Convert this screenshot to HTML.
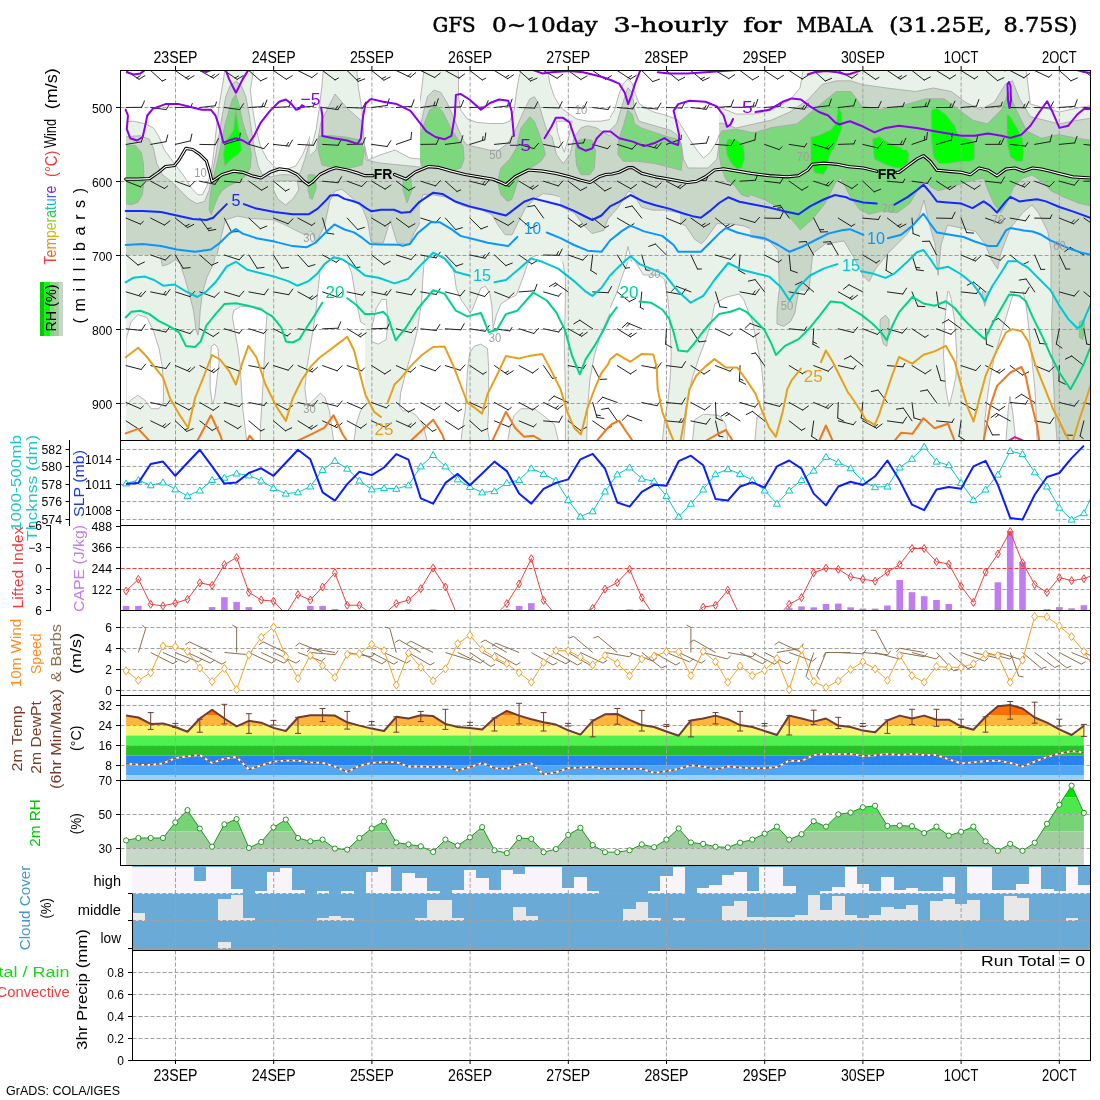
<!DOCTYPE html><html><head><meta charset="utf-8"><style>html,body{margin:0;padding:0;background:#fff;}svg{display:block;}</style></head><body><svg width="1100" height="1100" viewBox="0 0 1100 1100" font-family="'Liberation Sans', sans-serif">
<rect width="1100" height="1100" fill="#fff"/>
<defs>
<clipPath id="cTop"><rect x="120.5" y="70.5" width="970" height="370"/></clipPath>
<clipPath id="cSlp"><rect x="120.5" y="440.5" width="970" height="85"/></clipPath>
<clipPath id="cCape"><rect x="120.5" y="525.5" width="970" height="85"/></clipPath>
<clipPath id="cWind"><rect x="120.5" y="610.5" width="970" height="85"/></clipPath>
<clipPath id="cTemp"><rect x="120.5" y="695.5" width="970" height="85"/></clipPath>
<clipPath id="cRh"><rect x="120.5" y="780.5" width="970" height="85"/></clipPath>
</defs>
<text x="432.4" y="32.4" font-family="'DejaVu Serif', 'Liberation Serif', serif" font-size="20.5" stroke="#000" stroke-width="0.5" textLength="43.3" lengthAdjust="spacingAndGlyphs" fill="#000">GFS</text>
<text x="492" y="32.4" font-family="'DejaVu Serif', 'Liberation Serif', serif" font-size="20.5" stroke="#000" stroke-width="0.5" textLength="105.7" lengthAdjust="spacingAndGlyphs" fill="#000">0~10day</text>
<text x="613.6" y="32.4" font-family="'DejaVu Serif', 'Liberation Serif', serif" font-size="20.5" stroke="#000" stroke-width="0.5" textLength="114.6" lengthAdjust="spacingAndGlyphs" fill="#000">3-hourly</text>
<text x="743.2" y="32.4" font-family="'DejaVu Serif', 'Liberation Serif', serif" font-size="20.5" stroke="#000" stroke-width="0.5" textLength="38.2" lengthAdjust="spacingAndGlyphs" fill="#000">for</text>
<text x="796.4" y="32.4" font-family="'DejaVu Serif', 'Liberation Serif', serif" font-size="20.5" stroke="#000" stroke-width="0.5" textLength="76.3" lengthAdjust="spacingAndGlyphs" fill="#000">MBALA</text>
<text x="888.9" y="32.4" font-family="'DejaVu Serif', 'Liberation Serif', serif" font-size="20.5" stroke="#000" stroke-width="0.5" textLength="103.1" lengthAdjust="spacingAndGlyphs" fill="#000">(31.25E,</text>
<text x="1003.6" y="32.4" font-family="'DejaVu Serif', 'Liberation Serif', serif" font-size="20.5" stroke="#000" stroke-width="0.5" textLength="73.9" lengthAdjust="spacingAndGlyphs" fill="#000">8.75S)</text>
<g clip-path="url(#cTop)">
<rect x="126.1" y="70" width="964.4" height="371" fill="#e8f2e8"/>
<clipPath id="ch0"><rect x="126.1" y="70" width="238.9" height="185"/></clipPath>
<g clip-path="url(#ch0)">
<polygon points="125.6,70 224.7,70 223.6,78.9 221.3,92.3 219.1,105.6 216.9,123.5 214.7,143.5 212.4,163.5 210.2,174.7 206.9,185.8 202.4,194.7 198,194.7 191.3,188 184.6,176.9 177.9,168 171.2,159.1 164.5,150.2 159,136.8 153.4,127.9 144.5,123.5 133.4,121.2 125.6,121.7" fill="#ffffff" stroke="#aaa2aa" stroke-width="0.8"/>
<polygon points="253.6,70 329.4,70 326,78.9 321.6,94.5 318.2,110.1 313.8,125.7 308.2,141.3 302.6,154.6 295.9,165.8 287,169.1 275.9,168 267,159.1 260.3,145.7 255.9,127.9 252.5,107.9 250.3,90" fill="#ffffff" stroke="#aaa2aa" stroke-width="0.8"/>
<polygon points="338.3,78.9 353.9,74.5 367.2,76.7 367.2,92.3 351.6,94.5 340.5,90" fill="#ffffff" stroke="#aaa2aa" stroke-width="0.8"/>
<polygon points="125.6,136.8 140,135.7 149,139 153.4,148 156.7,163.5 162.3,174.7 171.2,181.4 180.1,190.3 189,199.2 196.8,203.6 204.6,201.4 209.1,190.3 212.4,172.4 215.8,154.6 219.1,134.6 222.4,114.5 225.8,96.7 230.2,85.6 235.8,81.1 241.4,85.6 245.8,96.7 249.2,114.5 251.8,132.4 254.7,150.2 258.1,165.8 262.5,174.7 271.4,176.9 280.4,174.7 289.3,174.7 295.9,176.9 300.4,172.4 304.9,159.1 309.3,143.5 313.8,132.4 319.3,121.2 327.1,114.5 338.3,111.2 351.6,110.1 367.2,111.2 367.2,190 349.8,182.5 342.3,182.5 331.8,190 327.3,197.4 319.8,219.9 313.8,234.8 304.9,234.8 295.9,230.4 283.9,224.3 273.5,219.9 263,219.2 249.4,218.3 237.4,216.1 225.3,219.9 216.4,257.1 209.1,257.1 125.6,257.1" fill="#c8d7c8" stroke="#aaa2aa" stroke-width="0.8"/>
<polygon points="273.5,180.9 297.3,180.9 298.8,190 292.8,199 285.5,205 277.9,199 273.5,190" fill="#e8f2e8" stroke="#aaa2aa" stroke-width="0.8"/>
<polygon points="333.8,257.1 337.1,243.7 342.7,239.3 349.4,243.7 351.6,257.1" fill="#ffffff" stroke="#aaa2aa" stroke-width="0.8"/>
<polygon points="125.6,144.6 135.6,145.7 141.2,152.4 143.4,163.5 144.1,181.4 142.3,194.7 137.8,202.5 131.1,204.7 125.6,203.6" fill="#7dd77d" stroke="#aaa2aa" stroke-width="0.8"/>
<polygon points="235.8,94.5 239.2,105.6 242.5,121.2 245.8,132.4 249.2,141.3 251.4,154.6 250.3,168 244.7,176.9 238,181.4 229.1,185.8 222.4,190.3 218,196.9 213.5,208.1 211.3,214.8 209.1,210.3 210.2,194.7 213.5,176.9 218,159.1 221.3,143.5 224.7,125.7 229.1,110.1 232.5,99" fill="#7dd77d" stroke="#aaa2aa" stroke-width="0.8"/>
<polygon points="320.4,136.8 329.4,134.6 340.5,133.5 351.6,136.8 362.8,141.3 367.2,142.4 367.2,168 356.1,168 342.7,163.5 331.6,163.5 322.7,161.3 319.3,150.2" fill="#7dd77d" stroke="#aaa2aa" stroke-width="0.8"/>
<polygon points="308,174.9 314,174.9 316.9,182.5 314,200.5 310.9,201.8 308,190" fill="#7dd77d" stroke="#aaa2aa" stroke-width="0.8"/>
<polygon points="235.8,110.1 238,125.7 240.3,136.8 241.4,150.2 238,154.6 231.4,159.1 224.7,165.8 223.6,154.6 224.7,143.5 229.1,136.8 233.6,130.1 234.7,119" fill="#00ff00" stroke="#aaa2aa" stroke-width="0.8"/>
</g>
<clipPath id="ch1"><rect x="365" y="70" width="245" height="185"/></clipPath>
<g clip-path="url(#ch1)">
<polygon points="362.8,70 424,70 422.9,78.9 420.7,96.7 417.3,114.5 415.1,127.9 411.8,141.3 407.3,152.4 400.6,159.1 391.7,159.1 382.8,154.6 373.9,145.7 362.8,136.8" fill="#ffffff" stroke="#aaa2aa" stroke-width="0.8"/>
<polygon points="458.5,70 520.9,70 518.7,78.9 516.4,92.3 514.2,110.1 509.8,121.2 503.1,123.5 489.7,123.5 476.4,122.3 467.4,119 460.8,110.1 458.5,96.7" fill="#ffffff" stroke="#aaa2aa" stroke-width="0.8"/>
<polygon points="547.6,70 612.2,70 612.2,119 601.1,121.2 587.7,121.2 576.6,119 569.9,114.5 561,107.9 554.3,96.7 549.9,83.4" fill="#ffffff" stroke="#aaa2aa" stroke-width="0.8"/>
<polygon points="362.8,134.6 371.7,143.5 378.4,150.2 391.7,163.5 405.1,168 416.2,165.8 418.5,136.8 422.9,114.5 427.4,96.7 434,90 440.7,92.3 447.4,103.4 454.1,119 460.8,134.6 465.2,143.5 469.7,145.7 480.8,148 489.7,150.2 498.6,150.2 507.5,143.5 516.4,127.9 523.1,112.3 529.8,99 534.3,96.7 538.7,103.4 543.2,119 547.6,132.4 552.1,136.8 556.5,154.6 563.2,163.5 569.9,154.6 574.4,136.8 581,127.9 587.7,125.7 596.6,127.9 603.3,132.4 612.2,136.8 612.2,221.4 601.1,225.9 596.6,219.2 587.7,212.5 578.8,203.6 569.9,199.2 561,196.9 552.1,194.7 543.2,193.6 534.3,199.2 525.4,208.1 518.7,221.4 512,234.8 505.3,234.8 498.6,225.9 491.9,214.8 483,210.3 471.9,208.1 463,205.9 454.1,201.4 445.2,196.9 431.8,194.7 422.9,194.7 418.5,208.1 414,225.9 409.5,245.9 405.1,248.2 400.6,234.8 394,223.7 387.3,217 378.4,217 371.7,225.9 367.2,234.8 362.8,239.3" fill="#c8d7c8" stroke="#aaa2aa" stroke-width="0.8"/>
<polygon points="556.5,121.2 572.1,121.2 568.8,136.8 564.3,152.4 561,143.5 557.7,132.4" fill="#ffffff" stroke="#aaa2aa" stroke-width="0.8"/>
<polygon points="420.7,132.4 429.6,110.1 436.3,105.6 443,112.3 449.6,125.7 456.3,136.8 463,145.7 464.1,159.1 460.8,168 454.1,170.2 440.7,168 429.6,165.8 422.9,168 419.6,159.1 418.5,143.5" fill="#7dd77d" stroke="#aaa2aa" stroke-width="0.8"/>
<polygon points="402.9,179.1 411.8,179.1 412.9,190.3 408.4,203.6 404,194.7" fill="#7dd77d" stroke="#aaa2aa" stroke-width="0.8"/>
<polygon points="520.9,127.9 529.8,116.8 534.3,121.2 538.7,132.4 543.2,145.7 545.4,154.6 540.9,161.3 534.3,165.8 525.4,170.2 518.7,176.9 516.4,185.8 512,199.2 507.5,201.4 500.9,194.7 497.5,181.4 500.9,168 509.8,159.1 516.4,148 518.7,136.8" fill="#7dd77d" stroke="#aaa2aa" stroke-width="0.8"/>
<polygon points="576.6,141.3 583.3,139 592.2,140.2 595.5,150.2 594.4,168 589.9,174.7 581,174.7 576.6,165.8 575.5,152.4" fill="#7dd77d" stroke="#aaa2aa" stroke-width="0.8"/>
</g>
<clipPath id="ch2"><rect x="610" y="70" width="240" height="185"/></clipPath>
<g clip-path="url(#ch2)">
<polygon points="607.8,70 806,70 804.9,87.8 801.5,99 792.6,105.6 779.3,107.9 765.9,112.3 752.5,119 734.7,122.3 725.8,121.2 721.4,127.9 716.9,141.3 710.2,152.4 703.5,158 696.9,150.2 688,136.8 681.3,125.7 676.8,119 670.1,116.8 663.5,114.5 654.5,112.3 645.6,107.9 639,103.4 635.6,94.5 632.3,83.4 627.8,78.9 623.4,83.4 618.9,94.5 614.5,110.1 607.8,121.2" fill="#ffffff" stroke="#aaa2aa" stroke-width="0.8"/>
<polygon points="607.8,132.4 616.7,123.5 623.4,101.2 627.8,87.8 632.3,92.3 634.5,110.1 639,121.2 654.5,125.7 670.1,130.1 676.8,134.6 681.3,143.5 683.5,159.1 688,168 699.1,168 708,168 716.9,159.1 719.1,143.5 721.4,132.4 725.8,125.7 743.6,123.5 765.9,119 783.7,114.5 801.5,110.1 819.4,96.7 830.5,83.4 839.4,76.7 857.2,74.5 857.2,230.4 843.9,239.3 832.7,245.9 823.8,248.2 810.4,245.9 799.3,239.3 788.2,234.8 779.3,234.8 765.9,234.8 754.8,230.4 743.6,225.9 730.3,223.7 716.9,223.7 705.8,239.3 701.3,243.7 694.6,239.3 685.7,225.9 676.8,221.4 665.7,217 654.5,210.3 643.4,205.9 632.3,201.4 623.4,196.9 614.5,194.7 607.8,194.7" fill="#c8d7c8" stroke="#aaa2aa" stroke-width="0.8"/>
<polygon points="618.9,139 623.4,125.7 627.8,110.1 632.3,114.5 634.5,123.5 641.2,127.9 654.5,132.4 667.9,136.8 676.8,139 681.3,143.5 682.4,159.1 681.3,170.2 672.4,168 654.5,163.5 636.7,161.3 623.4,161.3 617.8,154.6" fill="#7dd77d" stroke="#aaa2aa" stroke-width="0.8"/>
<polygon points="720.2,136.8 725.8,132.4 734.7,132.4 743.6,134.6 754.8,136.8 765.9,136.8 774.8,134.6 781.5,136.8 788.2,143.5 794.9,150.2 801.5,154.6 810.4,150.2 814.9,136.8 823.8,127.9 832.7,114.5 834.9,96.7 841.6,90 850.5,88.9 857.2,90 857.2,203.6 850.5,201.4 841.6,194.7 832.7,199.2 823.8,212.5 814.9,221.4 806,230.4 799.3,225.9 794.9,212.5 788.2,201.4 779.3,194.7 770.4,190.3 763.7,188 757,192.5 748.1,196.9 741.4,194.7 734.7,185.8 725.8,179.1 721.4,168 719.1,154.6" fill="#7dd77d" stroke="#aaa2aa" stroke-width="0.8"/>
<polygon points="728,139 736.9,140.2 743.6,145.7 744.7,159.1 741.4,168 736.9,169.1 731.4,163.5 726.9,154.6 725.8,145.7" fill="#00ff00" stroke="#aaa2aa" stroke-width="0.8"/>
<polygon points="812.7,136.8 821.6,141.3 830.5,136.8 834.9,127.9 837.2,114.5 839.4,105.6 842.7,114.5 841.6,127.9 837.2,141.3 832.7,152.4 829.4,159.1 826,168 823.8,174.7 817.1,174.7 812.7,168 810.4,159.1 811.6,145.7" fill="#00ff00" stroke="#aaa2aa" stroke-width="0.8"/>
</g>
<clipPath id="ch3"><rect x="850" y="70" width="240.5" height="185"/></clipPath>
<g clip-path="url(#ch3)">
<polygon points="905.7,70 1092.8,70 1092.8,96.7 1072.7,101.2 1063.8,94.5 1054.9,90 1041.5,92.3 1028.2,94.5 1019.3,87.8 1012.6,81.1 1005.9,78.9 999.2,83.4 992.5,92.3 983.6,96.7 974.7,94.5 965.8,90 954.7,87.8 943.5,85.6 930.2,83.4 916.8,78.9" fill="#ffffff" stroke="#aaa2aa" stroke-width="0.8"/>
<polygon points="847.8,87.8 863.4,83.4 876.7,87.8 894.5,90 912.4,92.3 928,94.5 943.5,96.7 956.9,101.2 970.3,110.1 983.6,114.5 994.8,105.6 1001.4,92.3 1005.9,83.4 1010.4,83.4 1017,96.7 1023.7,114.5 1032.6,125.7 1041.5,127.9 1050.4,132.4 1059.4,136.8 1068.3,136.8 1077.2,139 1092.8,141.3 1092.8,239.3 1081.6,243.7 1072.7,248.2 1063.8,257.1 1050.4,257.1 1046,239.3 1041.5,225.9 1037.1,212.5 1032.6,208.1 1025.9,212.5 1019.3,225.9 1010.4,234.8 1003.7,243.7 997,248.2 988.1,243.7 981.4,239.3 974.7,234.8 965.8,230.4 956.9,225.9 948,223.7 939.1,225.9 934.6,234.8 930.2,243.7 925.7,230.4 921.3,217 916.8,221.4 907.9,234.8 901.2,243.7 894.5,239.3 885.6,230.4 876.7,225.9 867.8,221.4 858.9,221.4 847.8,225.9" fill="#c8d7c8" stroke="#aaa2aa" stroke-width="0.8"/>
<polygon points="847.8,92.3 863.4,94.5 876.7,101.2 890.1,103.4 905.7,101.2 921.3,99 932.4,96.7 943.5,99 954.7,107.9 965.8,119 974.7,125.7 981.4,134.6 983.6,148 983.6,163.5 979.2,176.9 970.3,185.8 961.4,190.3 952.4,194.7 943.5,201.4 934.6,205.9 925.7,203.6 921.3,190.3 916.8,203.6 907.9,210.3 899,217 890.1,212.5 883.4,208.1 872.3,203.6 863.4,199.2 847.8,196.9" fill="#7dd77d" stroke="#aaa2aa" stroke-width="0.8"/>
<polygon points="994.8,143.5 1001.4,127.9 1005.9,110.1 1009.2,96.7 1012.6,103.4 1019.3,119 1025.9,127.9 1030.4,143.5 1030.4,163.5 1028.2,181.4 1023.7,190.3 1014.8,194.7 1005.9,203.6 999.2,212.5 994.8,203.6 992.5,185.8 992.5,168" fill="#7dd77d" stroke="#aaa2aa" stroke-width="0.8"/>
<polygon points="1041.5,154.6 1046,145.7 1054.9,141.3 1063.8,140.2 1072.7,143.5 1081.6,150.2 1092.8,154.6 1092.8,194.7 1081.6,194.7 1072.7,190.3 1063.8,181.4 1054.9,176.9 1046,174.7 1041.5,168" fill="#7dd77d" stroke="#aaa2aa" stroke-width="0.8"/>
<polygon points="872.3,139 879,136.8 890.1,143.5 901.2,148 909,154.6 907.9,163.5 901.2,168 894.5,168 883.4,163.5 874.5,159.1" fill="#00ff00" stroke="#aaa2aa" stroke-width="0.8"/>
<polygon points="931.3,110.1 936.9,107.9 945.8,114.5 954.7,125.7 959.1,136.8 970.3,139 974.7,143.5 974.7,159.1 970.3,161.3 961.4,161.3 948,163.5 939.1,163.5 933.5,156.9 931.3,136.8" fill="#00ff00" stroke="#aaa2aa" stroke-width="0.8"/>
<polygon points="1007,114.5 1010.4,116.8 1017,127.9 1022.6,139 1023.7,152.4 1022.6,161.3 1017,161.3 1010.4,156.9 1007,141.3" fill="#00ff00" stroke="#aaa2aa" stroke-width="0.8"/>
</g>
<clipPath id="ch4"><rect x="126.1" y="255" width="238.9" height="185.5"/></clipPath>
<g clip-path="url(#ch4)">
<polygon points="160.1,252.8 215.8,252.8 213.5,263.9 206.9,277.3 202.4,292.9 200.2,310.7 199.1,328.5 198,335.2 195.7,328.5 193.5,310.7 189,292.9 184.6,277.3 180.1,263.9 175.7,259.5 169,263.9 162.3,266.1" fill="#c8d7c8" stroke="#aaa2aa" stroke-width="0.8"/>
<polygon points="126,339.6 131.1,321.8 137.8,314.7 146.7,317.4 153.4,330.7 159,348.5 162.3,366.4 163.4,384.2 163.4,402 159,408.7 151.2,408.7 144.5,399.8 137.8,395.3 131.1,399.8 126,406.4" fill="#ffffff" stroke="#aaa2aa" stroke-width="0.8"/>
<polygon points="211.3,346.3 214.7,344.1 218,348.5 219.1,361.9 216.9,379.7 214.7,397.5 212.4,404.2 210.2,388.6 210.2,366.4" fill="#ffffff" stroke="#aaa2aa" stroke-width="0.8"/>
<polygon points="233.6,310.7 240.3,306.7 253.6,306.2 262.5,308.5 267,315.1 265.9,328.5 264.8,348.5 263.7,370.8 262.5,393.1 261.4,410.9 260.3,428.7 260.3,442.1 246.9,442.1 244.7,424.3 242.5,406.4 241.4,388.6 240.3,366.4 238,348.5 234.7,330.7 232.5,317.4" fill="#ffffff" stroke="#aaa2aa" stroke-width="0.8"/>
<polygon points="320.4,268.4 329.4,259.5 338.3,257.2 347.2,261.7 351.6,272.8 356.1,299.5 360.5,321.8 367.2,326.3 367.2,402 360.5,410.9 356.1,424.3 353.9,442.1 333.8,442.1 329.4,410.9 324.9,397.5 320.4,393.1 313.8,399.8 307.1,406.4 304.9,388.6 307.1,366.4 311.5,339.6 316,310.7 318.2,288.4" fill="#ffffff" stroke="#aaa2aa" stroke-width="0.8"/>
</g>
<clipPath id="ch5"><rect x="365" y="255" width="245" height="185.5"/></clipPath>
<g clip-path="url(#ch5)">
<polygon points="425.1,252.8 438.5,252.8 449.6,261.7 454.1,272.8 456.3,288.4 460.8,299.5 467.4,308.5 469.7,312.9 471.9,310.7 476.4,299.5 480.8,288.4 485.3,286.2 489.7,292.9 491.9,306.2 493.1,328.5 496.4,315.1 500.9,304 507.5,299.5 516.4,295.1 523.1,277.3 527.6,263.9 532,257.2 543.2,252.8 558.8,252.8 563.2,263.9 565.4,277.3 565.4,299.5 564.3,344.1 565.4,388.6 565.4,442.1 558.8,442.1 554.3,424.3 543.2,415.4 534.3,408.7 520.9,408.7 514.2,415.4 509.8,428.7 507.5,442.1 489.7,442.1 487.5,428.7 488.6,410.9 488.6,388.6 488.6,366.4 487.5,348.5 480.8,344.1 474.1,346.3 469.7,353 467.4,370.8 466.3,393.1 465.2,410.9 463,424.3 460.8,442.1 427.4,442.1 422.9,424.3 416.2,415.4 409.5,410.9 402.9,410.9 399.5,406.4 400.6,393.1 405.1,375.3 409.5,359.7 414,344.1 417.3,330.7 419.6,315.1 421.8,299.5 422.9,277.3 424,263.9" fill="#ffffff" stroke="#aaa2aa" stroke-width="0.8"/>
<polygon points="371.7,328.5 376.1,308.5 381.7,299.5 386.2,299.5 387.3,312.9 387.3,328.5 386.2,339.6 378.4,344.1 371.7,341.9" fill="#ffffff" stroke="#aaa2aa" stroke-width="0.8"/>
<polygon points="612.2,308.5 601.1,333 594.4,355.2 589.9,379.7 587.7,406.4 586.6,442.1 612.2,442.1" fill="#ffffff" stroke="#aaa2aa" stroke-width="0.8"/>
</g>
<clipPath id="ch6"><rect x="610" y="255" width="240" height="185.5"/></clipPath>
<g clip-path="url(#ch6)">
<polygon points="779.3,252.8 823.8,252.8 817.1,263.9 810.4,272.8 803.8,279.5 799.3,288.4 797.1,299.5 794.9,312.9 790.4,321.8 783.7,326.3 777,324 777,310.7 779.3,288.4 780.4,268.4" fill="#c8d7c8" stroke="#aaa2aa" stroke-width="0.8"/>
<polygon points="607.8,312.9 616.7,292.9 623.4,272.8 630,257.2 636.7,263.9 643.4,275 659,275 664.6,279.5 667.9,299.5 670.1,326.3 671.2,355.2 670.1,379.7 667.9,402 664.6,419.8 662.3,442.1 607.8,442.1" fill="#ffffff" stroke="#aaa2aa" stroke-width="0.8"/>
<polygon points="714.7,304 725.8,297.3 739.2,294 743.6,299.5 752.5,321.8 757,344.1 761.4,366.4 763.7,388.6 763.7,410.9 757,417.6 754.8,442.1 728,442.1 725.8,424.3 719.1,415.4 703.5,414.2 694.6,419.8 692.4,442.1 683.5,442.1 685.7,419.8 688,397.5 692.4,377.5 699.1,357.4 705.8,339.6 711.3,321.8" fill="#ffffff" stroke="#aaa2aa" stroke-width="0.8"/>
</g>
<clipPath id="ch7"><rect x="850" y="255" width="240.5" height="185.5"/></clipPath>
<g clip-path="url(#ch7)">
<polygon points="858.9,252.8 901.2,252.8 894.5,259.5 883.4,263.9 874.5,272.8 867.8,281.7 862.2,284 860,272.8" fill="#c8d7c8" stroke="#aaa2aa" stroke-width="0.8"/>
<polygon points="932.4,252.8 939.1,252.8 938,268.4 935.7,277.3 933.5,268.4" fill="#c8d7c8" stroke="#aaa2aa" stroke-width="0.8"/>
<polygon points="981.4,252.8 1001.4,252.8 997,266.1 992.5,277.3 988.1,295.1 984.7,306.2 982.5,295.1 981.4,277.3" fill="#c8d7c8" stroke="#aaa2aa" stroke-width="0.8"/>
<polygon points="880.1,319.6 885.6,315.1 889,319.6 889,333 886.7,346.3 883.4,344.1 880.1,330.7" fill="#c8d7c8" stroke="#aaa2aa" stroke-width="0.8"/>
<polygon points="1054.9,281.7 1059.4,277.3 1068.3,279.5 1077.2,270.6 1083.9,259.5 1092.8,252.8 1092.8,442.1 1057.1,442.1 1054.9,410.9 1052.7,366.4 1051.6,321.8 1052.7,295.1" fill="#c8d7c8" stroke="#aaa2aa" stroke-width="0.8"/>
<polygon points="948,288.4 951.3,299.5 954.7,321.8 956.9,355.2 955.8,377.5 952.4,393.1 949.1,406.4 945.8,388.6 943.5,355.2 944.7,321.8 946.9,299.5" fill="#ffffff" stroke="#aaa2aa" stroke-width="0.8"/>
<polygon points="1014.8,290.6 1022.6,290.6 1025.9,304 1028.2,321.8 1030.4,344.1 1032.6,366.4 1034.9,388.6 1036,410.9 1037.1,442.1 983.6,442.1 984.7,422 987,399.8 990.3,377.5 994.8,355.2 1001.4,333 1008.1,310.7 1011.5,299.5" fill="#ffffff" stroke="#aaa2aa" stroke-width="0.8"/>
<polygon points="1005.9,442.1 1008.1,410.9 1009.9,396.4 1012.6,410.9 1015.9,442.1" fill="#e8f2e8" stroke="#aaa2aa" stroke-width="0.8"/>
<polygon points="1079.4,321.8 1083.9,319.6 1085,330.7 1082.7,339.6 1079.4,337.4" fill="#7dd77d" stroke="#aaa2aa" stroke-width="0.8"/>
</g>
<clipPath id="pt0"><rect x="310" y="70" width="110" height="186"/></clipPath>
<g clip-path="url(#pt0)">
<polygon points="300.0,60.0 430.0,60.0 430.0,266.0 300.0,266.0" fill="#e8f2e8"/>
<polygon points="356.0,60.0 430.0,60.0 430.0,160.0 410.0,158.0 395.0,150.0 380.0,155.0 368.0,160.0 363.0,140.0 362.0,110.0 358.0,85.0" fill="#ffffff" stroke="#aaa2aa" stroke-width="0.8"/>
<polygon points="300.0,60.0 324.0,60.0 322.0,85.0 319.0,110.0 316.0,130.0 312.0,145.0 300.0,150.0" fill="#ffffff" stroke="#aaa2aa" stroke-width="0.8"/>
<polygon points="300.0,165.0 316.0,150.0 321.0,122.0 328.0,108.0 335.0,94.0 347.0,108.0 362.6,122.0 366.0,160.0 380.0,163.0 400.0,165.0 430.0,168.0 430.0,206.5 414.4,232.4 409.2,244.5 397.1,242.8 390.2,220.3 383.3,242.8 371.2,242.8 367.8,222.0 362.6,208.2 352.2,197.9 341.8,189.2 335.0,191.0 329.7,201.3 324.6,225.5 316.0,243.0 312.0,232.0 300.0,226.0" fill="#c8d7c8" stroke="#aaa2aa" stroke-width="0.8"/>
<polygon points="319.0,136.0 330.0,135.5 345.0,137.0 360.0,140.0 364.5,150.0 362.0,165.0 350.0,168.0 335.0,168.0 322.0,165.0 318.0,150.0" fill="#7dd77d" stroke="#aaa2aa" stroke-width="0.8"/>
<polygon points="403.0,179.0 411.0,179.0 412.0,190.0 407.0,203.0 403.0,190.0" fill="#7dd77d" stroke="#aaa2aa" stroke-width="0.8"/>
<polygon points="300.0,173.6 315.0,175.0 316.3,187.3 312.3,199.5 300.0,190.0" fill="#7dd77d" stroke="#aaa2aa" stroke-width="0.8"/>
</g>
<clipPath id="pt1"><rect x="560" y="185" width="120" height="77"/></clipPath>
<g clip-path="url(#pt1)">
<polygon points="550.0,175.0 690.0,175.0 690.0,272.0 550.0,272.0" fill="#e8f2e8"/>
<polygon points="550.0,175.0 690.0,175.0 690.0,214.5 664.7,210.2 653.0,210.2 641.5,207.3 632.7,192.7 628.4,191.3 618.2,207.3 608.0,219.0 603.6,230.5 592.0,233.5 583.3,224.7 574.5,213.0 550.0,201.5" fill="#c8d7c8" stroke="#aaa2aa" stroke-width="0.8"/>
<polygon points="622.0,272.0 628.0,246.5 634.0,272.0" fill="#ffffff" stroke="#aaa2aa" stroke-width="0.8"/>
</g>
<clipPath id="pt2"><rect x="800" y="70" width="120" height="192"/></clipPath>
<g clip-path="url(#pt2)">
<polygon points="790.0,60.0 930.0,60.0 930.0,272.0 790.0,272.0" fill="#e8f2e8"/>
<polygon points="790.0,150.0 806.0,135.0 815.0,115.0 825.0,98.0 832.0,85.0 845.0,80.0 860.0,84.0 880.0,88.0 900.0,92.0 930.0,95.0 930.0,272.0 905.0,272.0 895.0,258.0 880.0,252.0 865.0,255.0 860.0,251.8 850.9,242.7 836.4,237.3 818.2,239.0 790.0,246.4" fill="#c8d7c8" stroke="#aaa2aa" stroke-width="0.8"/>
<polygon points="834.5,90.0 847.3,88.2 860.0,99.0 869.0,104.5 881.8,102.7 901.8,117.3 912.7,111.8 930.0,108.0 930.0,197.3 918.2,200.9 909.1,208.2 900.0,215.5 890.9,213.6 881.8,211.8 872.7,215.5 863.6,215.5 861.8,210.0 854.5,197.3 843.6,182.7 838.2,174.5 834.5,186.4 827.3,208.2 818.2,219.0 807.3,228.2 790.0,230.0 790.0,148.0 803.6,142.7 811.0,130.0 818.2,121.0 827.3,106.4" fill="#7dd77d" stroke="#aaa2aa" stroke-width="0.8"/>
<polygon points="810.9,137.3 818.2,135.5 830.9,130.0 836.4,122.7 838.2,106.4 841.8,113.6 841.8,128.2 836.4,142.7 829.1,157.3 827.3,168.2 823.6,174.5 814.5,172.7 810.9,160.9" fill="#00ff00" stroke="#aaa2aa" stroke-width="0.8"/>
<polygon points="872.7,139.0 880.0,137.3 890.9,144.5 905.5,148.2 909.1,153.6 905.5,164.5 898.2,171.8 887.3,168.2 876.4,164.5 873.6,151.8" fill="#00ff00" stroke="#aaa2aa" stroke-width="0.8"/>
</g>
<clipPath id="pt3"><rect x="750" y="150" width="340.5" height="141"/></clipPath>
<g clip-path="url(#pt3)">
<polygon points="740.0,140.0 1100.5,140.0 1100.5,301.0 740.0,301.0" fill="#e8f2e8"/>
<polygon points="740.0,140.0 1100.5,140.0 1100.5,301.0 1051.0,301.0 1051.0,250.0 1047.8,231.5 1038.4,212.7 1032.1,204.9 1022.7,212.7 1010.2,228.4 1000.8,253.4 997.6,269.1 991.4,259.7 985.1,244.0 975.7,231.5 963.2,228.4 947.5,225.2 941.2,244.0 938.1,275.4 935.0,244.0 928.7,222.1 924.0,200.2 919.3,215.8 906.7,234.6 887.9,253.4 875.4,269.1 869.1,281.7 862.9,275.4 853.4,256.6 844.0,240.9 825.2,244.0 812.7,253.4 808.0,301.0 779.8,301.0 778.2,250.3 768.8,240.9 740.0,234.6" fill="#c8d7c8" stroke="#aaa2aa" stroke-width="0.8"/>
<polygon points="740.0,140.0 1100.5,140.0 1100.5,208.0 1079.1,203.3 1063.5,197.0 1050.9,190.8 1041.5,181.3 1032.1,175.1 1022.7,178.2 1013.3,187.6 1007.0,203.3 1000.8,212.7 994.5,204.9 988.2,190.8 983.5,178.2 975.7,179.8 963.2,182.9 950.6,187.6 938.1,190.8 931.8,187.6 924.0,179.8 919.3,187.6 909.9,203.3 897.3,212.7 881.7,211.1 869.1,214.3 859.7,209.6 850.3,197.0 840.9,178.2 836.2,181.3 825.2,203.3 812.7,219.0 800.2,230.0 793.9,222.1 781.3,209.6 765.7,200.2 740.0,190.8" fill="#7dd77d" stroke="#aaa2aa" stroke-width="0.8"/>
<polygon points="872.3,140.0 879.0,140.0 890.1,140.0 901.2,140.0 909.0,154.6 907.9,163.5 901.2,168.0 894.5,168.0 883.4,163.5 874.5,159.1" fill="#00ff00" stroke="#aaa2aa" stroke-width="0.8"/>
<polygon points="931.3,140.0 936.9,140.0 945.8,140.0 954.7,140.0 959.1,140.0 970.3,140.0 974.7,140.0 974.7,159.1 970.3,161.3 961.4,161.3 948.0,163.5 939.1,163.5 933.5,156.9 931.3,140.0" fill="#00ff00" stroke="#aaa2aa" stroke-width="0.8"/>
<polygon points="1007.0,140.0 1010.4,140.0 1017.0,140.0 1022.6,140.0 1023.7,152.4 1022.6,161.3 1017.0,161.3 1010.4,156.9 1007.0,140.0" fill="#00ff00" stroke="#aaa2aa" stroke-width="0.8"/>
<polygon points="810.9,140.0 818.2,140.0 830.9,140.0 836.4,140.0 838.2,140.0 841.8,140.0 841.8,140.0 836.4,140.0 829.1,157.3 827.3,168.2 823.6,174.5 814.5,172.7 810.9,160.9" fill="#00ff00" stroke="#aaa2aa" stroke-width="0.8"/>
</g>
<clipPath id="pt4"><rect x="719" y="70" width="371.5" height="80"/></clipPath>
<g clip-path="url(#pt4)">
<polygon points="709.0,60.0 1100.5,60.0 1100.5,160.0 709.0,160.0" fill="#ffffff"/>
<polygon points="709.0,112.0 721.5,108.0 735.9,114.0 753.9,114.0 771.8,110.0 789.8,100.0 800.0,88.0 805.0,60.0 1000.0,60.0 1005.0,72.0 1012.4,60.0 1025.0,60.0 1030.3,104.0 1044.7,108.0 1059.1,112.0 1077.0,108.0 1100.5,104.0 1100.5,160.0 709.0,160.0" fill="#e8f2e8" stroke="#aaa2aa" stroke-width="0.8"/>
<polygon points="709.0,126.0 721.5,123.0 735.9,128.0 753.9,124.0 771.8,120.0 789.8,112.0 807.7,100.0 822.1,84.4 836.4,80.8 850.8,80.8 861.6,84.4 886.7,88.0 915.4,91.5 933.4,88.0 951.3,91.5 965.7,102.3 980.1,109.5 994.4,102.3 1005.2,84.4 1012.4,80.8 1019.6,98.7 1030.3,116.7 1044.7,120.3 1059.1,123.9 1077.0,120.3 1100.5,116.7 1100.5,160.0 709.0,160.0" fill="#c8d7c8" stroke="#aaa2aa" stroke-width="0.8"/>
<polygon points="709.0,160.0 721.5,131.0 735.9,129.2 753.9,132.8 771.8,127.5 797.0,123.9 818.5,105.9 836.4,91.5 850.8,91.5 861.6,105.9 879.5,109.5 901.1,105.9 926.2,98.7 944.2,98.7 958.5,109.5 972.9,120.3 987.3,123.9 1001.6,109.5 1008.8,91.5 1016.0,109.5 1026.8,131.0 1041.1,138.2 1059.1,134.6 1077.0,138.2 1100.5,141.8 1100.5,160.0" fill="#7dd77d" stroke="#aaa2aa" stroke-width="0.8"/>
<polygon points="728.0,139.0 737.0,140.2 743.6,145.7 744.7,160.0 741.4,160.0 737.0,160.0 731.4,160.0 726.9,160.0 725.8,145.7" fill="#00ff00" stroke="#aaa2aa" stroke-width="0.8"/>
<polygon points="872.3,139.0 879.0,136.8 890.1,143.5 901.2,148.0 909.0,160.0 907.9,160.0 901.2,160.0 894.5,160.0 883.4,160.0 874.5,160.0" fill="#00ff00" stroke="#aaa2aa" stroke-width="0.8"/>
<polygon points="931.3,110.1 936.9,107.9 945.8,114.5 954.7,125.7 959.1,136.8 970.3,139.0 974.7,143.5 974.7,160.0 970.3,160.0 961.4,160.0 948.0,160.0 939.1,160.0 933.5,160.0 931.3,136.8" fill="#00ff00" stroke="#aaa2aa" stroke-width="0.8"/>
<polygon points="1007.0,114.5 1010.4,116.8 1017.0,127.9 1022.6,139.0 1023.7,160.0 1022.6,160.0 1017.0,160.0 1010.4,160.0 1007.0,141.3" fill="#00ff00" stroke="#aaa2aa" stroke-width="0.8"/>
<polygon points="810.9,137.3 818.2,135.5 830.9,130.0 836.4,122.7 838.2,106.4 841.8,113.6 841.8,128.2 836.4,142.7 829.1,160.0 827.3,160.0 823.6,160.0 814.5,160.0 810.9,160.0" fill="#00ff00" stroke="#aaa2aa" stroke-width="0.8"/>
</g>
</g>
<line x1="120.5" y1="107.5" x2="1090.5" y2="107.5" stroke="#a0a0a0" stroke-width="1" stroke-dasharray="4 2" />
<line x1="120.5" y1="181.5" x2="1090.5" y2="181.5" stroke="#a0a0a0" stroke-width="1" stroke-dasharray="4 2" />
<line x1="120.5" y1="255.5" x2="1090.5" y2="255.5" stroke="#a0a0a0" stroke-width="1" stroke-dasharray="4 2" />
<line x1="120.5" y1="329.5" x2="1090.5" y2="329.5" stroke="#a0a0a0" stroke-width="1" stroke-dasharray="4 2" />
<line x1="120.5" y1="403.5" x2="1090.5" y2="403.5" stroke="#a0a0a0" stroke-width="1" stroke-dasharray="4 2" />
<line x1="175.5" y1="70.5" x2="175.5" y2="440.5" stroke="#a0a0a0" stroke-width="1" stroke-dasharray="4 2"/>
<line x1="273.7" y1="70.5" x2="273.7" y2="440.5" stroke="#a0a0a0" stroke-width="1" stroke-dasharray="4 2"/>
<line x1="371.9" y1="70.5" x2="371.9" y2="440.5" stroke="#a0a0a0" stroke-width="1" stroke-dasharray="4 2"/>
<line x1="470.1" y1="70.5" x2="470.1" y2="440.5" stroke="#a0a0a0" stroke-width="1" stroke-dasharray="4 2"/>
<line x1="568.3" y1="70.5" x2="568.3" y2="440.5" stroke="#a0a0a0" stroke-width="1" stroke-dasharray="4 2"/>
<line x1="666.5" y1="70.5" x2="666.5" y2="440.5" stroke="#a0a0a0" stroke-width="1" stroke-dasharray="4 2"/>
<line x1="764.7" y1="70.5" x2="764.7" y2="440.5" stroke="#a0a0a0" stroke-width="1" stroke-dasharray="4 2"/>
<line x1="862.9" y1="70.5" x2="862.9" y2="440.5" stroke="#a0a0a0" stroke-width="1" stroke-dasharray="4 2"/>
<line x1="961.1" y1="70.5" x2="961.1" y2="440.5" stroke="#a0a0a0" stroke-width="1" stroke-dasharray="4 2"/>
<line x1="1059.3" y1="70.5" x2="1059.3" y2="440.5" stroke="#a0a0a0" stroke-width="1" stroke-dasharray="4 2"/>
<g clip-path="url(#cTop)" fill="none" stroke-linejoin="round" stroke-linecap="round">
<path d="M126.1,70.6L139.0,79.3M139.0,79.3l6.0,-3.6M136.9,77.9l3.4,-2.1M150.7,70.6L162.2,81.0M162.2,81.0l3.7,-1.6M175.3,70.6L188.1,79.3M188.1,79.3l6.0,-3.6M186.0,77.9l3.4,-2.1M199.8,70.6L213.4,78.1M213.4,78.1l5.6,-4.1M211.2,76.9l3.2,-2.4M224.4,70.6L237.1,79.4M237.1,79.4l6.0,-3.6M235.1,78.0l3.4,-2.0M248.9,70.6L260.6,80.8M260.6,80.8l6.4,-2.9M273.5,70.6L286.3,79.3M286.3,79.3l6.0,-3.6M298.0,70.6L311.9,77.6M311.9,77.6l5.5,-4.3M322.6,70.6L335.0,79.9M335.0,79.9l3.5,-1.9M347.2,70.6L358.2,81.4M358.2,81.4l6.5,-2.5M356.5,79.7l3.7,-1.4M371.7,70.6L383.9,80.2M383.9,80.2l6.2,-3.2M382.0,78.6l3.6,-1.8M396.3,70.6L410.3,77.2M410.3,77.2l5.4,-4.5M408.0,76.2l3.1,-2.6M420.8,70.6L434.7,77.5M434.7,77.5l5.5,-4.4M445.4,70.6L459.0,78.1M459.0,78.1l5.6,-4.1M469.9,70.6L482.3,80.0M482.3,80.0l3.5,-1.9M494.5,70.6L507.7,78.7M507.7,78.7l5.8,-3.9M505.6,77.4l3.3,-2.2M519.1,70.6L530.6,81.0M530.6,81.0l6.4,-2.8M528.7,79.3l3.7,-1.6M543.6,70.6L557.1,78.3M557.1,78.3l5.7,-4.0M568.2,70.6L580.9,79.5M580.9,79.5l6.1,-3.5M592.7,70.6L605.5,79.3M605.5,79.3l6.0,-3.6M617.3,70.6L630.3,79.1M630.3,79.1l5.9,-3.7M628.2,77.7l3.4,-2.1M641.8,70.6L652.8,81.6M652.8,81.6l6.6,-2.4M666.4,70.6L678.4,80.4M678.4,80.4l6.3,-3.1M690.9,70.6L702.8,80.6M702.8,80.6l6.4,-2.9M700.9,79.0l3.6,-1.7M715.5,70.6L728.8,78.6M728.8,78.6l5.8,-3.9M740.1,70.6L752.6,79.8M752.6,79.8l6.1,-3.4M764.6,70.6L777.6,79.1M777.6,79.1l5.9,-3.7M789.2,70.6L802.2,79.0M802.2,79.0l5.9,-3.7M813.7,70.6L825.3,81.0M825.3,81.0l6.4,-2.7M838.3,70.6L851.8,78.2M851.8,78.2l5.7,-4.1M862.8,70.6L875.6,79.4M875.6,79.4l3.4,-2.0M887.4,70.6L900.3,79.2M900.3,79.2l6.0,-3.7M898.3,77.8l3.4,-2.1M912.0,70.6L924.2,80.1M924.2,80.1l6.2,-3.2M936.5,70.6L949.7,78.8M949.7,78.8l5.9,-3.8M961.1,70.6L974.3,78.8M974.3,78.8l3.3,-2.2M985.6,70.6L997.5,80.6M997.5,80.6l6.4,-2.9M1010.2,70.6L1023.9,77.8M1023.9,77.8l5.6,-4.2M1034.7,70.6L1048.8,77.2M1048.8,77.2l3.1,-2.6M1059.3,70.6L1071.0,80.8M1071.0,80.8l6.4,-2.9M1083.9,70.6L1096.0,80.3M1096.0,80.3l6.3,-3.1M126.1,107.5L141.6,107.3M141.6,107.3l2.9,-6.4M150.7,107.5L166.1,109.6M166.1,109.6l3.8,-5.9M175.3,107.5L190.7,107.2M190.7,107.2l1.6,-3.7M199.8,107.5L215.2,105.8M215.2,105.8l1.3,-3.8M224.4,107.5L239.7,109.6M239.7,109.6l3.8,-5.9M248.9,107.5L264.4,106.5M264.4,106.5l2.5,-6.5M261.9,106.7l1.5,-3.7M273.5,107.5L289.0,106.7M289.0,106.7l2.6,-6.5M298.0,107.5L313.5,106.2M313.5,106.2l1.4,-3.7M322.6,107.5L337.9,109.6M337.9,109.6l3.8,-5.9M335.5,109.3l2.2,-3.4M347.2,107.5L362.6,108.1M362.6,108.1l3.2,-6.2M371.7,107.5L387.1,105.5M387.1,105.5l2.1,-6.7M396.3,107.5L411.7,106.3M411.7,106.3l2.4,-6.6M420.8,107.5L436.2,105.4M436.2,105.4l2.1,-6.7M433.7,105.7l1.2,-3.8M445.4,107.5L460.9,106.8M460.9,106.8l2.7,-6.5M469.9,107.5L485.4,107.0M485.4,107.0l2.8,-6.4M494.5,107.5L509.9,105.7M509.9,105.7l2.2,-6.6M507.4,106.0l1.3,-3.8M519.1,107.5L534.5,108.1M534.5,108.1l3.2,-6.2M543.6,107.5L559.1,107.9M559.1,107.9l3.1,-6.3M568.2,107.5L583.7,108.0M583.7,108.0l3.2,-6.2M592.7,107.5L608.1,109.5M608.1,109.5l2.1,-3.4M617.3,107.5L632.7,108.9M632.7,108.9l3.5,-6.0M641.8,107.5L657.3,109.1M657.3,109.1l3.6,-6.0M666.4,107.5L681.9,108.1M681.9,108.1l3.2,-6.2M690.9,107.5L706.3,109.3M706.3,109.3l3.7,-6.0M703.9,109.0l2.1,-3.4M715.5,107.5L731.0,106.4M731.0,106.4l2.5,-6.5M740.1,107.5L755.5,106.0M755.5,106.0l2.3,-6.6M753.0,106.3l1.3,-3.8M764.6,107.5L780.1,106.2M780.1,106.2l1.4,-3.8M789.2,107.5L804.6,109.2M804.6,109.2l3.6,-6.0M802.1,108.9l2.1,-3.4M813.7,107.5L829.1,105.7M829.1,105.7l2.2,-6.6M838.3,107.5L853.7,105.8M853.7,105.8l2.2,-6.6M862.8,107.5L878.3,107.6M878.3,107.6l3.0,-6.3M887.4,107.5L902.9,106.4M902.9,106.4l1.4,-3.7M912.0,107.5L927.4,106.4M927.4,106.4l2.5,-6.5M924.9,106.6l1.4,-3.7M936.5,107.5L952.0,107.5M952.0,107.5l2.9,-6.4M949.5,107.5l1.7,-3.6M961.1,107.5L976.5,106.1M976.5,106.1l2.4,-6.6M985.6,107.5L1001.0,105.9M1001.0,105.9l1.3,-3.8M1010.2,107.5L1025.7,107.8M1025.7,107.8l3.1,-6.3M1023.2,107.7l1.8,-3.6M1034.7,107.5L1050.2,108.0M1050.2,108.0l3.2,-6.2M1059.3,107.5L1074.8,106.3M1074.8,106.3l2.4,-6.6M1083.9,107.5L1099.3,108.6M1099.3,108.6l3.4,-6.1M126.1,144.4L141.4,141.9M141.4,141.9l1.1,-3.8M150.7,144.4L166.0,141.7M166.0,141.7l1.8,-6.8M175.3,144.4L190.4,140.9M190.4,140.9l1.5,-6.8M199.8,144.4L215.3,144.7M215.3,144.7l3.1,-6.3M224.4,144.4L239.2,140.0M239.2,140.0l1.1,-6.9M248.9,144.4L263.9,148.6M263.9,148.6l4.6,-5.3M273.5,144.4L288.9,146.1M288.9,146.1l3.6,-6.0M286.4,145.8l2.1,-3.4M298.0,144.4L313.5,145.3M313.5,145.3l3.3,-6.2M322.6,144.4L338.1,145.3M338.1,145.3l3.4,-6.1M347.2,144.4L362.6,144.1M362.6,144.1l2.8,-6.4M371.7,144.4L387.1,146.5M387.1,146.5l3.8,-5.9M396.3,144.4L410.9,139.3M410.9,139.3l0.7,-7.0M420.8,144.4L436.3,144.2M436.3,144.2l2.9,-6.4M445.4,144.4L460.8,142.4M460.8,142.4l2.1,-6.7M469.9,144.4L484.8,139.8M484.8,139.8l1.0,-6.9M482.4,140.6l0.6,-4.0M494.5,144.4L509.9,142.9M509.9,142.9l2.4,-6.6M519.1,144.4L533.9,148.6M533.9,148.6l4.6,-5.3M543.6,144.4L558.8,147.5M558.8,147.5l4.2,-5.6M568.2,144.4L583.6,142.8M583.6,142.8l1.3,-3.8M592.7,144.4L607.6,148.7M607.6,148.7l2.6,-3.0M617.3,144.4L632.0,149.1M632.0,149.1l4.8,-5.1M641.8,144.4L656.8,148.3M656.8,148.3l4.5,-5.4M654.4,147.6l2.5,-3.1M666.4,144.4L681.0,139.2M681.0,139.2l0.4,-4.0M690.9,144.4L706.4,143.1M706.4,143.1l2.4,-6.6M715.5,144.4L731.0,145.6M731.0,145.6l3.4,-6.1M740.1,144.4L754.9,140.0M754.9,140.0l1.0,-6.9M764.6,144.4L779.2,149.6M779.2,149.6l2.8,-2.8M789.2,144.4L804.5,146.8M804.5,146.8l2.2,-3.3M813.7,144.4L828.5,149.0M828.5,149.0l4.7,-5.2M826.1,148.3l2.7,-3.0M838.3,144.4L853.8,143.9M853.8,143.9l1.6,-3.7M862.8,144.4L877.9,148.0M877.9,148.0l4.4,-5.5M887.4,144.4L902.9,144.6M902.9,144.6l3.0,-6.3M900.4,144.5l1.7,-3.6M912.0,144.4L926.6,139.4M926.6,139.4l0.8,-7.0M924.3,140.2l0.4,-4.0M936.5,144.4L951.4,140.0M951.4,140.0l1.0,-6.9M961.1,144.4L976.3,141.5M976.3,141.5l1.7,-6.8M985.6,144.4L1001.1,144.3M1001.1,144.3l2.9,-6.3M998.6,144.4l1.7,-3.6M1010.2,144.4L1025.6,146.1M1025.6,146.1l2.1,-3.4M1034.7,144.4L1050.0,141.7M1050.0,141.7l1.8,-6.8M1059.3,144.4L1074.7,142.9M1074.7,142.9l2.4,-6.6M1083.9,144.4L1099.2,146.3M1099.2,146.3l3.7,-5.9M126.1,181.2L140.6,186.8M140.6,186.8l5.0,-4.9M150.7,181.2L164.4,188.5M164.4,188.5l3.2,-2.4M175.3,181.2L189.8,186.5M189.8,186.5l4.9,-5.0M199.8,181.2L215.0,184.3M215.0,184.3l4.1,-5.6M224.4,181.2L239.8,182.6M239.8,182.6l2.0,-3.5M248.9,181.2L261.6,190.2M261.6,190.2l6.1,-3.5M273.5,181.2L285.5,191.0M285.5,191.0l3.6,-1.8M298.0,181.2L313.5,182.9M313.5,182.9l3.6,-6.0M322.6,181.2L338.0,182.7M338.0,182.7l3.6,-6.0M347.2,181.2L361.7,186.5M361.7,186.5l4.9,-5.0M371.7,181.2L385.1,189.1M385.1,189.1l5.8,-4.0M396.3,181.2L408.8,190.4M408.8,190.4l6.1,-3.4M420.8,181.2L435.6,185.9M435.6,185.9l4.7,-5.2M445.4,181.2L457.0,191.5M457.0,191.5l3.7,-1.6M469.9,181.2L485.0,185.0M485.0,185.0l4.4,-5.4M482.5,184.4l2.5,-3.1M494.5,181.2L509.1,186.5M509.1,186.5l4.9,-5.0M519.1,181.2L532.4,189.2M532.4,189.2l5.8,-3.9M530.2,187.9l3.3,-2.2M543.6,181.2L558.4,185.9M558.4,185.9l4.7,-5.2M568.2,181.2L580.6,190.5M580.6,190.5l6.1,-3.3M592.7,181.2L604.8,190.9M604.8,190.9l6.3,-3.1M617.3,181.2L630.8,188.7M630.8,188.7l5.7,-4.1M641.8,181.2L656.0,187.4M656.0,187.4l5.2,-4.6M666.4,181.2L680.1,188.4M680.1,188.4l5.6,-4.3M677.9,187.2l3.2,-2.4M690.9,181.2L706.4,180.2M706.4,180.2l2.5,-6.5M715.5,181.2L730.5,185.3M730.5,185.3l4.5,-5.3M740.1,181.2L755.5,180.2M755.5,180.2l2.5,-6.5M764.6,181.2L780.0,183.1M780.0,183.1l3.7,-5.9M789.2,181.2L801.9,190.1M801.9,190.1l6.1,-3.5M813.7,181.2L828.5,185.9M828.5,185.9l4.7,-5.2M826.1,185.1l2.7,-3.0M838.3,181.2L852.0,188.5M852.0,188.5l5.6,-4.2M862.8,181.2L874.2,191.8M874.2,191.8l6.5,-2.6M887.4,181.2L902.8,182.6M902.8,182.6l2.0,-3.5M912.0,181.2L927.3,183.4M927.3,183.4l3.8,-5.9M936.5,181.2L949.6,189.6M949.6,189.6l5.9,-3.7M947.5,188.3l3.4,-2.1M961.1,181.2L974.4,189.2M974.4,189.2l5.8,-3.9M985.6,181.2L1001.0,183.0M1001.0,183.0l3.6,-6.0M1010.2,181.2L1024.6,187.1M1024.6,187.1l5.1,-4.8M1022.2,186.1l2.9,-2.7M1034.7,181.2L1049.3,186.6M1049.3,186.6l5.0,-4.9M1059.3,181.2L1074.3,185.2M1074.3,185.2l4.5,-5.4M1083.9,181.2L1099.4,181.1M1099.4,181.1l1.6,-3.6M126.1,218.1L140.4,224.1M140.4,224.1l3.0,-2.7M150.7,218.1L164.5,225.1M164.5,225.1l5.5,-4.3M175.3,218.1L187.5,227.6M187.5,227.6l6.2,-3.2M185.6,226.1l3.6,-1.8M199.8,218.1L208.9,230.7M208.9,230.7l6.9,-1.3M207.4,228.7l3.9,-0.8M224.4,218.1L231.5,231.9M231.5,231.9l7.0,-0.3M248.9,218.1L260.3,228.7M260.3,228.7l6.5,-2.6M273.5,218.1L288.0,223.7M288.0,223.7l5.0,-4.9M298.0,218.1L311.7,225.4M311.7,225.4l3.2,-2.4M322.6,218.1L326.9,233.0M326.9,233.0l6.9,1.1M347.2,218.1L357.7,229.5M357.7,229.5l6.7,-2.1M371.7,218.1L385.0,226.0M385.0,226.0l5.8,-3.9M396.3,218.1L408.8,227.2M408.8,227.2l6.1,-3.4M420.8,218.1L435.6,222.7M435.6,222.7l4.7,-5.2M445.4,218.1L455.7,229.6M455.7,229.6l6.7,-2.0M469.9,218.1L481.0,228.9M481.0,228.9l6.5,-2.5M494.5,218.1L508.2,225.4M508.2,225.4l5.6,-4.2M519.1,218.1L530.8,228.2M530.8,228.2l6.4,-2.9M543.6,218.1L534.6,205.5M534.6,205.5l-6.9,1.3M568.2,218.1L580.7,227.2M580.7,227.2l6.1,-3.4M578.7,225.8l3.5,-1.9M592.7,218.1L605.0,227.6M605.0,227.6l3.6,-1.8M617.3,218.1L630.7,225.9M630.7,225.9l3.3,-2.3M641.8,218.1L632.2,206.0M632.2,206.0l-6.8,1.6M666.4,218.1L680.7,224.0M680.7,224.0l5.2,-4.7M690.9,218.1L703.7,227.0M703.7,227.0l6.1,-3.5M701.6,225.5l3.5,-2.0M715.5,218.1L727.6,227.8M727.6,227.8l6.3,-3.1M725.6,226.3l3.6,-1.8M740.1,218.1L754.9,222.5M754.9,222.5l4.6,-5.2M764.6,218.1L780.1,218.4M780.1,218.4l3.1,-6.3M789.2,218.1L780.3,205.4M780.3,205.4l-6.9,1.2M781.7,207.5l-3.9,0.7M813.7,218.1L820.7,232.0M820.7,232.0l7.0,-0.2M819.6,229.7l4.0,-0.1M838.3,218.1L851.4,226.3M851.4,226.3l3.4,-2.2M862.8,218.1L878.3,219.5M878.3,219.5l2.0,-3.5M887.4,218.1L899.8,227.4M899.8,227.4l6.2,-3.3M897.8,225.9l3.5,-1.9M912.0,218.1L913.1,233.6M913.1,233.6l6.5,2.5M936.5,218.1L952.0,218.4M952.0,218.4l3.1,-6.3M961.1,218.1L966.6,232.6M966.6,232.6l7.0,0.5M985.6,218.1L1000.2,223.4M1000.2,223.4l4.9,-5.0M997.8,222.6l2.8,-2.8M1010.2,218.1L1025.5,220.8M1025.5,220.8l4.0,-5.7M1034.7,218.1L1050.2,218.4M1050.2,218.4l1.7,-3.6M1059.3,218.1L1073.7,223.8M1073.7,223.8l5.1,-4.8M1071.4,222.9l2.9,-2.8M1083.9,218.1L1096.7,226.8M1096.7,226.8l6.0,-3.6M1094.6,225.4l3.4,-2.1M126.1,255.0L138.0,265.0M138.0,265.0l6.4,-2.9M150.7,255.0L165.4,260.0M165.4,260.0l4.9,-5.0M175.3,255.0L183.2,268.3M183.2,268.3l7.0,-0.7M199.8,255.0L211.5,265.2M211.5,265.2l6.4,-2.8M224.4,255.0L239.1,259.8M239.1,259.8l4.8,-5.1M248.9,255.0L257.1,268.2M257.1,268.2l7.0,-0.8M273.5,255.0L281.6,268.2M281.6,268.2l7.0,-0.8M298.0,255.0L308.3,266.6M308.3,266.6l6.7,-2.0M322.6,255.0L336.2,262.3M336.2,262.3l3.2,-2.4M347.2,255.0L356.1,267.7M356.1,267.7l3.9,-0.7M371.7,255.0L384.0,264.5M384.0,264.5l6.2,-3.2M396.3,255.0L411.1,259.5M411.1,259.5l4.7,-5.2M420.8,255.0L436.1,257.9M436.1,257.9l4.1,-5.7M433.6,257.4l2.3,-3.2M445.4,255.0L456.2,266.1M456.2,266.1l6.6,-2.3M469.9,255.0L485.1,258.2M485.1,258.2l4.2,-5.6M482.7,257.7l2.4,-3.2M494.5,255.0L505.8,265.6M505.8,265.6l6.5,-2.6M519.1,255.0L531.7,263.9M531.7,263.9l6.1,-3.5M543.6,255.0L559.1,255.3M559.1,255.3l3.1,-6.3M556.6,255.2l1.8,-3.6M568.2,255.0L582.8,260.1M582.8,260.1l4.9,-5.0M592.7,255.0L590.8,270.4M590.8,270.4l5.9,3.7M617.3,255.0L625.5,268.2M625.5,268.2l4.0,-0.5M641.8,255.0L646.0,269.9M646.0,269.9l3.9,0.7M666.4,255.0L655.4,244.0M655.4,244.0l-6.6,2.4M690.9,255.0L697.5,269.0M697.5,269.0l4.0,0.0M715.5,255.0L730.4,259.3M730.4,259.3l4.6,-5.3M740.1,255.0L738.8,270.4M738.8,270.4l6.1,3.5M764.6,255.0L778.3,262.3M778.3,262.3l3.2,-2.4M789.2,255.0L790.7,270.4M790.7,270.4l6.6,2.3M813.7,255.0L806.1,241.5M806.1,241.5l-7.0,0.5M838.3,255.0L830.5,241.6M830.5,241.6l-7.0,0.6M831.8,243.8l-4.0,0.4M862.8,255.0L876.2,262.9M876.2,262.9l3.3,-2.3M887.4,255.0L886.1,270.4M886.1,270.4l6.1,3.5M912.0,255.0L916.6,269.8M916.6,269.8l6.9,0.9M915.8,267.4l4.0,0.5M936.5,255.0L929.5,241.2M929.5,241.2l-7.0,0.2M961.1,255.0L975.4,261.0M975.4,261.0l5.2,-4.7M973.1,260.0l3.0,-2.7M985.6,255.0L1000.2,260.3M1000.2,260.3l4.9,-5.0M1010.2,255.0L1022.2,264.8M1022.2,264.8l6.3,-3.0M1034.7,255.0L1040.8,269.3M1040.8,269.3l4.0,0.1M1059.3,255.0L1065.9,269.0M1065.9,269.0l4.0,-0.0M1083.9,255.0L1070.3,247.5M1070.3,247.5l-5.6,4.1M126.1,291.9L141.0,296.4M141.0,296.4l4.7,-5.2M138.6,295.7l2.7,-3.0M150.7,291.9L165.9,295.0M165.9,295.0l4.2,-5.6M163.4,294.5l2.4,-3.2M175.3,291.9L190.0,296.6M190.0,296.6l4.7,-5.1M199.8,291.9L214.3,297.3M214.3,297.3l5.0,-4.9M224.4,291.9L239.2,296.4M239.2,296.4l4.7,-5.2M248.9,291.9L264.2,294.7M264.2,294.7l4.1,-5.7M273.5,291.9L288.7,294.7M288.7,294.7l4.1,-5.7M298.0,291.9L311.6,299.4M311.6,299.4l5.7,-4.1M309.4,298.2l3.2,-2.3M322.6,291.9L337.2,297.0M337.2,297.0l4.9,-5.0M347.2,291.9L362.3,295.1M362.3,295.1l2.4,-3.2M371.7,291.9L386.9,295.1M386.9,295.1l4.2,-5.6M384.4,294.5l2.4,-3.2M396.3,291.9L411.5,294.8M411.5,294.8l4.1,-5.7M420.8,291.9L436.1,294.5M436.1,294.5l4.0,-5.8M445.4,291.9L460.4,295.7M460.4,295.7l4.4,-5.4M469.9,291.9L484.7,296.5M484.7,296.5l4.7,-5.2M494.5,291.9L508.9,297.6M508.9,297.6l5.1,-4.8M519.1,291.9L534.5,290.8M534.5,290.8l2.5,-6.5M543.6,291.9L558.5,296.2M558.5,296.2l2.6,-3.0M568.2,291.9L555.5,283.0M555.5,283.0l-6.1,3.5M557.5,284.4l-3.5,2.0M592.7,291.9L608.2,292.7M608.2,292.7l3.3,-6.2M617.3,291.9L629.3,301.6M629.3,301.6l6.3,-3.1M641.8,291.9L640.3,307.3M640.3,307.3l3.4,2.0M666.4,291.9L681.7,294.5M681.7,294.5l4.0,-5.7M690.9,291.9L676.5,286.3M676.5,286.3l-5.0,4.9M715.5,291.9L720.0,306.7M720.0,306.7l6.9,1.0M740.1,291.9L755.3,294.7M755.3,294.7l4.1,-5.7M752.8,294.2l2.3,-3.3M764.6,291.9L755.1,279.6M755.1,279.6l-6.8,1.6M789.2,291.9L804.5,294.4M804.5,294.4l4.0,-5.8M813.7,291.9L801.9,281.8M801.9,281.8l-6.4,2.9M838.3,291.9L851.8,299.4M851.8,299.4l5.7,-4.1M849.7,298.2l3.2,-2.4M862.8,291.9L849.0,284.8M849.0,284.8l-5.5,4.3M887.4,291.9L902.8,294.0M902.8,294.0l3.8,-5.9M912.0,291.9L917.8,306.2M917.8,306.2l7.0,0.4M936.5,291.9L938.7,307.2M938.7,307.2l6.7,2.1M961.1,291.9L976.5,293.6M976.5,293.6l3.7,-6.0M985.6,291.9L973.6,282.1M973.6,282.1l-6.3,3.1M1010.2,291.9L1025.6,293.3M1025.6,293.3l3.5,-6.0M1034.7,291.9L1026.1,279.0M1026.1,279.0l-6.9,1.1M1059.3,291.9L1074.2,296.0M1074.2,296.0l4.6,-5.3M1083.9,291.9L1095.8,301.7M1095.8,301.7l6.3,-3.0M126.1,328.8L141.5,330.5M141.5,330.5l3.7,-6.0M150.7,328.8L165.9,332.0M165.9,332.0l4.2,-5.6M175.3,328.8L190.0,333.6M190.0,333.6l2.7,-2.9M199.8,328.8L213.2,336.5M213.2,336.5l5.7,-4.0M224.4,328.8L239.2,333.2M239.2,333.2l2.7,-3.0M248.9,328.8L263.7,333.4M263.7,333.4l2.7,-2.9M273.5,328.8L287.2,335.9M287.2,335.9l3.2,-2.4M298.0,328.8L313.4,330.6M313.4,330.6l3.7,-5.9M322.6,328.8L338.1,328.2M338.1,328.2l2.7,-6.4M347.2,328.8L360.4,336.8M360.4,336.8l5.8,-3.9M358.2,335.5l3.3,-2.2M371.7,328.8L387.2,328.3M387.2,328.3l2.8,-6.4M396.3,328.8L411.3,332.7M411.3,332.7l4.5,-5.4M420.8,328.8L436.2,330.5M436.2,330.5l3.6,-6.0M445.4,328.8L460.8,329.8M460.8,329.8l3.4,-6.1M469.9,328.8L485.2,331.3M485.2,331.3l4.0,-5.8M494.5,328.8L509.8,330.9M509.8,330.9l2.2,-3.4M519.1,328.8L533.8,333.5M533.8,333.5l4.8,-5.1M543.6,328.8L558.8,332.0M558.8,332.0l4.2,-5.6M568.2,328.8L581.7,336.3M581.7,336.3l5.7,-4.1M579.5,335.1l3.2,-2.3M592.7,328.8L579.8,320.2M579.8,320.2l-6.0,3.7M617.3,328.8L630.4,336.9M630.4,336.9l5.9,-3.8M628.3,335.6l3.3,-2.2M641.8,328.8L627.5,322.8M627.5,322.8l-5.2,4.7M629.8,323.7l-3.0,2.7M666.4,328.8L665.6,344.2M665.6,344.2l6.2,3.3M690.9,328.8L699.2,341.9M699.2,341.9l6.9,-0.9M715.5,328.8L729.4,335.6M729.4,335.6l3.1,-2.5M740.1,328.8L753.3,336.9M753.3,336.9l5.8,-3.9M764.6,328.8L750.1,323.4M750.1,323.4l-5.0,4.9M789.2,328.8L804.6,330.3M804.6,330.3l2.0,-3.4M813.7,328.8L812.9,344.2M812.9,344.2l6.2,3.3M813.0,341.7l3.5,1.9M838.3,328.8L853.3,332.5M853.3,332.5l4.4,-5.4M862.8,328.8L877.3,334.4M877.3,334.4l5.1,-4.8M887.4,328.8L902.3,333.1M902.3,333.1l4.6,-5.2M912.0,328.8L924.9,337.3M924.9,337.3l3.4,-2.1M936.5,328.8L951.0,334.3M951.0,334.3l5.0,-4.9M961.1,328.8L948.5,319.6M948.5,319.6l-6.1,3.4M985.6,328.8L986.5,344.2M986.5,344.2l6.5,2.6M1010.2,328.8L998.6,318.5M998.6,318.5l-6.4,2.8M1034.7,328.8L1039.9,343.4M1039.9,343.4l7.0,0.7M1059.3,328.8L1056.3,344.0M1056.3,344.0l5.7,4.1M1083.9,328.8L1086.8,344.0M1086.8,344.0l6.8,1.7M126.1,365.6L141.2,369.5M141.2,369.5l4.4,-5.4M150.7,365.6L165.9,368.5M165.9,368.5l4.1,-5.7M175.3,365.6L189.6,371.6M189.6,371.6l5.2,-4.7M187.3,370.6l3.0,-2.7M199.8,365.6L213.7,372.5M213.7,372.5l5.5,-4.4M211.4,371.4l3.1,-2.5M224.4,365.6L238.9,371.0M238.9,371.0l2.8,-2.8M248.9,365.6L264.2,368.5M264.2,368.5l4.1,-5.7M273.5,365.6L288.3,370.2M288.3,370.2l4.7,-5.2M298.0,365.6L312.2,371.9M312.2,371.9l5.3,-4.6M309.9,370.9l3.0,-2.6M322.6,365.6L337.2,370.8M337.2,370.8l4.9,-5.0M347.2,365.6L361.8,370.8M361.8,370.8l2.8,-2.9M371.7,365.6L384.8,373.9M384.8,373.9l5.9,-3.8M396.3,365.6L410.3,372.1M410.3,372.1l5.3,-4.5M420.8,365.6L435.4,370.8M435.4,370.8l4.9,-5.0M445.4,365.6L460.2,370.2M460.2,370.2l4.7,-5.2M469.9,365.6L482.9,374.2M482.9,374.2l3.4,-2.1M494.5,365.6L507.3,374.4M507.3,374.4l6.0,-3.6M505.2,372.9l3.4,-2.0M519.1,365.6L532.7,373.0M532.7,373.0l5.6,-4.2M543.6,365.6L552.4,378.4M552.4,378.4l3.9,-0.7M568.2,365.6L583.4,368.3M583.4,368.3l2.3,-3.3M592.7,365.6L599.8,379.4M599.8,379.4l7.0,-0.3M617.3,365.6L630.4,373.9M630.4,373.9l5.9,-3.8M641.8,365.6L657.1,368.5M657.1,368.5l4.1,-5.7M654.6,368.0l2.3,-3.2M666.4,365.6L681.8,367.5M681.8,367.5l3.7,-5.9M690.9,365.6L704.0,374.0M704.0,374.0l5.9,-3.7M715.5,365.6L730.0,371.2M730.0,371.2l2.9,-2.8M740.1,365.6L739.4,381.1M739.4,381.1l6.2,3.2M739.5,378.6l3.6,1.8M764.6,365.6L755.6,353.0M755.6,353.0l-3.9,0.7M789.2,365.6L802.4,373.7M802.4,373.7l3.3,-2.2M813.7,365.6L828.2,371.2M828.2,371.2l5.0,-4.9M838.3,365.6L853.4,369.0M853.4,369.0l2.4,-3.2M862.8,365.6L850.7,356.0M850.7,356.0l-6.3,3.1M887.4,365.6L902.9,366.8M902.9,366.8l2.0,-3.5M912.0,365.6L925.2,373.7M925.2,373.7l5.8,-3.9M936.5,365.6L940.8,380.5M940.8,380.5l4.0,0.6M961.1,365.6L975.8,370.5M975.8,370.5l4.8,-5.1M985.6,365.6L999.2,373.1M999.2,373.1l5.6,-4.1M997.0,371.9l3.2,-2.4M1010.2,365.6L1022.5,375.1M1022.5,375.1l6.2,-3.2M1034.7,365.6L1049.1,371.5M1049.1,371.5l5.1,-4.8M1059.3,365.6L1058.9,381.1M1058.9,381.1l6.3,3.1M1083.9,365.6L1071.7,356.0M1071.7,356.0l-6.3,3.1M126.1,402.5L140.4,408.7M140.4,408.7l3.0,-2.7M150.7,402.5L165.8,405.9M165.8,405.9l4.3,-5.5M175.3,402.5L188.9,409.9M188.9,409.9l5.6,-4.1M199.8,402.5L213.2,410.3M213.2,410.3l5.8,-4.0M224.4,402.5L239.3,406.6M239.3,406.6l2.6,-3.0M248.9,402.5L264.1,405.5M264.1,405.5l2.4,-3.2M273.5,402.5L287.2,409.7M287.2,409.7l5.6,-4.2M298.0,402.5L313.1,406.0M313.1,406.0l4.3,-5.5M322.6,402.5L337.6,406.4M337.6,406.4l4.5,-5.4M347.2,402.5L361.4,408.6M361.4,408.6l5.2,-4.7M371.7,402.5L386.3,407.9M386.3,407.9l2.8,-2.8M396.3,402.5L408.5,412.0M408.5,412.0l6.2,-3.2M420.8,402.5L434.3,410.1M434.3,410.1l5.7,-4.1M445.4,402.5L458.1,411.3M458.1,411.3l3.5,-2.0M469.9,402.5L484.0,408.9M484.0,408.9l3.0,-2.6M494.5,402.5L508.1,409.9M508.1,409.9l3.2,-2.4M519.1,402.5L532.7,409.9M532.7,409.9l5.6,-4.2M543.6,402.5L557.5,409.4M557.5,409.4l5.5,-4.4M555.3,408.3l3.1,-2.5M568.2,402.5L554.1,396.1M554.1,396.1l-5.3,4.6M592.7,402.5L597.0,417.4M597.0,417.4l6.9,1.1M596.3,415.0l4.0,0.6M617.3,402.5L602.7,397.2M602.7,397.2l-5.0,4.9M641.8,402.5L657.0,405.7M657.0,405.7l4.2,-5.6M666.4,402.5L681.8,404.0M681.8,404.0l3.6,-6.0M690.9,402.5L704.6,409.9M704.6,409.9l5.6,-4.2M715.5,402.5L716.1,418.0M716.1,418.0l6.4,2.7M740.1,402.5L754.9,407.0M754.9,407.0l4.7,-5.2M764.6,402.5L779.6,406.4M779.6,406.4l2.5,-3.1M789.2,402.5L802.7,410.1M802.7,410.1l5.7,-4.1M813.7,402.5L828.1,408.4M828.1,408.4l5.2,-4.7M825.8,407.5l2.9,-2.7M838.3,402.5L837.7,418.0M837.7,418.0l6.2,3.2M862.8,402.5L861.2,417.9M861.2,417.9l6.0,3.6M887.4,402.5L878.1,390.1M878.1,390.1l-6.8,1.5M912.0,402.5L914.0,417.9M914.0,417.9l6.7,2.1M936.5,402.5L927.4,389.9M927.4,389.9l-6.9,1.3M961.1,402.5L974.6,410.1M974.6,410.1l3.3,-2.3M985.6,402.5L999.0,410.4M999.0,410.4l5.8,-4.0M1010.2,402.5L1025.6,404.0M1025.6,404.0l2.0,-3.4M1034.7,402.5L1021.6,394.3M1021.6,394.3l-5.9,3.8M1059.3,402.5L1074.4,406.1M1074.4,406.1l4.3,-5.5M1083.9,402.5L1098.8,406.8M1098.8,406.8l2.6,-3.0M126.1,420.9L139.1,429.4M139.1,429.4l3.4,-2.1M150.7,420.9L164.7,427.6M164.7,427.6l5.4,-4.5M162.4,426.5l3.1,-2.6M175.3,420.9L186.7,431.4M186.7,431.4l6.5,-2.7M184.9,429.7l3.7,-1.5M199.8,420.9L212.1,430.4M212.1,430.4l6.2,-3.2M224.4,420.9L237.8,428.6M237.8,428.6l3.3,-2.3M248.9,420.9L260.8,430.9M260.8,430.9l3.6,-1.7M273.5,420.9L285.4,430.8M285.4,430.8l6.3,-3.0M298.0,420.9L311.2,429.1M311.2,429.1l5.9,-3.8M309.1,427.8l3.4,-2.2M322.6,420.9L336.7,427.5M336.7,427.5l5.4,-4.5M334.4,426.4l3.1,-2.6M347.2,420.9L360.8,428.2M360.8,428.2l5.6,-4.2M371.7,420.9L385.8,427.4M385.8,427.4l5.3,-4.5M396.3,420.9L410.4,427.2M410.4,427.2l5.3,-4.6M408.2,426.2l3.0,-2.6M420.8,420.9L432.3,431.3M432.3,431.3l3.7,-1.6M445.4,420.9L458.4,429.4M458.4,429.4l5.9,-3.7M469.9,420.9L481.5,431.2M481.5,431.2l6.4,-2.8M494.5,420.9L508.8,426.8M508.8,426.8l2.9,-2.7M519.1,420.9L533.4,426.8M533.4,426.8l2.9,-2.7M543.6,420.9L559.1,422.1M559.1,422.1l3.4,-6.1M568.2,420.9L580.4,430.4M580.4,430.4l6.2,-3.2M592.7,420.9L605.4,429.8M605.4,429.8l6.1,-3.5M617.3,420.9L608.4,408.2M608.4,408.2l-6.9,1.2M641.8,420.9L627.4,415.3M627.4,415.3l-5.0,4.9M666.4,420.9L681.8,422.3M681.8,422.3l3.5,-6.1M679.3,422.1l2.0,-3.5M690.9,420.9L706.1,424.1M706.1,424.1l4.2,-5.6M715.5,420.9L719.0,436.0M719.0,436.0l3.9,0.8M740.1,420.9L727.0,412.5M727.0,412.5l-5.9,3.7M729.1,413.9l-3.4,2.1M764.6,420.9L752.4,411.4M752.4,411.4l-6.2,3.2M789.2,420.9L801.5,430.3M801.5,430.3l3.5,-1.9M813.7,420.9L811.6,436.3M811.6,436.3l5.9,3.8M838.3,420.9L853.3,424.7M853.3,424.7l2.5,-3.1M862.8,420.9L876.5,428.2M876.5,428.2l5.6,-4.2M874.3,427.0l3.2,-2.4M887.4,420.9L902.8,423.0M902.8,423.0l3.8,-5.9M912.0,420.9L903.3,408.1M903.3,408.1l-6.9,1.1M936.5,420.9L952.0,422.4M952.0,422.4l2.0,-3.5M961.1,420.9L958.9,436.3M958.9,436.3l5.9,3.8M985.6,420.9L992.4,434.9M992.4,434.9l7.0,-0.1M1010.2,420.9L996.6,413.5M996.6,413.5l-5.6,4.1M998.8,414.7l-3.2,2.4M1034.7,420.9L1050.0,423.4M1050.0,423.4l3.9,-5.8M1059.3,420.9L1065.5,435.1M1065.5,435.1l7.0,0.2M1083.9,420.9L1080.1,436.0M1080.1,436.0l3.1,2.5" stroke="#202020" stroke-width="1" fill="none"/>
<polyline points="125.7,179.1 138.2,179.1 149.5,178.6 158.6,172.3 165.5,166.6 174.5,165.5 179.1,159.8 185.9,148.4 192.7,149.5 199.5,154.1 206.4,160.9 209.8,172.3 212.0,181.4 215.5,179.1 222.3,174.5 233.6,171.1 242.7,172.3 251.8,175.7 260.9,178.0 270.0,172.3 279.1,168.9 288.2,170.0 297.3,174.5 304.1,181.4 308.6,184.8 313.2,181.4 320.0,174.5 329.1,170.0 335.9,167.7 347.3,170.0 358.6,173.4 365.0,175.7 373.0,175.7" stroke="#000" stroke-width="3.2"/>
<polyline points="125.7,179.1 138.2,179.1 149.5,178.6 158.6,172.3 165.5,166.6 174.5,165.5 179.1,159.8 185.9,148.4 192.7,149.5 199.5,154.1 206.4,160.9 209.8,172.3 212.0,181.4 215.5,179.1 222.3,174.5 233.6,171.1 242.7,172.3 251.8,175.7 260.9,178.0 270.0,172.3 279.1,168.9 288.2,170.0 297.3,174.5 304.1,181.4 308.6,184.8 313.2,181.4 320.0,174.5 329.1,170.0 335.9,167.7 347.3,170.0 358.6,173.4 365.0,175.7 373.0,175.7" stroke="#fff" stroke-width="1.1"/>
<polyline points="394.5,174.5 405.9,179.1 415.0,172.3 428.6,166.6 437.7,167.3 451.4,171.1 465.0,174.5 478.6,176.8 492.3,179.1 501.4,182.5 505.9,184.8 515.0,176.8 528.6,170.0 542.3,171.1 555.9,173.4 569.5,176.8 580.9,180.2 590.0,182.5 599.1,176.8 605.9,174.5 612.0,174.0 619.1,172.3 628.2,167.7 632.7,167.7 641.8,173.4 655.5,176.8 669.1,179.1 687.3,182.5 696.4,181.4 705.5,176.8 714.5,170.0 723.6,168.9 737.3,171.1 750.9,173.4 769.1,175.7 787.3,176.8 798.6,175.7 807.7,170.0 812.3,164.3 823.6,163.2 837.3,164.3 848.6,166.6 863.4,168.0 876.7,171.3" stroke="#000" stroke-width="3.2"/>
<polyline points="394.5,174.5 405.9,179.1 415.0,172.3 428.6,166.6 437.7,167.3 451.4,171.1 465.0,174.5 478.6,176.8 492.3,179.1 501.4,182.5 505.9,184.8 515.0,176.8 528.6,170.0 542.3,171.1 555.9,173.4 569.5,176.8 580.9,180.2 590.0,182.5 599.1,176.8 605.9,174.5 612.0,174.0 619.1,172.3 628.2,167.7 632.7,167.7 641.8,173.4 655.5,176.8 669.1,179.1 687.3,182.5 696.4,181.4 705.5,176.8 714.5,170.0 723.6,168.9 737.3,171.1 750.9,173.4 769.1,175.7 787.3,176.8 798.6,175.7 807.7,170.0 812.3,164.3 823.6,163.2 837.3,164.3 848.6,166.6 863.4,168.0 876.7,171.3" stroke="#fff" stroke-width="1.1"/>
<polyline points="897.0,172.4 899.0,172.4 907.9,165.8 916.8,159.1 923.5,155.7 930.2,161.3 936.9,170.2 948.0,171.3 961.4,172.4 970.3,174.7 979.2,168.0 988.1,170.2 997.0,175.8 1005.9,169.1 1014.8,168.0 1023.7,171.3 1032.6,168.0 1041.5,169.1 1050.4,171.3 1059.4,173.6 1072.7,176.9 1091.0,178.0" stroke="#000" stroke-width="3.2"/>
<polyline points="897.0,172.4 899.0,172.4 907.9,165.8 916.8,159.1 923.5,155.7 930.2,161.3 936.9,170.2 948.0,171.3 961.4,172.4 970.3,174.7 979.2,168.0 988.1,170.2 997.0,175.8 1005.9,169.1 1014.8,168.0 1023.7,171.3 1032.6,168.0 1041.5,169.1 1050.4,171.3 1059.4,173.6 1072.7,176.9 1091.0,178.0" stroke="#fff" stroke-width="1.1"/>
<polyline points="126.8,72.3 133.6,74.5 140.5,73.4 145.0,70.0" stroke="#8c00f0" stroke-width="2"/>
<polyline points="199.5,70.0 206.0,72.0 211.0,70.0" stroke="#8c00f0" stroke-width="2"/>
<polyline points="125.7,109.8 128.0,115.5 126.8,129.1 130.2,138.2 137.0,140.5 142.7,137.0 145.0,126.8 147.3,115.5 153.0,108.6 165.5,104.1 179.1,104.1 192.7,107.5 201.8,109.8 210.9,109.8 215.5,115.5 220.0,129.1 223.4,142.7 229.1,140.5 235.9,138.2 242.7,140.5 248.4,143.9 254.1,135.9 260.9,122.3 270.0,110.9 279.1,101.8 285.9,99.5 291.6,104.1 296.1,109.8 299.5,108.6 301.8,105.2 304.1,106.4" stroke="#8c00f0" stroke-width="2"/>
<polyline points="321.1,107.5 322.3,115.5 322.3,135.9 333.6,138.2 347.3,140.5 357.5,143.9 360.9,138.2 363.2,115.5 365.5,104.1 370.0,99.5 371.8,99.1 383.2,101.8 396.8,104.1 410.5,110.9 419.5,122.3 426.4,131.4 435.5,137.0 444.5,139.3 451.4,135.9 454.8,115.5 455.9,95.0 460.5,93.9 469.5,99.5 480.9,109.8 490.0,103.0 499.1,99.5 508.2,100.7 511.6,110.9 513.9,135.9" stroke="#8c00f0" stroke-width="2"/>
<polyline points="225.7,70.0 229.1,79.1 233.6,88.2 235.9,92.7 238.2,88.2 242.7,79.1 248.4,70.0" stroke="#8c00f0" stroke-width="2"/>
<polyline points="544.5,138.2 551.4,126.8 555.9,117.7 562.7,117.7 569.5,122.3 574.1,135.9 578.6,147.3 585.5,150.7 592.3,148.4 596.8,138.2 603.6,131.4 610.5,131.5 619.1,138.2 632.7,141.6 644.1,146.1 655.5,142.7 664.5,138.2 671.4,142.7 678.2,145.0 679.3,135.9 675.9,120.0 673.6,110.9 678.2,104.1 689.5,100.7 705.5,101.8 716.8,106.4 723.6,115.5 727.0,126.8 730.5,124.5 733.0,119.0" stroke="#8c00f0" stroke-width="2"/>
<polyline points="533.2,70.0 542.3,73.4 551.4,72.3 569.5,71.1 583.2,72.3 601.4,76.8 612.0,80.5 619.1,83.6 624.8,92.7 628.2,104.1 631.6,95.0 635.0,83.6 639.5,72.3 640.7,70.0" stroke="#8c00f0" stroke-width="2"/>
<polyline points="657.7,72.3 669.1,73.4 687.3,73.4 705.5,72.3 723.6,71.1 737.3,70.0" stroke="#8c00f0" stroke-width="2"/>
<polyline points="755.5,112.0 769.1,109.8 782.7,101.8 791.8,98.4 800.9,99.5 810.0,106.4 819.1,112.0 828.2,115.5 835.0,122.3 839.5,124.5 846.4,122.3 850.0,121.2 861.1,125.7 874.5,132.4 885.6,127.9 899.0,125.7 916.8,127.9 934.6,131.2 948.0,133.5 961.4,135.7 974.7,135.7 988.1,133.5 1001.4,135.7 1010.4,137.9 1021.5,134.6 1030.4,125.7 1039.3,112.3 1047.1,101.2 1052.7,112.3 1059.4,127.9 1068.3,125.7 1077.2,114.5 1083.9,109.0 1091.0,109.0" stroke="#8c00f0" stroke-width="2"/>
<polyline points="807.7,74.5 814.5,72.3 825.9,71.1 837.3,72.3 846.4,74.5 850.0,74.0 858.9,71.1 861.0,70.0" stroke="#8c00f0" stroke-width="2"/>
<polyline points="1077.0,70.0 1084.0,72.0 1091.0,73.0" stroke="#8c00f0" stroke-width="2"/>
<polyline points="1007.5,84.0 1008.0,100.0 1009.5,108.0 1011.0,100.0 1010.5,86.0 1009.0,82.0 1007.5,84.0" stroke="#8c00f0" stroke-width="2"/>
<polyline points="125.7,210.9 142.7,210.9 160.9,212.0 176.8,215.5 192.7,218.9 206.4,220.0 213.2,217.7 220.0,210.9 226.8,204.1" stroke="#1428ff" stroke-width="2"/>
<polyline points="243.9,204.1 256.4,208.6 274.5,212.0 292.7,214.3 308.6,214.3 317.7,208.6 326.8,199.5 330.0,195.6 337.3,194.9 344.5,198.9 351.8,200.7 359.1,203.3 366.4,208.4 371.5,211.3 380.9,209.8 394.0,209.8 401.3,212.7 410.0,212.0 419.5,201.8 433.2,192.7 442.3,193.9 455.9,201.8 469.5,206.4 483.2,209.8 496.8,213.2 505.9,215.5 515.0,208.6 524.1,201.8 533.2,198.4 546.8,201.8 560.5,205.2 574.1,210.9 583.2,215.5 592.3,220.0 601.4,215.5 610.0,206.4 619.1,201.8 630.5,195.0 644.1,201.8 655.5,205.2 669.1,208.6 682.7,213.2 694.1,216.6 700.9,217.7 710.0,210.9 719.1,203.0 728.2,197.3 739.5,201.8 750.9,204.1 769.1,207.5 782.7,210.9 798.6,214.3 810.0,206.4 823.6,199.5 835.0,195.0 846.4,197.3 850.0,199.2 863.4,202.5 876.7,203.6" stroke="#1428ff" stroke-width="2"/>
<polyline points="894.5,204.7 907.9,196.9 916.8,190.3 923.5,184.7 930.2,192.5 936.9,201.4 948.0,202.5 961.4,203.6 972.5,208.1 983.6,201.4 990.3,205.9 997.0,212.5 1005.9,201.4 1010.4,196.9 1019.3,201.4 1028.2,200.3 1037.1,199.2 1046.0,201.4 1059.4,207.0 1072.7,211.4 1091.0,218.1" stroke="#1428ff" stroke-width="2"/>
<polyline points="125.7,245.0 142.7,243.9 160.9,246.1 176.8,249.5 195.0,251.8 210.9,249.5 220.0,242.7 229.1,233.6 235.9,229.1 242.7,233.6 256.4,238.2 274.5,241.6 292.7,246.1 306.4,247.3 315.5,242.7 324.5,233.6 334.4,224.4 344.5,229.5 354.0,232.4 362.7,238.2 370.0,244.0 380.9,244.4 399.1,244.7 402.7,245.8 410.0,244.0 417.3,233.6 430.9,222.3 440.0,222.3 451.4,229.1 460.5,235.9 474.1,239.3 487.7,242.7 501.4,245.0 508.2,246.1 517.3,237.0" stroke="#0a96ff" stroke-width="2"/>
<polyline points="546.8,232.5 560.5,238.2 574.1,245.0 587.7,250.7 601.4,251.8 610.0,240.5 621.4,231.4 630.5,225.7 644.1,231.4 662.3,235.9 673.6,245.0 678.2,251.8 700.9,251.8 710.0,242.7 719.1,233.6 725.9,228.0 737.3,232.5 750.9,235.9 764.5,238.2 778.2,245.0 789.5,251.8 800.9,247.3 814.5,240.5 828.2,233.6 841.8,230.2 850.0,229.2 863.4,234.8" stroke="#0a96ff" stroke-width="2"/>
<polyline points="887.9,238.2 901.2,234.8 912.4,225.9 923.5,213.7 930.2,223.7 936.9,232.6 950.2,234.8 963.6,237.0 974.7,241.5 988.1,245.9 997.0,245.9 1005.9,230.4 1010.4,228.1 1023.7,230.4 1032.6,231.5 1041.5,234.8 1050.4,240.4 1068.3,248.2 1081.6,252.6 1091.0,254.9" stroke="#0a96ff" stroke-width="2"/>
<polyline points="125.7,282.3 133.6,277.7 145.0,276.6 154.1,280.0 163.2,285.7 174.5,284.5 185.9,291.4 197.3,297.0 206.4,291.4 215.5,282.3 226.8,266.4 235.9,261.8 247.3,269.8 260.9,273.2 274.5,276.6 288.2,281.1 297.3,285.7 308.6,281.1 317.7,273.2 324.5,264.1 333.6,257.3 342.7,259.5 356.4,268.6 365.0,275.5 378.6,277.7 394.5,283.4 408.2,278.9 419.5,266.4 433.2,252.7 444.5,258.4 455.9,272.0 469.5,275.5" stroke="#00c8d2" stroke-width="2"/>
<polyline points="494.5,282.3 505.9,280.0 519.5,268.6 530.9,258.4 542.3,261.8 558.2,268.6 574.1,281.1 585.5,291.4 592.3,295.9 601.4,288.0 610.0,275.5 619.1,266.4 630.5,256.1 639.5,264.1 650.9,268.6 664.5,274.3 678.2,291.4 690.7,302.7 703.2,295.9 714.5,280.0 728.2,263.0 741.8,269.8 755.5,273.2 769.1,276.6 780.5,286.8 789.5,300.5 798.6,286.8 810.0,275.5 823.6,268.6 837.3,264.1" stroke="#00c8d2" stroke-width="2"/>
<polyline points="861.1,271.2 872.3,273.4 885.6,277.9 894.5,273.4 907.9,261.2 916.8,252.3 923.5,250.0 930.2,259.0 936.9,269.0 948.0,266.7 961.4,274.5 972.5,283.5 979.2,292.4 984.7,301.3 992.5,285.7 1001.4,272.3 1008.1,261.2 1017.0,261.2 1028.2,267.9 1039.3,279.0 1050.4,290.1 1059.4,305.7 1068.3,319.1 1077.2,328.0 1081.6,325.8 1086.1,314.6 1091.0,303.5" stroke="#00c8d2" stroke-width="2"/>
<polyline points="125.7,317.5 131.4,311.8 140.5,310.7 149.5,314.1 158.6,320.9 170.0,326.6 179.1,332.3 185.9,345.9 195.0,347.0 200.7,341.4 206.4,325.5 215.5,314.1 224.5,303.9 235.9,303.2 249.5,306.1 260.9,309.5 272.3,316.4 281.4,327.7 285.9,341.4 292.7,342.5 299.5,339.1 306.4,327.7 315.5,314.1 322.3,302.7" stroke="#00d28c" stroke-width="2"/>
<polyline points="347.3,298.2 356.4,305.0 365.0,314.1 374.1,314.1 383.2,311.8 387.7,316.4 395.7,340.2 405.9,327.7 417.3,309.5 433.2,290.2 444.5,293.6 455.9,310.7 467.3,316.4 480.9,313.0 488.9,332.3 492.3,331.1 496.8,330.0 505.9,314.1 517.3,310.7 533.2,292.5 546.8,300.5 555.9,311.8 565.0,330.0 571.8,355.0 579.8,374.3 585.5,359.5 594.5,345.9 603.6,330.0 610.0,316.4 616.8,307.3" stroke="#00d28c" stroke-width="2"/>
<polyline points="639.5,301.6 650.9,302.7 662.3,309.5 669.1,318.6 673.6,332.3 678.2,350.5 687.3,351.6 694.1,343.6 700.9,334.5 710.0,323.2 719.1,314.1 730.5,311.8 739.5,308.4 746.4,311.8 755.5,320.9 764.5,330.0 771.4,343.6 775.9,355.0 785.0,345.9 798.6,339.1 810.0,327.7 819.1,316.4 830.5,301.6 841.8,302.7 850.0,308.0 861.1,314.6 872.3,323.5 881.2,332.4 886.7,340.2 892.3,325.8 899.0,312.4 912.4,296.8 923.5,303.5 934.6,305.7 945.8,301.3 954.7,308.0 963.6,319.1 974.7,330.2 984.7,339.1 992.5,323.5 1001.4,308.0 1009.2,294.6 1019.3,295.7 1025.9,301.3 1032.6,316.9 1041.5,334.7 1050.4,354.7 1059.4,372.5 1070.5,389.2 1077.2,377.0 1083.9,363.6 1091.0,345.8" stroke="#00d28c" stroke-width="2"/>
<polyline points="125.7,357.3 138.2,347.7 147.3,357.3 154.1,366.4 163.2,377.7 170.0,398.2 179.1,414.1 188.2,427.7 195.0,398.2 204.1,375.5 212.0,355.0 220.0,359.5 229.1,370.9 235.9,384.5 242.7,361.8 248.4,345.9 256.4,357.3 265.5,384.5 276.8,407.3 285.9,420.9 292.7,398.2 301.8,380.0 310.9,366.4 320.0,357.3 329.1,350.5 338.2,343.6 347.3,336.8 354.1,350.5 360.9,377.7 365.5,395.0 374.1,411.8 381.0,417.0" stroke="#e6a01e" stroke-width="2"/>
<polyline points="387.7,402.7 394.5,384.5 401.4,377.7 410.5,366.4 421.8,355.0 433.2,347.0 444.5,346.4 453.6,366.4 460.5,384.5 467.3,402.7 474.1,407.3 482.0,413.6 487.7,393.6 496.8,375.5 505.9,356.1 519.5,358.4 528.6,356.1 542.3,353.9 551.4,370.9 560.5,389.1 567.3,411.8 574.1,427.7 580.9,434.5 587.7,407.3 594.5,389.1 601.4,373.2 608.2,364.1 610.0,359.5 616.8,353.9 630.5,361.8 641.8,353.9 653.2,354.5 656.6,366.4 657.7,389.1 662.3,411.8 669.1,430.0 673.6,441.0" stroke="#e6a01e" stroke-width="2"/>
<polyline points="680.5,441.0 685.0,416.4 689.5,389.1 696.4,375.5 705.5,366.4 714.5,359.1 725.9,367.5 737.3,367.5 746.4,380.0 755.5,393.6 762.3,411.8 769.1,427.7 775.9,436.8 782.7,411.8 787.3,389.1 791.8,380.0 800.9,368.6" stroke="#e6a01e" stroke-width="2"/>
<polyline points="821.0,362.0 825.9,350.5 832.7,361.8 839.5,375.5 848.6,393.6 850.0,394.8 858.9,408.2 865.6,419.3 874.5,424.9 879.0,414.9 885.6,394.8 892.3,374.8 899.0,357.0 912.4,363.6 923.5,354.7 934.6,351.4 945.8,345.8 954.7,361.4 961.4,385.9 968.0,408.2 973.6,421.5 979.2,399.3 985.9,374.8 994.8,354.7 1005.9,332.4 1012.6,329.1 1021.5,331.3 1028.2,341.4 1034.9,363.6 1043.8,385.9 1052.7,408.2 1061.6,426.0 1068.3,439.4 1070.0,441.0" stroke="#e6a01e" stroke-width="2"/>
<polyline points="1072.7,441.0 1079.4,419.3 1086.1,399.3 1091.0,383.7" stroke="#e6a01e" stroke-width="2"/>
<polyline points="125.7,433.4 138.2,428.9 149.5,441.0" stroke="#f0781e" stroke-width="2"/>
<polyline points="197.3,441.0 210.9,415.2 220.0,434.5 222.3,441.0" stroke="#f0781e" stroke-width="2"/>
<polyline points="247.3,441.0 249.5,435.7 254.1,441.0" stroke="#f0781e" stroke-width="2"/>
<polyline points="297.3,441.0 313.2,433.4 324.5,427.7 333.6,415.2 342.7,434.5 347.3,441.0" stroke="#f0781e" stroke-width="2"/>
<polyline points="410.5,441.0 433.2,419.8 442.3,434.5 444.5,441.0" stroke="#f0781e" stroke-width="2"/>
<polyline points="492.3,441.0 505.9,411.8 515.0,427.7 524.1,436.8 533.2,435.7 542.3,441.0" stroke="#f0781e" stroke-width="2"/>
<polyline points="596.8,441.0 605.9,430.0 612.0,424.0 619.1,420.9 628.2,434.5 632.7,441.0" stroke="#f0781e" stroke-width="2"/>
<polyline points="705.5,441.0 716.8,434.5 725.9,430.0 732.7,441.0" stroke="#f0781e" stroke-width="2"/>
<polyline points="819.1,441.0 825.9,425.5 832.7,441.0" stroke="#f0781e" stroke-width="2"/>
<polyline points="894.5,441.0 901.2,432.7 912.4,433.8 923.5,418.2 934.6,428.2 948.0,423.7 954.7,441.0" stroke="#f0781e" stroke-width="2"/>
<polyline points="983.6,441.0 990.3,405.9 997.0,385.9 1010.4,372.5 1021.5,367.0 1025.9,377.0 1030.4,399.3 1037.1,426.0 1039.3,441.0" stroke="#f0781e" stroke-width="2"/>
<polyline points="1008.1,441.0 1014.8,437.1 1023.7,441.0" stroke="#e6148c" stroke-width="2"/>
<text x="200.5" y="177" font-size="12.5" text-anchor="middle" fill="#a0a0a0" textLength="12.5" lengthAdjust="spacingAndGlyphs">10</text>
<text x="495.5" y="158.5" font-size="12.5" text-anchor="middle" fill="#a0a0a0" textLength="12.5" lengthAdjust="spacingAndGlyphs">50</text>
<text x="309.5" y="241.5" font-size="12.5" text-anchor="middle" fill="#a0a0a0" textLength="12.5" lengthAdjust="spacingAndGlyphs">30</text>
<text x="495" y="342" font-size="12.5" text-anchor="middle" fill="#a0a0a0" textLength="12.5" lengthAdjust="spacingAndGlyphs">30</text>
<text x="309.5" y="413" font-size="12.5" text-anchor="middle" fill="#a0a0a0" textLength="12.5" lengthAdjust="spacingAndGlyphs">30</text>
<text x="581" y="113.5" font-size="12.5" text-anchor="middle" fill="#a0a0a0" textLength="12.5" lengthAdjust="spacingAndGlyphs">10</text>
<text x="654.3" y="277.5" font-size="12.5" text-anchor="middle" fill="#a0a0a0" textLength="12.5" lengthAdjust="spacingAndGlyphs">30</text>
<text x="787" y="309.5" font-size="12.5" text-anchor="middle" fill="#a0a0a0" textLength="12.5" lengthAdjust="spacingAndGlyphs">50</text>
<text x="803" y="161" font-size="12.5" text-anchor="middle" fill="#a0a0a0" textLength="12.5" lengthAdjust="spacingAndGlyphs">70</text>
<text x="888" y="212.5" font-size="12.5" text-anchor="middle" fill="#a0a0a0" textLength="12.5" lengthAdjust="spacingAndGlyphs">70</text>
<text x="998" y="223.5" font-size="12.5" text-anchor="middle" fill="#a0a0a0" textLength="12.5" lengthAdjust="spacingAndGlyphs">70</text>
<text x="1059.4" y="250.4" font-size="12.5" text-anchor="middle" fill="#a0a0a0" textLength="12.5" lengthAdjust="spacingAndGlyphs">60</text>
</g>
<text x="310.4" y="104.5" font-size="17" text-anchor="middle" fill="#8c00f0" textLength="20" lengthAdjust="spacingAndGlyphs">−5</text>
<text x="520" y="151" font-size="17" text-anchor="middle" fill="#8c00f0" textLength="22" lengthAdjust="spacingAndGlyphs">−5</text>
<text x="741.8" y="113" font-size="17" text-anchor="middle" fill="#8c00f0" textLength="22" lengthAdjust="spacingAndGlyphs">−5</text>
<text x="236" y="206.4" font-size="17" text-anchor="middle" fill="#1428ff" textLength="9" lengthAdjust="spacingAndGlyphs">5</text>
<text x="532.6" y="233.7" font-size="17" text-anchor="middle" fill="#0a96ff" textLength="17" lengthAdjust="spacingAndGlyphs">10</text>
<text x="876" y="243.5" font-size="17" text-anchor="middle" fill="#0a96ff" textLength="18" lengthAdjust="spacingAndGlyphs">10</text>
<text x="482" y="281" font-size="17" text-anchor="middle" fill="#00c8d2" textLength="18" lengthAdjust="spacingAndGlyphs">15</text>
<text x="851" y="271" font-size="17" text-anchor="middle" fill="#00c8d2" textLength="18" lengthAdjust="spacingAndGlyphs">15</text>
<text x="335" y="298.2" font-size="17" text-anchor="middle" fill="#00d28c" textLength="19" lengthAdjust="spacingAndGlyphs">20</text>
<text x="629" y="298.2" font-size="17" text-anchor="middle" fill="#00d28c" textLength="19" lengthAdjust="spacingAndGlyphs">20</text>
<text x="384" y="434.5" font-size="17" text-anchor="middle" fill="#e6a01e" textLength="19" lengthAdjust="spacingAndGlyphs">25</text>
<text x="813.3" y="382.3" font-size="17" text-anchor="middle" fill="#e6a01e" textLength="19" lengthAdjust="spacingAndGlyphs">25</text>
<text x="383" y="179" font-size="14" font-weight="bold" text-anchor="middle" fill="#000">FR</text>
<text x="887" y="179" font-size="14" font-weight="bold" text-anchor="middle" fill="#000">FR</text>
<text x="175.5" y="62.7" font-size="16" text-anchor="middle" fill="#000" textLength="44" lengthAdjust="spacingAndGlyphs" >23SEP</text>
<line x1="175.5" y1="66" x2="175.5" y2="70" stroke="#000"/>
<text x="273.7" y="62.7" font-size="16" text-anchor="middle" fill="#000" textLength="44" lengthAdjust="spacingAndGlyphs" >24SEP</text>
<line x1="273.7" y1="66" x2="273.7" y2="70" stroke="#000"/>
<text x="371.9" y="62.7" font-size="16" text-anchor="middle" fill="#000" textLength="44" lengthAdjust="spacingAndGlyphs" >25SEP</text>
<line x1="371.9" y1="66" x2="371.9" y2="70" stroke="#000"/>
<text x="470.1" y="62.7" font-size="16" text-anchor="middle" fill="#000" textLength="44" lengthAdjust="spacingAndGlyphs" >26SEP</text>
<line x1="470.1" y1="66" x2="470.1" y2="70" stroke="#000"/>
<text x="568.3" y="62.7" font-size="16" text-anchor="middle" fill="#000" textLength="44" lengthAdjust="spacingAndGlyphs" >27SEP</text>
<line x1="568.3" y1="66" x2="568.3" y2="70" stroke="#000"/>
<text x="666.5" y="62.7" font-size="16" text-anchor="middle" fill="#000" textLength="44" lengthAdjust="spacingAndGlyphs" >28SEP</text>
<line x1="666.5" y1="66" x2="666.5" y2="70" stroke="#000"/>
<text x="764.7" y="62.7" font-size="16" text-anchor="middle" fill="#000" textLength="44" lengthAdjust="spacingAndGlyphs" >29SEP</text>
<line x1="764.7" y1="66" x2="764.7" y2="70" stroke="#000"/>
<text x="862.9" y="62.7" font-size="16" text-anchor="middle" fill="#000" textLength="44" lengthAdjust="spacingAndGlyphs" >30SEP</text>
<line x1="862.9" y1="66" x2="862.9" y2="70" stroke="#000"/>
<text x="961.1" y="62.7" font-size="16" text-anchor="middle" fill="#000" textLength="34.5" lengthAdjust="spacingAndGlyphs" >1OCT</text>
<line x1="961.1" y1="66" x2="961.1" y2="70" stroke="#000"/>
<text x="1059.3" y="62.7" font-size="16" text-anchor="middle" fill="#000" textLength="34.5" lengthAdjust="spacingAndGlyphs" >2OCT</text>
<line x1="1059.3" y1="66" x2="1059.3" y2="70" stroke="#000"/>
<text x="112.2" y="112.8" font-size="13.5" text-anchor="end" fill="#000" textLength="20.3" lengthAdjust="spacingAndGlyphs" >500</text>
<line x1="116" y1="107.5" x2="120" y2="107.5" stroke="#000"/>
<text x="112.2" y="186.8" font-size="13.5" text-anchor="end" fill="#000" textLength="20.3" lengthAdjust="spacingAndGlyphs" >600</text>
<line x1="116" y1="181.5" x2="120" y2="181.5" stroke="#000"/>
<text x="112.2" y="260.8" font-size="13.5" text-anchor="end" fill="#000" textLength="20.3" lengthAdjust="spacingAndGlyphs" >700</text>
<line x1="116" y1="255.5" x2="120" y2="255.5" stroke="#000"/>
<text x="112.2" y="334.8" font-size="13.5" text-anchor="end" fill="#000" textLength="20.3" lengthAdjust="spacingAndGlyphs" >800</text>
<line x1="116" y1="329.5" x2="120" y2="329.5" stroke="#000"/>
<text x="112.2" y="408.8" font-size="13.5" text-anchor="end" fill="#000" textLength="20.3" lengthAdjust="spacingAndGlyphs" >900</text>
<line x1="116" y1="403.5" x2="120" y2="403.5" stroke="#000"/>
<line x1="120.5" y1="449.5" x2="1090.5" y2="449.5" stroke="#a0a0a0" stroke-width="1" stroke-dasharray="4 2" />
<line x1="120.5" y1="466.5" x2="1090.5" y2="466.5" stroke="#a0a0a0" stroke-width="1" stroke-dasharray="4 2" />
<line x1="120.5" y1="484.5" x2="1090.5" y2="484.5" stroke="#a0a0a0" stroke-width="1" stroke-dasharray="4 2" />
<line x1="120.5" y1="501.5" x2="1090.5" y2="501.5" stroke="#a0a0a0" stroke-width="1" stroke-dasharray="4 2" />
<line x1="120.5" y1="519.5" x2="1090.5" y2="519.5" stroke="#a0a0a0" stroke-width="1" stroke-dasharray="4 2" />
<line x1="175.5" y1="440.5" x2="175.5" y2="525.5" stroke="#a0a0a0" stroke-width="1" stroke-dasharray="4 2"/>
<line x1="273.7" y1="440.5" x2="273.7" y2="525.5" stroke="#a0a0a0" stroke-width="1" stroke-dasharray="4 2"/>
<line x1="371.9" y1="440.5" x2="371.9" y2="525.5" stroke="#a0a0a0" stroke-width="1" stroke-dasharray="4 2"/>
<line x1="470.1" y1="440.5" x2="470.1" y2="525.5" stroke="#a0a0a0" stroke-width="1" stroke-dasharray="4 2"/>
<line x1="568.3" y1="440.5" x2="568.3" y2="525.5" stroke="#a0a0a0" stroke-width="1" stroke-dasharray="4 2"/>
<line x1="666.5" y1="440.5" x2="666.5" y2="525.5" stroke="#a0a0a0" stroke-width="1" stroke-dasharray="4 2"/>
<line x1="764.7" y1="440.5" x2="764.7" y2="525.5" stroke="#a0a0a0" stroke-width="1" stroke-dasharray="4 2"/>
<line x1="862.9" y1="440.5" x2="862.9" y2="525.5" stroke="#a0a0a0" stroke-width="1" stroke-dasharray="4 2"/>
<line x1="961.1" y1="440.5" x2="961.1" y2="525.5" stroke="#a0a0a0" stroke-width="1" stroke-dasharray="4 2"/>
<line x1="1059.3" y1="440.5" x2="1059.3" y2="525.5" stroke="#a0a0a0" stroke-width="1" stroke-dasharray="4 2"/>
<g clip-path="url(#cSlp)">
<polyline points="126.1,483.4 138.4,480.1 150.7,485.3 163,482.4 175.3,489.3 187.5,495.9 199.8,490.5 212.1,480.1 224.4,477.7 236.6,473.5 248.9,475.4 261.2,480.6 273.5,488.1 285.8,493.6 298,492.4 310.3,486.5 322.6,469.9 334.9,460.9 347.2,468.7 359.4,480.6 371.7,489.4 384,488.1 396.3,488.8 408.5,485.3 420.8,466.4 433.1,455 445.4,466.4 457.7,479.4 469.9,486.9 482.2,492.4 494.5,491.2 506.8,482.9 519.1,480.1 531.3,468.3 543.6,473.9 555.9,480.6 568.2,499.9 580.4,516.5 592.7,511.3 605,491.5 617.3,474.4 629.6,467.5 641.8,478.7 654.1,481.3 666.4,495.9 678.7,516.7 690.9,503.7 703.2,489.5 715.5,474.2 727.8,469.2 740.1,473.9 752.3,480.1 764.6,490.5 776.9,503.7 789.2,490.5 801.5,480.1 813.7,470.6 826,456.9 838.3,462.3 850.6,468.3 862.8,481.3 875.1,487.2 887.4,486.5 899.7,467.5 912,458.8 924.2,446.7 936.5,461.6 948.8,465.2 961.1,482.9 973.4,499.9 985.6,489.5 997.9,474.6 1010.2,451 1022.5,454.1 1034.7,472.3 1047,486.5 1059.3,507.7 1071.6,519.6 1083.9,513.2 1096.1,486.3" fill="none" stroke="#00c8c8" stroke-width="1" stroke-linejoin="round" />
<path d="M126.1,479.9 L129.6,485.9 L122.6,485.9 Z" fill="#fff" stroke="#00c8c8" stroke-width="1"/>
<path d="M138.4,476.6 L141.9,482.6 L134.9,482.6 Z" fill="#fff" stroke="#00c8c8" stroke-width="1"/>
<path d="M150.7,481.8 L154.2,487.8 L147.2,487.8 Z" fill="#fff" stroke="#00c8c8" stroke-width="1"/>
<path d="M163,478.9 L166.5,484.9 L159.5,484.9 Z" fill="#fff" stroke="#00c8c8" stroke-width="1"/>
<path d="M175.3,485.8 L178.8,491.8 L171.8,491.8 Z" fill="#fff" stroke="#00c8c8" stroke-width="1"/>
<path d="M187.5,492.4 L191,498.4 L184,498.4 Z" fill="#fff" stroke="#00c8c8" stroke-width="1"/>
<path d="M199.8,487 L203.3,493 L196.3,493 Z" fill="#fff" stroke="#00c8c8" stroke-width="1"/>
<path d="M212.1,476.6 L215.6,482.6 L208.6,482.6 Z" fill="#fff" stroke="#00c8c8" stroke-width="1"/>
<path d="M224.4,474.2 L227.9,480.2 L220.9,480.2 Z" fill="#fff" stroke="#00c8c8" stroke-width="1"/>
<path d="M236.6,470 L240.1,476 L233.1,476 Z" fill="#fff" stroke="#00c8c8" stroke-width="1"/>
<path d="M248.9,471.9 L252.4,477.9 L245.4,477.9 Z" fill="#fff" stroke="#00c8c8" stroke-width="1"/>
<path d="M261.2,477.1 L264.7,483.1 L257.7,483.1 Z" fill="#fff" stroke="#00c8c8" stroke-width="1"/>
<path d="M273.5,484.6 L277,490.6 L270,490.6 Z" fill="#fff" stroke="#00c8c8" stroke-width="1"/>
<path d="M285.8,490.1 L289.3,496.1 L282.3,496.1 Z" fill="#fff" stroke="#00c8c8" stroke-width="1"/>
<path d="M298,488.9 L301.5,494.9 L294.5,494.9 Z" fill="#fff" stroke="#00c8c8" stroke-width="1"/>
<path d="M310.3,483 L313.8,489 L306.8,489 Z" fill="#fff" stroke="#00c8c8" stroke-width="1"/>
<path d="M322.6,466.4 L326.1,472.4 L319.1,472.4 Z" fill="#fff" stroke="#00c8c8" stroke-width="1"/>
<path d="M334.9,457.4 L338.4,463.4 L331.4,463.4 Z" fill="#fff" stroke="#00c8c8" stroke-width="1"/>
<path d="M347.2,465.2 L350.7,471.2 L343.7,471.2 Z" fill="#fff" stroke="#00c8c8" stroke-width="1"/>
<path d="M359.4,477.1 L362.9,483.1 L355.9,483.1 Z" fill="#fff" stroke="#00c8c8" stroke-width="1"/>
<path d="M371.7,485.9 L375.2,491.9 L368.2,491.9 Z" fill="#fff" stroke="#00c8c8" stroke-width="1"/>
<path d="M384,484.6 L387.5,490.6 L380.5,490.6 Z" fill="#fff" stroke="#00c8c8" stroke-width="1"/>
<path d="M396.3,485.3 L399.8,491.3 L392.8,491.3 Z" fill="#fff" stroke="#00c8c8" stroke-width="1"/>
<path d="M408.5,481.8 L412,487.8 L405,487.8 Z" fill="#fff" stroke="#00c8c8" stroke-width="1"/>
<path d="M420.8,462.9 L424.3,468.9 L417.3,468.9 Z" fill="#fff" stroke="#00c8c8" stroke-width="1"/>
<path d="M433.1,451.5 L436.6,457.5 L429.6,457.5 Z" fill="#fff" stroke="#00c8c8" stroke-width="1"/>
<path d="M445.4,462.9 L448.9,468.9 L441.9,468.9 Z" fill="#fff" stroke="#00c8c8" stroke-width="1"/>
<path d="M457.7,475.9 L461.2,481.9 L454.2,481.9 Z" fill="#fff" stroke="#00c8c8" stroke-width="1"/>
<path d="M469.9,483.4 L473.4,489.4 L466.4,489.4 Z" fill="#fff" stroke="#00c8c8" stroke-width="1"/>
<path d="M482.2,488.9 L485.7,494.9 L478.7,494.9 Z" fill="#fff" stroke="#00c8c8" stroke-width="1"/>
<path d="M494.5,487.7 L498,493.7 L491,493.7 Z" fill="#fff" stroke="#00c8c8" stroke-width="1"/>
<path d="M506.8,479.4 L510.3,485.4 L503.3,485.4 Z" fill="#fff" stroke="#00c8c8" stroke-width="1"/>
<path d="M519.1,476.6 L522.6,482.6 L515.6,482.6 Z" fill="#fff" stroke="#00c8c8" stroke-width="1"/>
<path d="M531.3,464.8 L534.8,470.8 L527.8,470.8 Z" fill="#fff" stroke="#00c8c8" stroke-width="1"/>
<path d="M543.6,470.4 L547.1,476.4 L540.1,476.4 Z" fill="#fff" stroke="#00c8c8" stroke-width="1"/>
<path d="M555.9,477.1 L559.4,483.1 L552.4,483.1 Z" fill="#fff" stroke="#00c8c8" stroke-width="1"/>
<path d="M568.2,496.4 L571.7,502.4 L564.7,502.4 Z" fill="#fff" stroke="#00c8c8" stroke-width="1"/>
<path d="M580.4,513 L583.9,519 L576.9,519 Z" fill="#fff" stroke="#00c8c8" stroke-width="1"/>
<path d="M592.7,507.8 L596.2,513.8 L589.2,513.8 Z" fill="#fff" stroke="#00c8c8" stroke-width="1"/>
<path d="M605,488 L608.5,494 L601.5,494 Z" fill="#fff" stroke="#00c8c8" stroke-width="1"/>
<path d="M617.3,470.9 L620.8,476.9 L613.8,476.9 Z" fill="#fff" stroke="#00c8c8" stroke-width="1"/>
<path d="M629.6,464 L633.1,470 L626.1,470 Z" fill="#fff" stroke="#00c8c8" stroke-width="1"/>
<path d="M641.8,475.2 L645.3,481.2 L638.3,481.2 Z" fill="#fff" stroke="#00c8c8" stroke-width="1"/>
<path d="M654.1,477.8 L657.6,483.8 L650.6,483.8 Z" fill="#fff" stroke="#00c8c8" stroke-width="1"/>
<path d="M666.4,492.4 L669.9,498.4 L662.9,498.4 Z" fill="#fff" stroke="#00c8c8" stroke-width="1"/>
<path d="M678.7,513.2 L682.2,519.2 L675.2,519.2 Z" fill="#fff" stroke="#00c8c8" stroke-width="1"/>
<path d="M690.9,500.2 L694.4,506.2 L687.4,506.2 Z" fill="#fff" stroke="#00c8c8" stroke-width="1"/>
<path d="M703.2,486 L706.7,492 L699.7,492 Z" fill="#fff" stroke="#00c8c8" stroke-width="1"/>
<path d="M715.5,470.7 L719,476.7 L712,476.7 Z" fill="#fff" stroke="#00c8c8" stroke-width="1"/>
<path d="M727.8,465.7 L731.3,471.7 L724.3,471.7 Z" fill="#fff" stroke="#00c8c8" stroke-width="1"/>
<path d="M740.1,470.4 L743.6,476.4 L736.6,476.4 Z" fill="#fff" stroke="#00c8c8" stroke-width="1"/>
<path d="M752.3,476.6 L755.8,482.6 L748.8,482.6 Z" fill="#fff" stroke="#00c8c8" stroke-width="1"/>
<path d="M764.6,487 L768.1,493 L761.1,493 Z" fill="#fff" stroke="#00c8c8" stroke-width="1"/>
<path d="M776.9,500.2 L780.4,506.2 L773.4,506.2 Z" fill="#fff" stroke="#00c8c8" stroke-width="1"/>
<path d="M789.2,487 L792.7,493 L785.7,493 Z" fill="#fff" stroke="#00c8c8" stroke-width="1"/>
<path d="M801.5,476.6 L805,482.6 L798,482.6 Z" fill="#fff" stroke="#00c8c8" stroke-width="1"/>
<path d="M813.7,467.1 L817.2,473.1 L810.2,473.1 Z" fill="#fff" stroke="#00c8c8" stroke-width="1"/>
<path d="M826,453.4 L829.5,459.4 L822.5,459.4 Z" fill="#fff" stroke="#00c8c8" stroke-width="1"/>
<path d="M838.3,458.8 L841.8,464.8 L834.8,464.8 Z" fill="#fff" stroke="#00c8c8" stroke-width="1"/>
<path d="M850.6,464.8 L854.1,470.8 L847.1,470.8 Z" fill="#fff" stroke="#00c8c8" stroke-width="1"/>
<path d="M862.8,477.8 L866.3,483.8 L859.3,483.8 Z" fill="#fff" stroke="#00c8c8" stroke-width="1"/>
<path d="M875.1,483.7 L878.6,489.7 L871.6,489.7 Z" fill="#fff" stroke="#00c8c8" stroke-width="1"/>
<path d="M887.4,483 L890.9,489 L883.9,489 Z" fill="#fff" stroke="#00c8c8" stroke-width="1"/>
<path d="M899.7,464 L903.2,470 L896.2,470 Z" fill="#fff" stroke="#00c8c8" stroke-width="1"/>
<path d="M912,455.3 L915.5,461.3 L908.5,461.3 Z" fill="#fff" stroke="#00c8c8" stroke-width="1"/>
<path d="M924.2,443.2 L927.7,449.2 L920.7,449.2 Z" fill="#fff" stroke="#00c8c8" stroke-width="1"/>
<path d="M936.5,458.1 L940,464.1 L933,464.1 Z" fill="#fff" stroke="#00c8c8" stroke-width="1"/>
<path d="M948.8,461.7 L952.3,467.7 L945.3,467.7 Z" fill="#fff" stroke="#00c8c8" stroke-width="1"/>
<path d="M961.1,479.4 L964.6,485.4 L957.6,485.4 Z" fill="#fff" stroke="#00c8c8" stroke-width="1"/>
<path d="M973.4,496.4 L976.9,502.4 L969.9,502.4 Z" fill="#fff" stroke="#00c8c8" stroke-width="1"/>
<path d="M985.6,486 L989.1,492 L982.1,492 Z" fill="#fff" stroke="#00c8c8" stroke-width="1"/>
<path d="M997.9,471.1 L1001.4,477.1 L994.4,477.1 Z" fill="#fff" stroke="#00c8c8" stroke-width="1"/>
<path d="M1010.2,447.5 L1013.7,453.5 L1006.7,453.5 Z" fill="#fff" stroke="#00c8c8" stroke-width="1"/>
<path d="M1022.5,450.6 L1026,456.6 L1019,456.6 Z" fill="#fff" stroke="#00c8c8" stroke-width="1"/>
<path d="M1034.7,468.8 L1038.2,474.8 L1031.2,474.8 Z" fill="#fff" stroke="#00c8c8" stroke-width="1"/>
<path d="M1047,483 L1050.5,489 L1043.5,489 Z" fill="#fff" stroke="#00c8c8" stroke-width="1"/>
<path d="M1059.3,504.2 L1062.8,510.2 L1055.8,510.2 Z" fill="#fff" stroke="#00c8c8" stroke-width="1"/>
<path d="M1071.6,516.1 L1075.1,522.1 L1068.1,522.1 Z" fill="#fff" stroke="#00c8c8" stroke-width="1"/>
<path d="M1083.9,509.7 L1087.4,515.7 L1080.4,515.7 Z" fill="#fff" stroke="#00c8c8" stroke-width="1"/>
<path d="M1096.1,482.8 L1099.6,488.8 L1092.6,488.8 Z" fill="#fff" stroke="#00c8c8" stroke-width="1"/>
<polyline points="126.1,484.1 138.4,482.9 150.7,464 163,461.6 175.3,475.8 187.5,462.8 199.8,449.8 212.1,466.4 224.4,483.6 236.6,482.4 248.9,473 261.2,468.3 273.5,475.8 285.8,462.8 298,449.8 310.3,459.3 322.6,492.4 334.9,500.6 347.2,484.1 359.4,471.8 371.7,475.1 384,467.5 396.3,454.1 408.5,459.7 420.8,498.3 433.1,503.7 445.4,482.9 457.7,473.9 469.9,485.3 482.2,473.5 494.5,461.6 506.8,471.1 519.1,493.6 531.3,503.7 543.6,488.8 555.9,482.9 568.2,479.4 580.4,459.3 592.7,453.8 605,468.5 617.3,502.5 629.6,506.6 641.8,491.9 654.1,484.8 666.4,485.8 678.7,461.2 690.9,455.7 703.2,465.2 715.5,499 727.8,500.6 740.1,486.5 752.3,482.4 764.6,487.6 776.9,466.4 789.2,460.5 801.5,468.7 813.7,493.6 826,505.4 838.3,486.5 850.6,481.7 862.8,485 875.1,476.3 887.4,460.5 899.7,480.6 912,504.7 924.2,510.1 936.5,489.5 948.8,486.9 961.1,488.8 973.4,466.4 985.6,460.9 997.9,484.8 1010.2,517.9 1022.5,519.6 1034.7,494.7 1047,477 1059.3,473 1071.6,458.1 1083.9,445.6" fill="none" stroke="#0a1eff" stroke-width="2" stroke-linejoin="round" />
</g>
<line x1="120.5" y1="547.5" x2="1090.5" y2="547.5" stroke="#a0a0a0" stroke-width="1" stroke-dasharray="4 2" />
<line x1="120.5" y1="589.5" x2="1090.5" y2="589.5" stroke="#a0a0a0" stroke-width="1" stroke-dasharray="4 2" />
<line x1="175.5" y1="525.5" x2="175.5" y2="610.5" stroke="#a0a0a0" stroke-width="1" stroke-dasharray="4 2"/>
<line x1="273.7" y1="525.5" x2="273.7" y2="610.5" stroke="#a0a0a0" stroke-width="1" stroke-dasharray="4 2"/>
<line x1="371.9" y1="525.5" x2="371.9" y2="610.5" stroke="#a0a0a0" stroke-width="1" stroke-dasharray="4 2"/>
<line x1="470.1" y1="525.5" x2="470.1" y2="610.5" stroke="#a0a0a0" stroke-width="1" stroke-dasharray="4 2"/>
<line x1="568.3" y1="525.5" x2="568.3" y2="610.5" stroke="#a0a0a0" stroke-width="1" stroke-dasharray="4 2"/>
<line x1="666.5" y1="525.5" x2="666.5" y2="610.5" stroke="#a0a0a0" stroke-width="1" stroke-dasharray="4 2"/>
<line x1="764.7" y1="525.5" x2="764.7" y2="610.5" stroke="#a0a0a0" stroke-width="1" stroke-dasharray="4 2"/>
<line x1="862.9" y1="525.5" x2="862.9" y2="610.5" stroke="#a0a0a0" stroke-width="1" stroke-dasharray="4 2"/>
<line x1="961.1" y1="525.5" x2="961.1" y2="610.5" stroke="#a0a0a0" stroke-width="1" stroke-dasharray="4 2"/>
<line x1="1059.3" y1="525.5" x2="1059.3" y2="610.5" stroke="#a0a0a0" stroke-width="1" stroke-dasharray="4 2"/>
<g clip-path="url(#cCape)">
<rect x="122.8" y="605.9" width="6.6" height="4.6" fill="#c07cf0"/>
<rect x="135.1" y="605.9" width="6.6" height="4.6" fill="#c07cf0"/>
<rect x="208.8" y="607.1" width="6.6" height="3.4" fill="#c07cf0"/>
<rect x="221.1" y="597.2" width="6.6" height="13.3" fill="#c07cf0"/>
<rect x="233.3" y="601.9" width="6.6" height="8.6" fill="#c07cf0"/>
<rect x="245.6" y="607.1" width="6.6" height="3.4" fill="#c07cf0"/>
<rect x="307" y="605.9" width="6.6" height="4.6" fill="#c07cf0"/>
<rect x="319.3" y="605.9" width="6.6" height="4.6" fill="#c07cf0"/>
<rect x="331.6" y="609" width="6.6" height="1.5" fill="#c07cf0"/>
<rect x="405.2" y="609.3" width="6.6" height="1.2" fill="#c07cf0"/>
<rect x="429.8" y="609.3" width="6.6" height="1.2" fill="#c07cf0"/>
<rect x="503.5" y="609.3" width="6.6" height="1.2" fill="#c07cf0"/>
<rect x="515.8" y="605.9" width="6.6" height="4.6" fill="#c07cf0"/>
<rect x="528" y="603.1" width="6.6" height="7.4" fill="#c07cf0"/>
<rect x="626.3" y="609.3" width="6.6" height="1.2" fill="#c07cf0"/>
<rect x="638.5" y="609.3" width="6.6" height="1.2" fill="#c07cf0"/>
<rect x="785.9" y="608.2" width="6.6" height="2.3" fill="#c07cf0"/>
<rect x="798.2" y="606.4" width="6.6" height="4.1" fill="#c07cf0"/>
<rect x="810.4" y="607.3" width="6.6" height="3.2" fill="#c07cf0"/>
<rect x="822.7" y="604" width="6.6" height="6.5" fill="#c07cf0"/>
<rect x="835" y="603.6" width="6.6" height="6.9" fill="#c07cf0"/>
<rect x="847.3" y="607.3" width="6.6" height="3.2" fill="#c07cf0"/>
<rect x="859.5" y="608.6" width="6.6" height="1.9" fill="#c07cf0"/>
<rect x="871.8" y="608.6" width="6.6" height="1.9" fill="#c07cf0"/>
<rect x="884.1" y="605.5" width="6.6" height="5" fill="#c07cf0"/>
<rect x="896.4" y="580" width="6.6" height="30.5" fill="#c07cf0"/>
<rect x="908.7" y="592.2" width="6.6" height="18.3" fill="#c07cf0"/>
<rect x="920.9" y="596.2" width="6.6" height="14.3" fill="#c07cf0"/>
<rect x="933.2" y="600" width="6.6" height="10.5" fill="#c07cf0"/>
<rect x="945.5" y="604" width="6.6" height="6.5" fill="#c07cf0"/>
<rect x="994.6" y="582.3" width="6.6" height="28.2" fill="#c07cf0"/>
<rect x="1006.9" y="531" width="6.6" height="79.5" fill="#c07cf0"/>
<rect x="1019.2" y="562.2" width="6.6" height="48.3" fill="#c07cf0"/>
<rect x="1043.7" y="609" width="6.6" height="1.5" fill="#c07cf0"/>
<rect x="1056" y="607.1" width="6.6" height="3.4" fill="#c07cf0"/>
<rect x="1068.3" y="608.3" width="6.6" height="2.2" fill="#c07cf0"/>
<rect x="1080.6" y="605.2" width="6.6" height="5.3" fill="#c07cf0"/>
<line x1="120.5" y1="568.5" x2="1090.5" y2="568.5" stroke="#f03c3c" stroke-width="1" stroke-dasharray="4 2"/>
<polyline points="126.1,591 138.4,579.2 150.7,604.3 163,605.9 175.3,603.1 187.5,599.3 199.8,582.8 212.1,585.4 224.4,564.6 236.6,557.5 248.9,592.4 261.2,600 273.5,601.2 285.8,614 298,594.6 310.3,600 322.6,587 334.9,572.8 347.2,605.2 359.4,605.2 371.7,614 384,614 396.3,603.6 408.5,600 420.8,588.7 433.1,568.1 445.4,587 457.7,616 469.9,618 482.2,612 494.5,616 506.8,603.6 519.1,583.9 531.3,558.6 543.6,600.5 555.9,615 568.2,618 580.4,614 592.7,608.3 605,589 617.3,582.6 629.6,569.3 641.8,597.6 654.1,616 666.4,618 678.7,618 690.9,616 703.2,607.1 715.5,605.2 727.8,590.1 740.1,616 752.3,618 764.6,616 776.9,617 789.2,604.3 801.5,597.6 813.7,572.8 826,568.1 838.3,569.3 850.6,576.8 862.8,579.2 875.1,581.1 887.4,572.1 899.7,564.6 912,548.5 924.2,548.5 936.5,561.7 948.8,564.1 961.1,586.3 973.4,602.4 985.6,572.1 997.9,553.9 1010.2,531.5 1022.5,562.7 1034.7,584.6 1047,592.4 1059.3,577.6 1071.6,580.6 1083.9,578.7 1096.1,574" fill="none" stroke="#f03c3c" stroke-width="1" stroke-linejoin="round" />
<path d="M126.1,587 L128.6,591 L126.1,595 L123.6,591 Z" fill="none" stroke="#f03c3c" stroke-width="1"/>
<path d="M138.4,575.2 L140.9,579.2 L138.4,583.2 L135.9,579.2 Z" fill="none" stroke="#f03c3c" stroke-width="1"/>
<path d="M150.7,600.3 L153.2,604.3 L150.7,608.3 L148.2,604.3 Z" fill="none" stroke="#f03c3c" stroke-width="1"/>
<path d="M163,601.9 L165.5,605.9 L163,609.9 L160.5,605.9 Z" fill="none" stroke="#f03c3c" stroke-width="1"/>
<path d="M175.3,599.1 L177.8,603.1 L175.3,607.1 L172.8,603.1 Z" fill="none" stroke="#f03c3c" stroke-width="1"/>
<path d="M187.5,595.3 L190,599.3 L187.5,603.3 L185,599.3 Z" fill="none" stroke="#f03c3c" stroke-width="1"/>
<path d="M199.8,578.8 L202.3,582.8 L199.8,586.8 L197.3,582.8 Z" fill="none" stroke="#f03c3c" stroke-width="1"/>
<path d="M212.1,581.4 L214.6,585.4 L212.1,589.4 L209.6,585.4 Z" fill="none" stroke="#f03c3c" stroke-width="1"/>
<path d="M224.4,560.6 L226.9,564.6 L224.4,568.6 L221.9,564.6 Z" fill="none" stroke="#f03c3c" stroke-width="1"/>
<path d="M236.6,553.5 L239.1,557.5 L236.6,561.5 L234.1,557.5 Z" fill="none" stroke="#f03c3c" stroke-width="1"/>
<path d="M248.9,588.4 L251.4,592.4 L248.9,596.4 L246.4,592.4 Z" fill="none" stroke="#f03c3c" stroke-width="1"/>
<path d="M261.2,596 L263.7,600 L261.2,604 L258.7,600 Z" fill="none" stroke="#f03c3c" stroke-width="1"/>
<path d="M273.5,597.2 L276,601.2 L273.5,605.2 L271,601.2 Z" fill="none" stroke="#f03c3c" stroke-width="1"/>
<path d="M298,590.6 L300.5,594.6 L298,598.6 L295.5,594.6 Z" fill="none" stroke="#f03c3c" stroke-width="1"/>
<path d="M310.3,596 L312.8,600 L310.3,604 L307.8,600 Z" fill="none" stroke="#f03c3c" stroke-width="1"/>
<path d="M322.6,583 L325.1,587 L322.6,591 L320.1,587 Z" fill="none" stroke="#f03c3c" stroke-width="1"/>
<path d="M334.9,568.8 L337.4,572.8 L334.9,576.8 L332.4,572.8 Z" fill="none" stroke="#f03c3c" stroke-width="1"/>
<path d="M347.2,601.2 L349.7,605.2 L347.2,609.2 L344.7,605.2 Z" fill="none" stroke="#f03c3c" stroke-width="1"/>
<path d="M359.4,601.2 L361.9,605.2 L359.4,609.2 L356.9,605.2 Z" fill="none" stroke="#f03c3c" stroke-width="1"/>
<path d="M396.3,599.6 L398.8,603.6 L396.3,607.6 L393.8,603.6 Z" fill="none" stroke="#f03c3c" stroke-width="1"/>
<path d="M408.5,596 L411,600 L408.5,604 L406,600 Z" fill="none" stroke="#f03c3c" stroke-width="1"/>
<path d="M420.8,584.7 L423.3,588.7 L420.8,592.7 L418.3,588.7 Z" fill="none" stroke="#f03c3c" stroke-width="1"/>
<path d="M433.1,564.1 L435.6,568.1 L433.1,572.1 L430.6,568.1 Z" fill="none" stroke="#f03c3c" stroke-width="1"/>
<path d="M445.4,583 L447.9,587 L445.4,591 L442.9,587 Z" fill="none" stroke="#f03c3c" stroke-width="1"/>
<path d="M506.8,599.6 L509.3,603.6 L506.8,607.6 L504.3,603.6 Z" fill="none" stroke="#f03c3c" stroke-width="1"/>
<path d="M519.1,579.9 L521.6,583.9 L519.1,587.9 L516.6,583.9 Z" fill="none" stroke="#f03c3c" stroke-width="1"/>
<path d="M531.3,554.6 L533.8,558.6 L531.3,562.6 L528.8,558.6 Z" fill="none" stroke="#f03c3c" stroke-width="1"/>
<path d="M543.6,596.5 L546.1,600.5 L543.6,604.5 L541.1,600.5 Z" fill="none" stroke="#f03c3c" stroke-width="1"/>
<path d="M592.7,604.3 L595.2,608.3 L592.7,612.3 L590.2,608.3 Z" fill="none" stroke="#f03c3c" stroke-width="1"/>
<path d="M605,585 L607.5,589 L605,593 L602.5,589 Z" fill="none" stroke="#f03c3c" stroke-width="1"/>
<path d="M617.3,578.6 L619.8,582.6 L617.3,586.6 L614.8,582.6 Z" fill="none" stroke="#f03c3c" stroke-width="1"/>
<path d="M629.6,565.3 L632.1,569.3 L629.6,573.3 L627.1,569.3 Z" fill="none" stroke="#f03c3c" stroke-width="1"/>
<path d="M641.8,593.6 L644.3,597.6 L641.8,601.6 L639.3,597.6 Z" fill="none" stroke="#f03c3c" stroke-width="1"/>
<path d="M703.2,603.1 L705.7,607.1 L703.2,611.1 L700.7,607.1 Z" fill="none" stroke="#f03c3c" stroke-width="1"/>
<path d="M715.5,601.2 L718,605.2 L715.5,609.2 L713,605.2 Z" fill="none" stroke="#f03c3c" stroke-width="1"/>
<path d="M727.8,586.1 L730.3,590.1 L727.8,594.1 L725.3,590.1 Z" fill="none" stroke="#f03c3c" stroke-width="1"/>
<path d="M789.2,600.3 L791.7,604.3 L789.2,608.3 L786.7,604.3 Z" fill="none" stroke="#f03c3c" stroke-width="1"/>
<path d="M801.5,593.6 L804,597.6 L801.5,601.6 L799,597.6 Z" fill="none" stroke="#f03c3c" stroke-width="1"/>
<path d="M813.7,568.8 L816.2,572.8 L813.7,576.8 L811.2,572.8 Z" fill="none" stroke="#f03c3c" stroke-width="1"/>
<path d="M826,564.1 L828.5,568.1 L826,572.1 L823.5,568.1 Z" fill="none" stroke="#f03c3c" stroke-width="1"/>
<path d="M838.3,565.3 L840.8,569.3 L838.3,573.3 L835.8,569.3 Z" fill="none" stroke="#f03c3c" stroke-width="1"/>
<path d="M850.6,572.8 L853.1,576.8 L850.6,580.8 L848.1,576.8 Z" fill="none" stroke="#f03c3c" stroke-width="1"/>
<path d="M862.8,575.2 L865.3,579.2 L862.8,583.2 L860.3,579.2 Z" fill="none" stroke="#f03c3c" stroke-width="1"/>
<path d="M875.1,577.1 L877.6,581.1 L875.1,585.1 L872.6,581.1 Z" fill="none" stroke="#f03c3c" stroke-width="1"/>
<path d="M887.4,568.1 L889.9,572.1 L887.4,576.1 L884.9,572.1 Z" fill="none" stroke="#f03c3c" stroke-width="1"/>
<path d="M899.7,560.6 L902.2,564.6 L899.7,568.6 L897.2,564.6 Z" fill="none" stroke="#f03c3c" stroke-width="1"/>
<path d="M912,544.5 L914.5,548.5 L912,552.5 L909.5,548.5 Z" fill="none" stroke="#f03c3c" stroke-width="1"/>
<path d="M924.2,544.5 L926.7,548.5 L924.2,552.5 L921.7,548.5 Z" fill="none" stroke="#f03c3c" stroke-width="1"/>
<path d="M936.5,557.7 L939,561.7 L936.5,565.7 L934,561.7 Z" fill="none" stroke="#f03c3c" stroke-width="1"/>
<path d="M948.8,560.1 L951.3,564.1 L948.8,568.1 L946.3,564.1 Z" fill="none" stroke="#f03c3c" stroke-width="1"/>
<path d="M961.1,582.3 L963.6,586.3 L961.1,590.3 L958.6,586.3 Z" fill="none" stroke="#f03c3c" stroke-width="1"/>
<path d="M973.4,598.4 L975.9,602.4 L973.4,606.4 L970.9,602.4 Z" fill="none" stroke="#f03c3c" stroke-width="1"/>
<path d="M985.6,568.1 L988.1,572.1 L985.6,576.1 L983.1,572.1 Z" fill="none" stroke="#f03c3c" stroke-width="1"/>
<path d="M997.9,549.9 L1000.4,553.9 L997.9,557.9 L995.4,553.9 Z" fill="none" stroke="#f03c3c" stroke-width="1"/>
<path d="M1010.2,527.5 L1012.7,531.5 L1010.2,535.5 L1007.7,531.5 Z" fill="none" stroke="#f03c3c" stroke-width="1"/>
<path d="M1022.5,558.7 L1025,562.7 L1022.5,566.7 L1020,562.7 Z" fill="none" stroke="#f03c3c" stroke-width="1"/>
<path d="M1034.7,580.6 L1037.2,584.6 L1034.7,588.6 L1032.2,584.6 Z" fill="none" stroke="#f03c3c" stroke-width="1"/>
<path d="M1047,588.4 L1049.5,592.4 L1047,596.4 L1044.5,592.4 Z" fill="none" stroke="#f03c3c" stroke-width="1"/>
<path d="M1059.3,573.6 L1061.8,577.6 L1059.3,581.6 L1056.8,577.6 Z" fill="none" stroke="#f03c3c" stroke-width="1"/>
<path d="M1071.6,576.6 L1074.1,580.6 L1071.6,584.6 L1069.1,580.6 Z" fill="none" stroke="#f03c3c" stroke-width="1"/>
<path d="M1083.9,574.7 L1086.4,578.7 L1083.9,582.7 L1081.4,578.7 Z" fill="none" stroke="#f03c3c" stroke-width="1"/>
<path d="M1096.1,570 L1098.6,574 L1096.1,578 L1093.6,574 Z" fill="none" stroke="#f03c3c" stroke-width="1"/>
</g>
<line x1="120.5" y1="627.5" x2="1090.5" y2="627.5" stroke="#a0a0a0" stroke-width="1" stroke-dasharray="4 2" />
<line x1="120.5" y1="648.5" x2="1090.5" y2="648.5" stroke="#a0a0a0" stroke-width="1" stroke-dasharray="4 2" />
<line x1="120.5" y1="669.5" x2="1090.5" y2="669.5" stroke="#a0a0a0" stroke-width="1" stroke-dasharray="4 2" />
<line x1="120.5" y1="690.5" x2="1090.5" y2="690.5" stroke="#a0a0a0" stroke-width="1" stroke-dasharray="4 2" />
<line x1="175.5" y1="610.5" x2="175.5" y2="695.5" stroke="#a0a0a0" stroke-width="1" stroke-dasharray="4 2"/>
<line x1="273.7" y1="610.5" x2="273.7" y2="695.5" stroke="#a0a0a0" stroke-width="1" stroke-dasharray="4 2"/>
<line x1="371.9" y1="610.5" x2="371.9" y2="695.5" stroke="#a0a0a0" stroke-width="1" stroke-dasharray="4 2"/>
<line x1="470.1" y1="610.5" x2="470.1" y2="695.5" stroke="#a0a0a0" stroke-width="1" stroke-dasharray="4 2"/>
<line x1="568.3" y1="610.5" x2="568.3" y2="695.5" stroke="#a0a0a0" stroke-width="1" stroke-dasharray="4 2"/>
<line x1="666.5" y1="610.5" x2="666.5" y2="695.5" stroke="#a0a0a0" stroke-width="1" stroke-dasharray="4 2"/>
<line x1="764.7" y1="610.5" x2="764.7" y2="695.5" stroke="#a0a0a0" stroke-width="1" stroke-dasharray="4 2"/>
<line x1="862.9" y1="610.5" x2="862.9" y2="695.5" stroke="#a0a0a0" stroke-width="1" stroke-dasharray="4 2"/>
<line x1="961.1" y1="610.5" x2="961.1" y2="695.5" stroke="#a0a0a0" stroke-width="1" stroke-dasharray="4 2"/>
<line x1="1059.3" y1="610.5" x2="1059.3" y2="695.5" stroke="#a0a0a0" stroke-width="1" stroke-dasharray="4 2"/>
<g clip-path="url(#cWind)">
<path d="M126.1,652.5L107.0,636.4M107.0,636.4l-4.7,1.7M138.4,652.5L145.7,628.6M145.7,628.6l-3.4,-3.7M150.7,652.5L173.0,663.8M173.0,663.8l4.2,-2.7M163.0,652.5L185.8,662.7M185.8,662.7l4.0,-2.9M175.3,652.5L198.4,661.9M198.4,661.9l3.9,-3.1M187.5,652.5L210.2,663.1M210.2,663.1l4.1,-2.9M199.8,652.5L221.9,664.2M221.9,664.2l4.2,-2.6M212.1,652.5L189.4,641.9M189.4,641.9l-4.1,2.9M224.4,652.5L249.3,654.7M249.3,654.7l2.9,-4.1M236.6,652.5L236.6,627.5M236.6,627.5l-4.3,-2.5M248.9,652.5L271.6,663.1M271.6,663.1l4.1,-2.9M261.2,652.5L283.9,663.1M283.9,663.1l4.1,-2.9M273.5,652.5L296.1,663.1M296.1,663.1l4.1,-2.9M285.8,652.5L263.1,641.9M263.1,641.9l-4.1,2.9M298.0,652.5L321.5,661.1M321.5,661.1l3.8,-3.2M310.3,652.5L335.2,654.7M335.2,654.7l2.9,-4.1M322.6,652.5L299.4,643.1M299.4,643.1l-3.9,3.1M334.9,652.5L310.3,648.2M310.3,648.2l-3.2,3.8M347.2,652.5L371.8,656.8M371.8,656.8l3.2,-3.8M359.4,652.5L381.7,663.8M381.7,663.8l4.2,-2.7M371.7,652.5L393.8,664.2M393.8,664.2l4.2,-2.6M384.0,652.5L406.6,663.1M406.6,663.1l4.1,-2.9M396.3,652.5L389.8,628.4M389.8,628.4l-4.8,-1.3M408.5,652.5L430.2,665.0M430.2,665.0l4.3,-2.5M420.8,652.5L399.2,640.0M399.2,640.0l-4.3,2.5M433.1,652.5L410.8,641.2M410.8,641.2l-4.2,2.7M445.4,652.5L469.3,659.8M469.3,659.8l3.7,-3.4M457.7,652.5L480.3,663.1M480.3,663.1l4.1,-2.9M469.9,652.5L490.7,666.5M490.7,666.5l4.5,-2.2M482.2,652.5L504.3,664.2M504.3,664.2l4.2,-2.6M494.5,652.5L516.1,665.0M516.1,665.0l4.3,-2.5M506.8,652.5L485.1,640.0M485.1,640.0l-4.3,2.5M519.1,652.5L495.9,643.1M495.9,643.1l-3.9,3.1M531.3,652.5L553.0,665.0M553.0,665.0l4.3,-2.5M543.6,652.5L565.9,663.8M565.9,663.8l4.2,-2.7M555.9,652.5L577.5,665.0M577.5,665.0l4.3,-2.5M568.2,652.5L589.8,665.0M589.8,665.0l4.3,-2.5M580.4,652.5L603.1,663.1M603.1,663.1l4.1,-2.9M592.7,652.5L573.6,636.4M573.6,636.4l-4.7,1.7M605.0,652.5L629.6,656.8M629.6,656.8l3.2,-3.8M617.3,652.5L598.1,636.4M598.1,636.4l-4.7,1.7M629.6,652.5L653.0,661.1M653.0,661.1l3.8,-3.2M641.8,652.5L661.5,667.9M661.5,667.9l4.6,-1.9M654.1,652.5L675.8,665.0M675.8,665.0l4.3,-2.5M666.4,652.5L689.6,661.9M689.6,661.9l3.9,-3.1M678.7,652.5L701.3,663.1M701.3,663.1l4.1,-2.9M690.9,652.5L690.9,627.5M690.9,627.5l-4.3,-2.5M703.2,652.5L727.4,659.0M727.4,659.0l3.5,-3.5M715.5,652.5L693.9,640.0M693.9,640.0l-4.3,2.5M727.8,652.5L752.4,656.8M752.4,656.8l3.2,-3.8M740.1,652.5L762.3,663.8M762.3,663.8l4.2,-2.7M752.3,652.5L774.4,664.2M774.4,664.2l4.2,-2.6M764.6,652.5L786.9,663.8M786.9,663.8l4.2,-2.7M776.9,652.5L801.5,648.2M801.5,648.2l1.7,-4.7M789.2,652.5L812.7,661.1M812.7,661.1l3.8,-3.2M801.5,652.5L778.8,641.9M778.8,641.9l-4.1,2.9M813.7,652.5L806.0,676.3M806.0,676.3l3.3,3.7M826.0,652.5L816.6,675.7M816.6,675.7l3.1,3.9M838.3,652.5L863.3,653.8M863.3,653.8l2.7,-4.2M850.6,652.5L825.6,652.5M825.6,652.5l-2.5,4.3M862.8,652.5L887.8,654.7M887.8,654.7l2.9,-4.1M875.1,652.5L899.3,659.0M899.3,659.0l3.5,-3.5M887.4,652.5L875.7,630.4M875.7,630.4l-5.0,-0.2M899.7,652.5L924.3,656.8M924.3,656.8l3.2,-3.8M912.0,652.5L936.1,659.0M936.1,659.0l3.5,-3.5M924.2,652.5L899.6,648.2M899.6,648.2l-3.2,3.8M936.5,652.5L953.6,670.8M953.6,670.8l4.9,-1.1M948.8,652.5L967.9,668.6M967.9,668.6l4.7,-1.7M961.1,652.5L984.6,661.1M984.6,661.1l3.8,-3.2M973.4,652.5L997.7,658.1M997.7,658.1l3.4,-3.7M985.6,652.5L1009.8,659.0M1009.8,659.0l3.5,-3.5M997.9,652.5L1021.8,659.8M1021.8,659.8l3.7,-3.4M1010.2,652.5L1018.7,676.0M1018.7,676.0l4.9,0.9M1022.5,652.5L1041.6,668.6M1041.6,668.6l4.7,-1.7M1034.7,652.5L1054.7,667.5M1054.7,667.5l4.6,-2.0M1047.0,652.5L1066.7,667.9M1066.7,667.9l4.6,-1.9M1059.3,652.5L1081.4,664.2M1081.4,664.2l4.2,-2.6M1071.6,652.5L1094.8,661.9M1094.8,661.9l3.9,-3.1M1083.9,652.5L1106.5,663.1M1106.5,663.1l4.1,-2.9" stroke="#8c6e50" stroke-width="1" fill="none"/>
<polyline points="126.1,670.8 138.4,680.3 150.7,672.7 163,646 175.3,646.7 187.5,651.4 199.8,668 212.1,681.5 224.4,668.5 236.6,689.7 248.9,654.8 261.2,637.3 273.5,627.1 285.8,656.6 298,678.4 310.3,655.5 322.6,665.6 334.9,677.4 347.2,654.3 359.4,653.8 371.7,644.4 384,650.7 396.3,685 408.5,653.1 420.8,667.3 433.1,680.8 445.4,668.9 457.7,643.6 469.9,635.4 482.2,649.6 494.5,657.1 506.8,663.7 519.1,672.7 531.3,682.2 543.6,662.6 555.9,650.7 568.2,650.7 580.4,657.1 592.7,664.9 605,655.5 617.3,663.2 629.6,675.6 641.8,659 654.1,656.2 666.4,651.9 678.7,651.9 690.9,675.6 703.2,651.4 715.5,661.8 727.8,682.2 740.1,666.1 752.3,675.6 764.6,670.4 776.9,658.5 789.2,689.7 801.5,649.6 813.7,681.5 826,687.4 838.3,680.8 850.6,669.6 862.8,661.8 875.1,668.9 887.4,680.3 899.7,655.5 912,675.6 924.2,682.2 936.5,666.6 948.8,667.3 961.1,667.3 973.4,663.7 985.6,654.3 997.9,655.5 1010.2,682.2 1022.5,660.2 1034.7,616.5 1047,616.9 1059.3,625.9 1071.6,636.6 1083.9,651.4 1096.1,672" fill="none" stroke="#f5a028" stroke-width="1" stroke-linejoin="round" />
<path d="M126.1,666.8 L129.1,670.8 L126.1,674.8 L123.1,670.8 Z" fill="#fff" stroke="#f5a028" stroke-width="1"/>
<path d="M138.4,676.3 L141.4,680.3 L138.4,684.3 L135.4,680.3 Z" fill="#fff" stroke="#f5a028" stroke-width="1"/>
<path d="M150.7,668.7 L153.7,672.7 L150.7,676.7 L147.7,672.7 Z" fill="#fff" stroke="#f5a028" stroke-width="1"/>
<path d="M163,642 L166,646 L163,650 L160,646 Z" fill="#fff" stroke="#f5a028" stroke-width="1"/>
<path d="M175.3,642.7 L178.3,646.7 L175.3,650.7 L172.3,646.7 Z" fill="#fff" stroke="#f5a028" stroke-width="1"/>
<path d="M187.5,647.4 L190.5,651.4 L187.5,655.4 L184.5,651.4 Z" fill="#fff" stroke="#f5a028" stroke-width="1"/>
<path d="M199.8,664 L202.8,668 L199.8,672 L196.8,668 Z" fill="#fff" stroke="#f5a028" stroke-width="1"/>
<path d="M212.1,677.5 L215.1,681.5 L212.1,685.5 L209.1,681.5 Z" fill="#fff" stroke="#f5a028" stroke-width="1"/>
<path d="M224.4,664.5 L227.4,668.5 L224.4,672.5 L221.4,668.5 Z" fill="#fff" stroke="#f5a028" stroke-width="1"/>
<path d="M236.6,685.7 L239.6,689.7 L236.6,693.7 L233.6,689.7 Z" fill="#fff" stroke="#f5a028" stroke-width="1"/>
<path d="M248.9,650.8 L251.9,654.8 L248.9,658.8 L245.9,654.8 Z" fill="#fff" stroke="#f5a028" stroke-width="1"/>
<path d="M261.2,633.3 L264.2,637.3 L261.2,641.3 L258.2,637.3 Z" fill="#fff" stroke="#f5a028" stroke-width="1"/>
<path d="M273.5,623.1 L276.5,627.1 L273.5,631.1 L270.5,627.1 Z" fill="#fff" stroke="#f5a028" stroke-width="1"/>
<path d="M285.8,652.6 L288.8,656.6 L285.8,660.6 L282.8,656.6 Z" fill="#fff" stroke="#f5a028" stroke-width="1"/>
<path d="M298,674.4 L301,678.4 L298,682.4 L295,678.4 Z" fill="#fff" stroke="#f5a028" stroke-width="1"/>
<path d="M310.3,651.5 L313.3,655.5 L310.3,659.5 L307.3,655.5 Z" fill="#fff" stroke="#f5a028" stroke-width="1"/>
<path d="M322.6,661.6 L325.6,665.6 L322.6,669.6 L319.6,665.6 Z" fill="#fff" stroke="#f5a028" stroke-width="1"/>
<path d="M334.9,673.4 L337.9,677.4 L334.9,681.4 L331.9,677.4 Z" fill="#fff" stroke="#f5a028" stroke-width="1"/>
<path d="M347.2,650.3 L350.2,654.3 L347.2,658.3 L344.2,654.3 Z" fill="#fff" stroke="#f5a028" stroke-width="1"/>
<path d="M359.4,649.8 L362.4,653.8 L359.4,657.8 L356.4,653.8 Z" fill="#fff" stroke="#f5a028" stroke-width="1"/>
<path d="M371.7,640.4 L374.7,644.4 L371.7,648.4 L368.7,644.4 Z" fill="#fff" stroke="#f5a028" stroke-width="1"/>
<path d="M384,646.7 L387,650.7 L384,654.7 L381,650.7 Z" fill="#fff" stroke="#f5a028" stroke-width="1"/>
<path d="M396.3,681 L399.3,685 L396.3,689 L393.3,685 Z" fill="#fff" stroke="#f5a028" stroke-width="1"/>
<path d="M408.5,649.1 L411.5,653.1 L408.5,657.1 L405.5,653.1 Z" fill="#fff" stroke="#f5a028" stroke-width="1"/>
<path d="M420.8,663.3 L423.8,667.3 L420.8,671.3 L417.8,667.3 Z" fill="#fff" stroke="#f5a028" stroke-width="1"/>
<path d="M433.1,676.8 L436.1,680.8 L433.1,684.8 L430.1,680.8 Z" fill="#fff" stroke="#f5a028" stroke-width="1"/>
<path d="M445.4,664.9 L448.4,668.9 L445.4,672.9 L442.4,668.9 Z" fill="#fff" stroke="#f5a028" stroke-width="1"/>
<path d="M457.7,639.6 L460.7,643.6 L457.7,647.6 L454.7,643.6 Z" fill="#fff" stroke="#f5a028" stroke-width="1"/>
<path d="M469.9,631.4 L472.9,635.4 L469.9,639.4 L466.9,635.4 Z" fill="#fff" stroke="#f5a028" stroke-width="1"/>
<path d="M482.2,645.6 L485.2,649.6 L482.2,653.6 L479.2,649.6 Z" fill="#fff" stroke="#f5a028" stroke-width="1"/>
<path d="M494.5,653.1 L497.5,657.1 L494.5,661.1 L491.5,657.1 Z" fill="#fff" stroke="#f5a028" stroke-width="1"/>
<path d="M506.8,659.7 L509.8,663.7 L506.8,667.7 L503.8,663.7 Z" fill="#fff" stroke="#f5a028" stroke-width="1"/>
<path d="M519.1,668.7 L522.1,672.7 L519.1,676.7 L516.1,672.7 Z" fill="#fff" stroke="#f5a028" stroke-width="1"/>
<path d="M531.3,678.2 L534.3,682.2 L531.3,686.2 L528.3,682.2 Z" fill="#fff" stroke="#f5a028" stroke-width="1"/>
<path d="M543.6,658.6 L546.6,662.6 L543.6,666.6 L540.6,662.6 Z" fill="#fff" stroke="#f5a028" stroke-width="1"/>
<path d="M555.9,646.7 L558.9,650.7 L555.9,654.7 L552.9,650.7 Z" fill="#fff" stroke="#f5a028" stroke-width="1"/>
<path d="M568.2,646.7 L571.2,650.7 L568.2,654.7 L565.2,650.7 Z" fill="#fff" stroke="#f5a028" stroke-width="1"/>
<path d="M580.4,653.1 L583.4,657.1 L580.4,661.1 L577.4,657.1 Z" fill="#fff" stroke="#f5a028" stroke-width="1"/>
<path d="M592.7,660.9 L595.7,664.9 L592.7,668.9 L589.7,664.9 Z" fill="#fff" stroke="#f5a028" stroke-width="1"/>
<path d="M605,651.5 L608,655.5 L605,659.5 L602,655.5 Z" fill="#fff" stroke="#f5a028" stroke-width="1"/>
<path d="M617.3,659.2 L620.3,663.2 L617.3,667.2 L614.3,663.2 Z" fill="#fff" stroke="#f5a028" stroke-width="1"/>
<path d="M629.6,671.6 L632.6,675.6 L629.6,679.6 L626.6,675.6 Z" fill="#fff" stroke="#f5a028" stroke-width="1"/>
<path d="M641.8,655 L644.8,659 L641.8,663 L638.8,659 Z" fill="#fff" stroke="#f5a028" stroke-width="1"/>
<path d="M654.1,652.2 L657.1,656.2 L654.1,660.2 L651.1,656.2 Z" fill="#fff" stroke="#f5a028" stroke-width="1"/>
<path d="M666.4,647.9 L669.4,651.9 L666.4,655.9 L663.4,651.9 Z" fill="#fff" stroke="#f5a028" stroke-width="1"/>
<path d="M678.7,647.9 L681.7,651.9 L678.7,655.9 L675.7,651.9 Z" fill="#fff" stroke="#f5a028" stroke-width="1"/>
<path d="M690.9,671.6 L693.9,675.6 L690.9,679.6 L687.9,675.6 Z" fill="#fff" stroke="#f5a028" stroke-width="1"/>
<path d="M703.2,647.4 L706.2,651.4 L703.2,655.4 L700.2,651.4 Z" fill="#fff" stroke="#f5a028" stroke-width="1"/>
<path d="M715.5,657.8 L718.5,661.8 L715.5,665.8 L712.5,661.8 Z" fill="#fff" stroke="#f5a028" stroke-width="1"/>
<path d="M727.8,678.2 L730.8,682.2 L727.8,686.2 L724.8,682.2 Z" fill="#fff" stroke="#f5a028" stroke-width="1"/>
<path d="M740.1,662.1 L743.1,666.1 L740.1,670.1 L737.1,666.1 Z" fill="#fff" stroke="#f5a028" stroke-width="1"/>
<path d="M752.3,671.6 L755.3,675.6 L752.3,679.6 L749.3,675.6 Z" fill="#fff" stroke="#f5a028" stroke-width="1"/>
<path d="M764.6,666.4 L767.6,670.4 L764.6,674.4 L761.6,670.4 Z" fill="#fff" stroke="#f5a028" stroke-width="1"/>
<path d="M776.9,654.5 L779.9,658.5 L776.9,662.5 L773.9,658.5 Z" fill="#fff" stroke="#f5a028" stroke-width="1"/>
<path d="M789.2,685.7 L792.2,689.7 L789.2,693.7 L786.2,689.7 Z" fill="#fff" stroke="#f5a028" stroke-width="1"/>
<path d="M801.5,645.6 L804.5,649.6 L801.5,653.6 L798.5,649.6 Z" fill="#fff" stroke="#f5a028" stroke-width="1"/>
<path d="M813.7,677.5 L816.7,681.5 L813.7,685.5 L810.7,681.5 Z" fill="#fff" stroke="#f5a028" stroke-width="1"/>
<path d="M826,683.4 L829,687.4 L826,691.4 L823,687.4 Z" fill="#fff" stroke="#f5a028" stroke-width="1"/>
<path d="M838.3,676.8 L841.3,680.8 L838.3,684.8 L835.3,680.8 Z" fill="#fff" stroke="#f5a028" stroke-width="1"/>
<path d="M850.6,665.6 L853.6,669.6 L850.6,673.6 L847.6,669.6 Z" fill="#fff" stroke="#f5a028" stroke-width="1"/>
<path d="M862.8,657.8 L865.8,661.8 L862.8,665.8 L859.8,661.8 Z" fill="#fff" stroke="#f5a028" stroke-width="1"/>
<path d="M875.1,664.9 L878.1,668.9 L875.1,672.9 L872.1,668.9 Z" fill="#fff" stroke="#f5a028" stroke-width="1"/>
<path d="M887.4,676.3 L890.4,680.3 L887.4,684.3 L884.4,680.3 Z" fill="#fff" stroke="#f5a028" stroke-width="1"/>
<path d="M899.7,651.5 L902.7,655.5 L899.7,659.5 L896.7,655.5 Z" fill="#fff" stroke="#f5a028" stroke-width="1"/>
<path d="M912,671.6 L915,675.6 L912,679.6 L909,675.6 Z" fill="#fff" stroke="#f5a028" stroke-width="1"/>
<path d="M924.2,678.2 L927.2,682.2 L924.2,686.2 L921.2,682.2 Z" fill="#fff" stroke="#f5a028" stroke-width="1"/>
<path d="M936.5,662.6 L939.5,666.6 L936.5,670.6 L933.5,666.6 Z" fill="#fff" stroke="#f5a028" stroke-width="1"/>
<path d="M948.8,663.3 L951.8,667.3 L948.8,671.3 L945.8,667.3 Z" fill="#fff" stroke="#f5a028" stroke-width="1"/>
<path d="M961.1,663.3 L964.1,667.3 L961.1,671.3 L958.1,667.3 Z" fill="#fff" stroke="#f5a028" stroke-width="1"/>
<path d="M973.4,659.7 L976.4,663.7 L973.4,667.7 L970.4,663.7 Z" fill="#fff" stroke="#f5a028" stroke-width="1"/>
<path d="M985.6,650.3 L988.6,654.3 L985.6,658.3 L982.6,654.3 Z" fill="#fff" stroke="#f5a028" stroke-width="1"/>
<path d="M997.9,651.5 L1000.9,655.5 L997.9,659.5 L994.9,655.5 Z" fill="#fff" stroke="#f5a028" stroke-width="1"/>
<path d="M1010.2,678.2 L1013.2,682.2 L1010.2,686.2 L1007.2,682.2 Z" fill="#fff" stroke="#f5a028" stroke-width="1"/>
<path d="M1022.5,656.2 L1025.5,660.2 L1022.5,664.2 L1019.5,660.2 Z" fill="#fff" stroke="#f5a028" stroke-width="1"/>
<path d="M1034.7,612.5 L1037.7,616.5 L1034.7,620.5 L1031.7,616.5 Z" fill="#fff" stroke="#f5a028" stroke-width="1"/>
<path d="M1047,612.9 L1050,616.9 L1047,620.9 L1044,616.9 Z" fill="#fff" stroke="#f5a028" stroke-width="1"/>
<path d="M1059.3,621.9 L1062.3,625.9 L1059.3,629.9 L1056.3,625.9 Z" fill="#fff" stroke="#f5a028" stroke-width="1"/>
<path d="M1071.6,632.6 L1074.6,636.6 L1071.6,640.6 L1068.6,636.6 Z" fill="#fff" stroke="#f5a028" stroke-width="1"/>
<path d="M1083.9,647.4 L1086.9,651.4 L1083.9,655.4 L1080.9,651.4 Z" fill="#fff" stroke="#f5a028" stroke-width="1"/>
<path d="M1096.1,668 L1099.1,672 L1096.1,676 L1093.1,672 Z" fill="#fff" stroke="#f5a028" stroke-width="1"/>
</g>
<g clip-path="url(#cTemp)">
<clipPath id="cTfill"><polygon points="126.1,715.6 138.4,717.5 150.7,723.9 163,723.4 175.3,727 187.5,731.7 199.8,718.5 212.1,709.7 224.4,718.5 236.6,726.3 248.9,720.8 261.2,722.7 273.5,727.9 285.8,731 298,717.5 310.3,715.2 322.6,715.2 334.9,715.6 347.2,722.3 359.4,725.6 371.7,728.6 384,731 396.3,716.8 408.5,718.5 420.8,715.2 433.1,716.1 445.4,723.9 457.7,727 469.9,727.9 482.2,729.4 494.5,718 506.8,710.9 519.1,715.6 531.3,719.2 543.6,722.3 555.9,724.6 568.2,730.3 580.4,734.6 592.7,720.8 605,714.3 617.3,714 629.6,719.9 641.8,725.1 654.1,727 666.4,731.5 678.7,735.7 690.9,720.4 703.2,718.5 715.5,715.6 727.8,719.2 740.1,725.1 752.3,727 764.6,731 776.9,735 789.2,715.6 801.5,718.5 813.7,721.6 826,718.5 838.3,725.6 850.6,727 862.8,730.6 875.1,732.2 887.4,720.4 899.7,715.6 912,718.5 924.2,715.6 936.5,719.7 948.8,719.7 961.1,726.3 973.4,729.8 985.6,716.8 997.9,706.2 1010.2,705 1022.5,708.5 1034.7,717.5 1047,722.7 1059.3,729.4 1071.6,735 1083.9,725.8 1083.9,781 126.1,781"/></clipPath>
<g clip-path="url(#cTfill)">
<rect x="120" y="695" width="971" height="20.5" fill="#ff6e00"/>
<rect x="120" y="715.5" width="971" height="10" fill="#ffb43c"/>
<rect x="120" y="725.5" width="971" height="10" fill="#f5f573"/>
<rect x="120" y="735.5" width="971" height="10" fill="#50f050"/>
<rect x="120" y="745.5" width="971" height="10" fill="#28be28"/>
<rect x="120" y="755.5" width="971" height="10" fill="#2882f0"/>
<rect x="120" y="765.5" width="971" height="10" fill="#50a5f5"/>
<rect x="120" y="775.5" width="971" height="5.5" fill="#96d2fa"/>
</g>
</g>
<line x1="120.5" y1="705.5" x2="1090.5" y2="705.5" stroke="#a0a0a0" stroke-width="1" stroke-dasharray="4 2" />
<line x1="120.5" y1="725.5" x2="1090.5" y2="725.5" stroke="#a0a0a0" stroke-width="1" stroke-dasharray="4 2" />
<line x1="120.5" y1="745.5" x2="1090.5" y2="745.5" stroke="#a0a0a0" stroke-width="1" stroke-dasharray="4 2" />
<line x1="120.5" y1="765.5" x2="1090.5" y2="765.5" stroke="#a0a0a0" stroke-width="1" stroke-dasharray="4 2" />
<line x1="175.5" y1="695.5" x2="175.5" y2="780.5" stroke="#a0a0a0" stroke-width="1" stroke-dasharray="4 2"/>
<line x1="273.7" y1="695.5" x2="273.7" y2="780.5" stroke="#a0a0a0" stroke-width="1" stroke-dasharray="4 2"/>
<line x1="371.9" y1="695.5" x2="371.9" y2="780.5" stroke="#a0a0a0" stroke-width="1" stroke-dasharray="4 2"/>
<line x1="470.1" y1="695.5" x2="470.1" y2="780.5" stroke="#a0a0a0" stroke-width="1" stroke-dasharray="4 2"/>
<line x1="568.3" y1="695.5" x2="568.3" y2="780.5" stroke="#a0a0a0" stroke-width="1" stroke-dasharray="4 2"/>
<line x1="666.5" y1="695.5" x2="666.5" y2="780.5" stroke="#a0a0a0" stroke-width="1" stroke-dasharray="4 2"/>
<line x1="764.7" y1="695.5" x2="764.7" y2="780.5" stroke="#a0a0a0" stroke-width="1" stroke-dasharray="4 2"/>
<line x1="862.9" y1="695.5" x2="862.9" y2="780.5" stroke="#a0a0a0" stroke-width="1" stroke-dasharray="4 2"/>
<line x1="961.1" y1="695.5" x2="961.1" y2="780.5" stroke="#a0a0a0" stroke-width="1" stroke-dasharray="4 2"/>
<line x1="1059.3" y1="695.5" x2="1059.3" y2="780.5" stroke="#a0a0a0" stroke-width="1" stroke-dasharray="4 2"/>
<g clip-path="url(#cTemp)">
<polyline points="126.1,763.6 138.4,764.6 150.7,764.8 163,763.4 175.3,758.2 187.5,756.3 199.8,755.1 212.1,762.9 224.4,758.7 236.6,757 248.9,769.5 261.2,765.3 273.5,761.7 285.8,760.6 298,760.6 310.3,762.4 322.6,762.9 334.9,766.5 347.2,771.9 359.4,765.8 371.7,762.9 384,762.2 396.3,762.2 408.5,766.5 420.8,766.5 433.1,767.2 445.4,766.5 457.7,770.5 469.9,767.2 482.2,762.9 494.5,768.1 506.8,768.8 519.1,764.6 531.3,763.4 543.6,774.3 555.9,772.4 568.2,768.1 580.4,767.6 592.7,767.2 605,768.8 617.3,768.8 629.6,768.8 641.8,768.8 654.1,772.9 666.4,771.2 678.7,768.8 690.9,765.3 703.2,766.5 715.5,769.5 727.8,766.5 740.1,767.6 752.3,768.1 764.6,768.1 776.9,767.2 789.2,760.6 801.5,761 813.7,755.1 826,753.9 838.3,754.2 850.6,753.9 862.8,756 875.1,755.4 887.4,753.9 899.7,755.1 912,753.9 924.2,755.1 936.5,755.1 948.8,759.4 961.1,763.4 973.4,762.4 985.6,761 997.9,760.6 1010.2,762.9 1022.5,766.5 1034.7,761.7 1047,757 1059.3,753.5 1071.6,751.1 1083.9,752.3" fill="none" stroke="#fff" stroke-width="1.8" stroke-linejoin="round" />
<polyline points="126.1,763.6 138.4,764.6 150.7,764.8 163,763.4 175.3,758.2 187.5,756.3 199.8,755.1 212.1,762.9 224.4,758.7 236.6,757 248.9,769.5 261.2,765.3 273.5,761.7 285.8,760.6 298,760.6 310.3,762.4 322.6,762.9 334.9,766.5 347.2,771.9 359.4,765.8 371.7,762.9 384,762.2 396.3,762.2 408.5,766.5 420.8,766.5 433.1,767.2 445.4,766.5 457.7,770.5 469.9,767.2 482.2,762.9 494.5,768.1 506.8,768.8 519.1,764.6 531.3,763.4 543.6,774.3 555.9,772.4 568.2,768.1 580.4,767.6 592.7,767.2 605,768.8 617.3,768.8 629.6,768.8 641.8,768.8 654.1,772.9 666.4,771.2 678.7,768.8 690.9,765.3 703.2,766.5 715.5,769.5 727.8,766.5 740.1,767.6 752.3,768.1 764.6,768.1 776.9,767.2 789.2,760.6 801.5,761 813.7,755.1 826,753.9 838.3,754.2 850.6,753.9 862.8,756 875.1,755.4 887.4,753.9 899.7,755.1 912,753.9 924.2,755.1 936.5,755.1 948.8,759.4 961.1,763.4 973.4,762.4 985.6,761 997.9,760.6 1010.2,762.9 1022.5,766.5 1034.7,761.7 1047,757 1059.3,753.5 1071.6,751.1 1083.9,752.3" fill="none" stroke="#96502d" stroke-width="1.8" stroke-linejoin="round" stroke-dasharray="3.5 2.5"/>
<path d="M150.7,712.6 V729.4 M147.7,712.6 H153.7 M147.7,729.4 H153.7" stroke="#6e3c32" stroke-width="1" fill="none"/>
<path d="M175.3,723.4 V727.5 M172.3,723.4 H178.3 M172.3,727.5 H178.3" stroke="#6e3c32" stroke-width="1" fill="none"/>
<path d="M199.8,719.2 V732.2 M196.8,719.2 H202.8 M196.8,732.2 H202.8" stroke="#6e3c32" stroke-width="1" fill="none"/>
<path d="M224.4,704.3 V723.9 M221.4,704.3 H227.4 M221.4,723.9 H227.4" stroke="#6e3c32" stroke-width="1" fill="none"/>
<path d="M248.9,713.7 V733.4 M245.9,713.7 H251.9 M245.9,733.4 H251.9" stroke="#6e3c32" stroke-width="1" fill="none"/>
<path d="M273.5,720.4 V725 M270.5,720.4 H276.5 M270.5,725 H276.5" stroke="#6e3c32" stroke-width="1" fill="none"/>
<path d="M298,717.3 V733.4 M295,717.3 H301 M295,733.4 H301" stroke="#6e3c32" stroke-width="1" fill="none"/>
<path d="M322.6,708.5 V721.6 M319.6,708.5 H325.6 M319.6,721.6 H325.6" stroke="#6e3c32" stroke-width="1" fill="none"/>
<path d="M347.2,711.4 V729.1 M344.2,711.4 H350.2 M344.2,729.1 H350.2" stroke="#6e3c32" stroke-width="1" fill="none"/>
<path d="M371.7,721.6 V725.1 M368.7,721.6 H374.7 M368.7,725.1 H374.7" stroke="#6e3c32" stroke-width="1" fill="none"/>
<path d="M396.3,716.8 V732.2 M393.3,716.8 H399.3 M393.3,732.2 H399.3" stroke="#6e3c32" stroke-width="1" fill="none"/>
<path d="M420.8,711.4 V721.6 M417.8,711.4 H423.8 M417.8,721.6 H423.8" stroke="#6e3c32" stroke-width="1" fill="none"/>
<path d="M445.4,709.3 V729.4 M442.4,709.3 H448.4 M442.4,729.4 H448.4" stroke="#6e3c32" stroke-width="1" fill="none"/>
<path d="M469.9,722.3 V725.5 M466.9,722.3 H472.9 M466.9,725.5 H472.9" stroke="#6e3c32" stroke-width="1" fill="none"/>
<path d="M494.5,718 V731 M491.5,718 H497.5 M491.5,731 H497.5" stroke="#6e3c32" stroke-width="1" fill="none"/>
<path d="M519.1,703.3 V723.9 M516.1,703.3 H522.1 M516.1,723.9 H522.1" stroke="#6e3c32" stroke-width="1" fill="none"/>
<path d="M543.6,712.6 V731 M540.6,712.6 H546.6 M540.6,731 H546.6" stroke="#6e3c32" stroke-width="1" fill="none"/>
<path d="M568.2,723.4 V726 M565.2,723.4 H571.2 M565.2,726 H571.2" stroke="#6e3c32" stroke-width="1" fill="none"/>
<path d="M592.7,719.9 V736.9 M589.7,719.9 H595.7 M589.7,736.9 H595.7" stroke="#6e3c32" stroke-width="1" fill="none"/>
<path d="M617.3,708.5 V724.2 M614.3,708.5 H620.3 M614.3,724.2 H620.3" stroke="#6e3c32" stroke-width="1" fill="none"/>
<path d="M641.8,710.4 V731 M638.8,710.4 H644.8 M638.8,731 H644.8" stroke="#6e3c32" stroke-width="1" fill="none"/>
<path d="M666.4,724.4 V726.5 M663.4,724.4 H669.4 M663.4,726.5 H669.4" stroke="#6e3c32" stroke-width="1" fill="none"/>
<path d="M690.9,720.4 V736.9 M687.9,720.4 H693.9 M687.9,736.9 H693.9" stroke="#6e3c32" stroke-width="1" fill="none"/>
<path d="M715.5,712.6 V723.9 M712.5,712.6 H718.5 M712.5,723.9 H718.5" stroke="#6e3c32" stroke-width="1" fill="none"/>
<path d="M740.1,711.4 V731 M737.1,711.4 H743.1 M737.1,731 H743.1" stroke="#6e3c32" stroke-width="1" fill="none"/>
<path d="M764.6,723.5 V726 M761.6,723.5 H767.6 M761.6,726 H767.6" stroke="#6e3c32" stroke-width="1" fill="none"/>
<path d="M789.2,715.6 V735 M786.2,715.6 H792.2 M786.2,735 H792.2" stroke="#6e3c32" stroke-width="1" fill="none"/>
<path d="M813.7,710.2 V724.6 M810.7,710.2 H816.7 M810.7,724.6 H816.7" stroke="#6e3c32" stroke-width="1" fill="none"/>
<path d="M838.3,717.3 V728.6 M835.3,717.3 H841.3 M835.3,728.6 H841.3" stroke="#6e3c32" stroke-width="1" fill="none"/>
<path d="M862.8,723.5 V726.5 M859.8,723.5 H865.8 M859.8,726.5 H865.8" stroke="#6e3c32" stroke-width="1" fill="none"/>
<path d="M887.4,719.9 V733.4 M884.4,719.9 H890.4 M884.4,733.4 H890.4" stroke="#6e3c32" stroke-width="1" fill="none"/>
<path d="M912,709.3 V724.6 M909,709.3 H915 M909,724.6 H915" stroke="#6e3c32" stroke-width="1" fill="none"/>
<path d="M936.5,709.3 V726.3 M933.5,709.3 H939.5 M933.5,726.3 H939.5" stroke="#6e3c32" stroke-width="1" fill="none"/>
<path d="M961.1,719.2 V727.5 M958.1,719.2 H964.1 M958.1,727.5 H964.1" stroke="#6e3c32" stroke-width="1" fill="none"/>
<path d="M985.6,716.8 V732.2 M982.6,716.8 H988.6 M982.6,732.2 H988.6" stroke="#6e3c32" stroke-width="1" fill="none"/>
<path d="M1010.2,701.5 V719.2 M1007.2,701.5 H1013.2 M1007.2,719.2 H1013.2" stroke="#6e3c32" stroke-width="1" fill="none"/>
<path d="M1034.7,702.2 V723.2 M1031.7,702.2 H1037.7 M1031.7,723.2 H1037.7" stroke="#6e3c32" stroke-width="1" fill="none"/>
<path d="M1059.3,719.2 V726 M1056.3,719.2 H1062.3 M1056.3,726 H1062.3" stroke="#6e3c32" stroke-width="1" fill="none"/>
<path d="M1083.9,724.4 V736.4 M1080.9,724.4 H1086.9 M1080.9,736.4 H1086.9" stroke="#6e3c32" stroke-width="1" fill="none"/>
<polyline points="126.1,715.6 138.4,717.5 150.7,723.9 163,723.4 175.3,727 187.5,731.7 199.8,718.5 212.1,709.7 224.4,718.5 236.6,726.3 248.9,720.8 261.2,722.7 273.5,727.9 285.8,731 298,717.5 310.3,715.2 322.6,715.2 334.9,715.6 347.2,722.3 359.4,725.6 371.7,728.6 384,731 396.3,716.8 408.5,718.5 420.8,715.2 433.1,716.1 445.4,723.9 457.7,727 469.9,727.9 482.2,729.4 494.5,718 506.8,710.9 519.1,715.6 531.3,719.2 543.6,722.3 555.9,724.6 568.2,730.3 580.4,734.6 592.7,720.8 605,714.3 617.3,714 629.6,719.9 641.8,725.1 654.1,727 666.4,731.5 678.7,735.7 690.9,720.4 703.2,718.5 715.5,715.6 727.8,719.2 740.1,725.1 752.3,727 764.6,731 776.9,735 789.2,715.6 801.5,718.5 813.7,721.6 826,718.5 838.3,725.6 850.6,727 862.8,730.6 875.1,732.2 887.4,720.4 899.7,715.6 912,718.5 924.2,715.6 936.5,719.7 948.8,719.7 961.1,726.3 973.4,729.8 985.6,716.8 997.9,706.2 1010.2,705 1022.5,708.5 1034.7,717.5 1047,722.7 1059.3,729.4 1071.6,735 1083.9,725.8" fill="none" stroke="#6e3c32" stroke-width="2" stroke-linejoin="round" />
</g>
<g clip-path="url(#cRh)">
<clipPath id="cRfill"><polygon points="126.1,840.4 138.4,838 150.7,838 163,838 175.3,822.4 187.5,810.1 199.8,828.5 212.1,846.7 224.4,824.3 236.6,819.1 248.9,847.9 261.2,842 273.5,827.4 285.8,819.6 298,838 310.3,841.3 322.6,839.6 334.9,848.6 347.2,849.6 359.4,838 371.7,828.5 384,821.4 396.3,842.5 408.5,844.4 420.8,846.3 433.1,851.9 445.4,839.6 457.7,845.6 469.9,837.3 482.2,827.1 494.5,850.3 506.8,853.1 519.1,838 531.3,838.9 543.6,852.2 555.9,849.1 568.2,834.9 580.4,827.8 592.7,845.1 605,852.2 617.3,852.2 629.6,850.3 641.8,844.4 654.1,847.2 666.4,839.6 678.7,828.5 690.9,842.5 703.2,843.9 715.5,846.7 727.8,847.4 740.1,842.7 752.3,839.6 764.6,833.7 776.9,826.6 789.2,839.6 801.5,834.2 813.7,821.2 826,826.6 838.3,814.4 850.6,812.5 862.8,807.3 875.1,805.8 887.4,825.9 899.7,825.5 912,826.2 924.2,833 936.5,826.6 948.8,835.6 961.1,831.8 973.4,826.6 985.6,841.3 997.9,850.8 1010.2,843.9 1022.5,850.8 1034.7,842.7 1047,823.8 1059.3,804.7 1071.6,785.7 1083.9,812.9 1083.9,866 126.1,866"/></clipPath>
<g clip-path="url(#cRfill)">
<rect x="120" y="780" width="971" height="17.4" fill="#00e100"/>
<rect x="120" y="797.4" width="971" height="17" fill="#50e650"/>
<rect x="120" y="814.4" width="971" height="17" fill="#78d278"/>
<rect x="120" y="831.4" width="971" height="17" fill="#a0cca0"/>
<rect x="120" y="848.4" width="971" height="17.6" fill="#c8d8c8"/>
</g>
</g>
<line x1="120.5" y1="814.5" x2="1090.5" y2="814.5" stroke="#a0a0a0" stroke-width="1" stroke-dasharray="4 2" />
<line x1="120.5" y1="848.5" x2="1090.5" y2="848.5" stroke="#a0a0a0" stroke-width="1" stroke-dasharray="4 2" />
<line x1="175.5" y1="780.5" x2="175.5" y2="865.5" stroke="#a0a0a0" stroke-width="1" stroke-dasharray="4 2"/>
<line x1="273.7" y1="780.5" x2="273.7" y2="865.5" stroke="#a0a0a0" stroke-width="1" stroke-dasharray="4 2"/>
<line x1="371.9" y1="780.5" x2="371.9" y2="865.5" stroke="#a0a0a0" stroke-width="1" stroke-dasharray="4 2"/>
<line x1="470.1" y1="780.5" x2="470.1" y2="865.5" stroke="#a0a0a0" stroke-width="1" stroke-dasharray="4 2"/>
<line x1="568.3" y1="780.5" x2="568.3" y2="865.5" stroke="#a0a0a0" stroke-width="1" stroke-dasharray="4 2"/>
<line x1="666.5" y1="780.5" x2="666.5" y2="865.5" stroke="#a0a0a0" stroke-width="1" stroke-dasharray="4 2"/>
<line x1="764.7" y1="780.5" x2="764.7" y2="865.5" stroke="#a0a0a0" stroke-width="1" stroke-dasharray="4 2"/>
<line x1="862.9" y1="780.5" x2="862.9" y2="865.5" stroke="#a0a0a0" stroke-width="1" stroke-dasharray="4 2"/>
<line x1="961.1" y1="780.5" x2="961.1" y2="865.5" stroke="#a0a0a0" stroke-width="1" stroke-dasharray="4 2"/>
<line x1="1059.3" y1="780.5" x2="1059.3" y2="865.5" stroke="#a0a0a0" stroke-width="1" stroke-dasharray="4 2"/>
<g clip-path="url(#cRh)">
<polyline points="126.1,840.4 138.4,838 150.7,838 163,838 175.3,822.4 187.5,810.1 199.8,828.5 212.1,846.7 224.4,824.3 236.6,819.1 248.9,847.9 261.2,842 273.5,827.4 285.8,819.6 298,838 310.3,841.3 322.6,839.6 334.9,848.6 347.2,849.6 359.4,838 371.7,828.5 384,821.4 396.3,842.5 408.5,844.4 420.8,846.3 433.1,851.9 445.4,839.6 457.7,845.6 469.9,837.3 482.2,827.1 494.5,850.3 506.8,853.1 519.1,838 531.3,838.9 543.6,852.2 555.9,849.1 568.2,834.9 580.4,827.8 592.7,845.1 605,852.2 617.3,852.2 629.6,850.3 641.8,844.4 654.1,847.2 666.4,839.6 678.7,828.5 690.9,842.5 703.2,843.9 715.5,846.7 727.8,847.4 740.1,842.7 752.3,839.6 764.6,833.7 776.9,826.6 789.2,839.6 801.5,834.2 813.7,821.2 826,826.6 838.3,814.4 850.6,812.5 862.8,807.3 875.1,805.8 887.4,825.9 899.7,825.5 912,826.2 924.2,833 936.5,826.6 948.8,835.6 961.1,831.8 973.4,826.6 985.6,841.3 997.9,850.8 1010.2,843.9 1022.5,850.8 1034.7,842.7 1047,823.8 1059.3,804.7 1071.6,785.7 1083.9,812.9" fill="none" stroke="#1e961e" stroke-width="1" stroke-linejoin="round" />
<circle cx="126.1" cy="840.4" r="2.6" fill="#fff" stroke="#1e961e" stroke-width="1"/>
<circle cx="138.4" cy="838" r="2.6" fill="#fff" stroke="#1e961e" stroke-width="1"/>
<circle cx="150.7" cy="838" r="2.6" fill="#fff" stroke="#1e961e" stroke-width="1"/>
<circle cx="163" cy="838" r="2.6" fill="#fff" stroke="#1e961e" stroke-width="1"/>
<circle cx="175.3" cy="822.4" r="2.6" fill="#fff" stroke="#1e961e" stroke-width="1"/>
<circle cx="187.5" cy="810.1" r="2.6" fill="#fff" stroke="#1e961e" stroke-width="1"/>
<circle cx="199.8" cy="828.5" r="2.6" fill="#fff" stroke="#1e961e" stroke-width="1"/>
<circle cx="212.1" cy="846.7" r="2.6" fill="#fff" stroke="#1e961e" stroke-width="1"/>
<circle cx="224.4" cy="824.3" r="2.6" fill="#fff" stroke="#1e961e" stroke-width="1"/>
<circle cx="236.6" cy="819.1" r="2.6" fill="#fff" stroke="#1e961e" stroke-width="1"/>
<circle cx="248.9" cy="847.9" r="2.6" fill="#fff" stroke="#1e961e" stroke-width="1"/>
<circle cx="261.2" cy="842" r="2.6" fill="#fff" stroke="#1e961e" stroke-width="1"/>
<circle cx="273.5" cy="827.4" r="2.6" fill="#fff" stroke="#1e961e" stroke-width="1"/>
<circle cx="285.8" cy="819.6" r="2.6" fill="#fff" stroke="#1e961e" stroke-width="1"/>
<circle cx="298" cy="838" r="2.6" fill="#fff" stroke="#1e961e" stroke-width="1"/>
<circle cx="310.3" cy="841.3" r="2.6" fill="#fff" stroke="#1e961e" stroke-width="1"/>
<circle cx="322.6" cy="839.6" r="2.6" fill="#fff" stroke="#1e961e" stroke-width="1"/>
<circle cx="334.9" cy="848.6" r="2.6" fill="#fff" stroke="#1e961e" stroke-width="1"/>
<circle cx="347.2" cy="849.6" r="2.6" fill="#fff" stroke="#1e961e" stroke-width="1"/>
<circle cx="359.4" cy="838" r="2.6" fill="#fff" stroke="#1e961e" stroke-width="1"/>
<circle cx="371.7" cy="828.5" r="2.6" fill="#fff" stroke="#1e961e" stroke-width="1"/>
<circle cx="384" cy="821.4" r="2.6" fill="#fff" stroke="#1e961e" stroke-width="1"/>
<circle cx="396.3" cy="842.5" r="2.6" fill="#fff" stroke="#1e961e" stroke-width="1"/>
<circle cx="408.5" cy="844.4" r="2.6" fill="#fff" stroke="#1e961e" stroke-width="1"/>
<circle cx="420.8" cy="846.3" r="2.6" fill="#fff" stroke="#1e961e" stroke-width="1"/>
<circle cx="433.1" cy="851.9" r="2.6" fill="#fff" stroke="#1e961e" stroke-width="1"/>
<circle cx="445.4" cy="839.6" r="2.6" fill="#fff" stroke="#1e961e" stroke-width="1"/>
<circle cx="457.7" cy="845.6" r="2.6" fill="#fff" stroke="#1e961e" stroke-width="1"/>
<circle cx="469.9" cy="837.3" r="2.6" fill="#fff" stroke="#1e961e" stroke-width="1"/>
<circle cx="482.2" cy="827.1" r="2.6" fill="#fff" stroke="#1e961e" stroke-width="1"/>
<circle cx="494.5" cy="850.3" r="2.6" fill="#fff" stroke="#1e961e" stroke-width="1"/>
<circle cx="506.8" cy="853.1" r="2.6" fill="#fff" stroke="#1e961e" stroke-width="1"/>
<circle cx="519.1" cy="838" r="2.6" fill="#fff" stroke="#1e961e" stroke-width="1"/>
<circle cx="531.3" cy="838.9" r="2.6" fill="#fff" stroke="#1e961e" stroke-width="1"/>
<circle cx="543.6" cy="852.2" r="2.6" fill="#fff" stroke="#1e961e" stroke-width="1"/>
<circle cx="555.9" cy="849.1" r="2.6" fill="#fff" stroke="#1e961e" stroke-width="1"/>
<circle cx="568.2" cy="834.9" r="2.6" fill="#fff" stroke="#1e961e" stroke-width="1"/>
<circle cx="580.4" cy="827.8" r="2.6" fill="#fff" stroke="#1e961e" stroke-width="1"/>
<circle cx="592.7" cy="845.1" r="2.6" fill="#fff" stroke="#1e961e" stroke-width="1"/>
<circle cx="605" cy="852.2" r="2.6" fill="#fff" stroke="#1e961e" stroke-width="1"/>
<circle cx="617.3" cy="852.2" r="2.6" fill="#fff" stroke="#1e961e" stroke-width="1"/>
<circle cx="629.6" cy="850.3" r="2.6" fill="#fff" stroke="#1e961e" stroke-width="1"/>
<circle cx="641.8" cy="844.4" r="2.6" fill="#fff" stroke="#1e961e" stroke-width="1"/>
<circle cx="654.1" cy="847.2" r="2.6" fill="#fff" stroke="#1e961e" stroke-width="1"/>
<circle cx="666.4" cy="839.6" r="2.6" fill="#fff" stroke="#1e961e" stroke-width="1"/>
<circle cx="678.7" cy="828.5" r="2.6" fill="#fff" stroke="#1e961e" stroke-width="1"/>
<circle cx="690.9" cy="842.5" r="2.6" fill="#fff" stroke="#1e961e" stroke-width="1"/>
<circle cx="703.2" cy="843.9" r="2.6" fill="#fff" stroke="#1e961e" stroke-width="1"/>
<circle cx="715.5" cy="846.7" r="2.6" fill="#fff" stroke="#1e961e" stroke-width="1"/>
<circle cx="727.8" cy="847.4" r="2.6" fill="#fff" stroke="#1e961e" stroke-width="1"/>
<circle cx="740.1" cy="842.7" r="2.6" fill="#fff" stroke="#1e961e" stroke-width="1"/>
<circle cx="752.3" cy="839.6" r="2.6" fill="#fff" stroke="#1e961e" stroke-width="1"/>
<circle cx="764.6" cy="833.7" r="2.6" fill="#fff" stroke="#1e961e" stroke-width="1"/>
<circle cx="776.9" cy="826.6" r="2.6" fill="#fff" stroke="#1e961e" stroke-width="1"/>
<circle cx="789.2" cy="839.6" r="2.6" fill="#fff" stroke="#1e961e" stroke-width="1"/>
<circle cx="801.5" cy="834.2" r="2.6" fill="#fff" stroke="#1e961e" stroke-width="1"/>
<circle cx="813.7" cy="821.2" r="2.6" fill="#fff" stroke="#1e961e" stroke-width="1"/>
<circle cx="826" cy="826.6" r="2.6" fill="#fff" stroke="#1e961e" stroke-width="1"/>
<circle cx="838.3" cy="814.4" r="2.6" fill="#fff" stroke="#1e961e" stroke-width="1"/>
<circle cx="850.6" cy="812.5" r="2.6" fill="#fff" stroke="#1e961e" stroke-width="1"/>
<circle cx="862.8" cy="807.3" r="2.6" fill="#fff" stroke="#1e961e" stroke-width="1"/>
<circle cx="875.1" cy="805.8" r="2.6" fill="#fff" stroke="#1e961e" stroke-width="1"/>
<circle cx="887.4" cy="825.9" r="2.6" fill="#fff" stroke="#1e961e" stroke-width="1"/>
<circle cx="899.7" cy="825.5" r="2.6" fill="#fff" stroke="#1e961e" stroke-width="1"/>
<circle cx="912" cy="826.2" r="2.6" fill="#fff" stroke="#1e961e" stroke-width="1"/>
<circle cx="924.2" cy="833" r="2.6" fill="#fff" stroke="#1e961e" stroke-width="1"/>
<circle cx="936.5" cy="826.6" r="2.6" fill="#fff" stroke="#1e961e" stroke-width="1"/>
<circle cx="948.8" cy="835.6" r="2.6" fill="#fff" stroke="#1e961e" stroke-width="1"/>
<circle cx="961.1" cy="831.8" r="2.6" fill="#fff" stroke="#1e961e" stroke-width="1"/>
<circle cx="973.4" cy="826.6" r="2.6" fill="#fff" stroke="#1e961e" stroke-width="1"/>
<circle cx="985.6" cy="841.3" r="2.6" fill="#fff" stroke="#1e961e" stroke-width="1"/>
<circle cx="997.9" cy="850.8" r="2.6" fill="#fff" stroke="#1e961e" stroke-width="1"/>
<circle cx="1010.2" cy="843.9" r="2.6" fill="#fff" stroke="#1e961e" stroke-width="1"/>
<circle cx="1022.5" cy="850.8" r="2.6" fill="#fff" stroke="#1e961e" stroke-width="1"/>
<circle cx="1034.7" cy="842.7" r="2.6" fill="#fff" stroke="#1e961e" stroke-width="1"/>
<circle cx="1047" cy="823.8" r="2.6" fill="#fff" stroke="#1e961e" stroke-width="1"/>
<circle cx="1059.3" cy="804.7" r="2.6" fill="#fff" stroke="#1e961e" stroke-width="1"/>
<circle cx="1071.6" cy="785.7" r="2.6" fill="#fff" stroke="#1e961e" stroke-width="1"/>
<circle cx="1083.9" cy="812.9" r="2.6" fill="#fff" stroke="#1e961e" stroke-width="1"/>
</g>
<rect x="132.3" y="866" width="958.2" height="84" fill="#6aaad6"/>
<rect x="132.3" y="866.5" width="12.6" height="27" fill="#f8f4fa" shape-rendering="crispEdges"/>
<rect x="144.6" y="866.5" width="12.6" height="27" fill="#f8f4fa" shape-rendering="crispEdges"/>
<rect x="156.9" y="866.5" width="12.6" height="27" fill="#f8f4fa" shape-rendering="crispEdges"/>
<rect x="169.1" y="866.5" width="12.6" height="27" fill="#f8f4fa" shape-rendering="crispEdges"/>
<rect x="181.4" y="866.5" width="12.6" height="27" fill="#f8f4fa" shape-rendering="crispEdges"/>
<rect x="193.7" y="880.8" width="12.6" height="12.7" fill="#f8f4fa" shape-rendering="crispEdges"/>
<rect x="206" y="866.5" width="12.6" height="27" fill="#f8f4fa" shape-rendering="crispEdges"/>
<rect x="218.2" y="866.5" width="12.6" height="27" fill="#f8f4fa" shape-rendering="crispEdges"/>
<rect x="230.5" y="888.8" width="12.6" height="4.7" fill="#f8f4fa" shape-rendering="crispEdges"/>
<rect x="255.1" y="890.7" width="12.6" height="2.8" fill="#f8f4fa" shape-rendering="crispEdges"/>
<rect x="267.4" y="871.8" width="12.6" height="21.7" fill="#f8f4fa" shape-rendering="crispEdges"/>
<rect x="279.6" y="868.3" width="12.6" height="25.2" fill="#f8f4fa" shape-rendering="crispEdges"/>
<rect x="291.9" y="890" width="12.6" height="3.5" fill="#f8f4fa" shape-rendering="crispEdges"/>
<rect x="316.5" y="890.7" width="12.6" height="2.8" fill="#f8f4fa" shape-rendering="crispEdges"/>
<rect x="341" y="890.7" width="12.6" height="2.8" fill="#f8f4fa" shape-rendering="crispEdges"/>
<rect x="365.6" y="871.8" width="12.6" height="21.7" fill="#f8f4fa" shape-rendering="crispEdges"/>
<rect x="377.9" y="867.1" width="12.6" height="26.4" fill="#f8f4fa" shape-rendering="crispEdges"/>
<rect x="390.1" y="890.7" width="12.6" height="2.8" fill="#f8f4fa" shape-rendering="crispEdges"/>
<rect x="402.4" y="873" width="12.6" height="20.5" fill="#f8f4fa" shape-rendering="crispEdges"/>
<rect x="414.7" y="878.2" width="12.6" height="15.3" fill="#f8f4fa" shape-rendering="crispEdges"/>
<rect x="427" y="890.7" width="12.6" height="2.8" fill="#f8f4fa" shape-rendering="crispEdges"/>
<rect x="451.5" y="890" width="12.6" height="3.5" fill="#f8f4fa" shape-rendering="crispEdges"/>
<rect x="463.8" y="869.9" width="12.6" height="23.6" fill="#f8f4fa" shape-rendering="crispEdges"/>
<rect x="476.1" y="877.7" width="12.6" height="15.8" fill="#f8f4fa" shape-rendering="crispEdges"/>
<rect x="488.4" y="890" width="12.6" height="3.5" fill="#f8f4fa" shape-rendering="crispEdges"/>
<rect x="500.7" y="869.9" width="12.6" height="23.6" fill="#f8f4fa" shape-rendering="crispEdges"/>
<rect x="512.9" y="873.7" width="12.6" height="19.8" fill="#f8f4fa" shape-rendering="crispEdges"/>
<rect x="525.2" y="867.1" width="12.6" height="26.4" fill="#f8f4fa" shape-rendering="crispEdges"/>
<rect x="537.5" y="867.1" width="12.6" height="26.4" fill="#f8f4fa" shape-rendering="crispEdges"/>
<rect x="549.8" y="867.1" width="12.6" height="26.4" fill="#f8f4fa" shape-rendering="crispEdges"/>
<rect x="562" y="887.9" width="12.6" height="5.6" fill="#f8f4fa" shape-rendering="crispEdges"/>
<rect x="574.3" y="877" width="12.6" height="16.5" fill="#f8f4fa" shape-rendering="crispEdges"/>
<rect x="586.6" y="890.7" width="12.6" height="2.8" fill="#f8f4fa" shape-rendering="crispEdges"/>
<rect x="648" y="891.1" width="12.6" height="2.4" fill="#f8f4fa" shape-rendering="crispEdges"/>
<rect x="660.3" y="876.2" width="12.6" height="17.3" fill="#f8f4fa" shape-rendering="crispEdges"/>
<rect x="672.6" y="866.9" width="12.6" height="26.6" fill="#f8f4fa" shape-rendering="crispEdges"/>
<rect x="697.1" y="887.8" width="12.6" height="5.7" fill="#f8f4fa" shape-rendering="crispEdges"/>
<rect x="709.4" y="885.1" width="12.6" height="8.4" fill="#f8f4fa" shape-rendering="crispEdges"/>
<rect x="721.7" y="875.4" width="12.6" height="18.1" fill="#f8f4fa" shape-rendering="crispEdges"/>
<rect x="733.9" y="871.8" width="12.6" height="21.7" fill="#f8f4fa" shape-rendering="crispEdges"/>
<rect x="746.2" y="890.7" width="12.6" height="2.8" fill="#f8f4fa" shape-rendering="crispEdges"/>
<rect x="758.5" y="867.1" width="12.6" height="26.4" fill="#f8f4fa" shape-rendering="crispEdges"/>
<rect x="770.8" y="867.1" width="12.6" height="26.4" fill="#f8f4fa" shape-rendering="crispEdges"/>
<rect x="783.1" y="886" width="12.6" height="7.5" fill="#f8f4fa" shape-rendering="crispEdges"/>
<rect x="819.9" y="890.7" width="12.6" height="2.8" fill="#f8f4fa" shape-rendering="crispEdges"/>
<rect x="832.2" y="887.2" width="12.6" height="6.3" fill="#f8f4fa" shape-rendering="crispEdges"/>
<rect x="844.5" y="867.1" width="12.6" height="26.4" fill="#f8f4fa" shape-rendering="crispEdges"/>
<rect x="856.7" y="883.6" width="12.6" height="9.9" fill="#f8f4fa" shape-rendering="crispEdges"/>
<rect x="869" y="890.7" width="12.6" height="2.8" fill="#f8f4fa" shape-rendering="crispEdges"/>
<rect x="881.3" y="877" width="12.6" height="16.5" fill="#f8f4fa" shape-rendering="crispEdges"/>
<rect x="893.6" y="889.6" width="12.6" height="3.9" fill="#f8f4fa" shape-rendering="crispEdges"/>
<rect x="905.8" y="887.9" width="12.6" height="5.6" fill="#f8f4fa" shape-rendering="crispEdges"/>
<rect x="918.1" y="890.7" width="12.6" height="2.8" fill="#f8f4fa" shape-rendering="crispEdges"/>
<rect x="930.4" y="890.7" width="12.6" height="2.8" fill="#f8f4fa" shape-rendering="crispEdges"/>
<rect x="942.7" y="877" width="12.6" height="16.5" fill="#f8f4fa" shape-rendering="crispEdges"/>
<rect x="967.2" y="867.1" width="12.6" height="26.4" fill="#f8f4fa" shape-rendering="crispEdges"/>
<rect x="979.5" y="867.1" width="12.6" height="26.4" fill="#f8f4fa" shape-rendering="crispEdges"/>
<rect x="991.8" y="889.6" width="12.6" height="3.9" fill="#f8f4fa" shape-rendering="crispEdges"/>
<rect x="1004.1" y="889.6" width="12.6" height="3.9" fill="#f8f4fa" shape-rendering="crispEdges"/>
<rect x="1016.4" y="883.6" width="12.6" height="9.9" fill="#f8f4fa" shape-rendering="crispEdges"/>
<rect x="1028.6" y="867.1" width="12.6" height="26.4" fill="#f8f4fa" shape-rendering="crispEdges"/>
<rect x="1040.9" y="888.8" width="12.6" height="4.7" fill="#f8f4fa" shape-rendering="crispEdges"/>
<rect x="1053.2" y="890.7" width="12.6" height="2.8" fill="#f8f4fa" shape-rendering="crispEdges"/>
<rect x="1065.5" y="867.1" width="12.6" height="26.4" fill="#f8f4fa" shape-rendering="crispEdges"/>
<rect x="1077.7" y="884.8" width="12.6" height="8.7" fill="#f8f4fa" shape-rendering="crispEdges"/>
<rect x="132.3" y="913.2" width="12.6" height="7.3" fill="#e8e8e8" shape-rendering="crispEdges"/>
<rect x="218.2" y="899" width="12.6" height="21.5" fill="#e8e8e8" shape-rendering="crispEdges"/>
<rect x="230.5" y="895" width="12.6" height="25.5" fill="#e8e8e8" shape-rendering="crispEdges"/>
<rect x="242.8" y="918" width="12.6" height="2.5" fill="#e8e8e8" shape-rendering="crispEdges"/>
<rect x="316.5" y="918" width="12.6" height="2.5" fill="#e8e8e8" shape-rendering="crispEdges"/>
<rect x="328.8" y="916" width="12.6" height="4.5" fill="#e8e8e8" shape-rendering="crispEdges"/>
<rect x="341" y="918" width="12.6" height="2.5" fill="#e8e8e8" shape-rendering="crispEdges"/>
<rect x="414.7" y="918" width="12.6" height="2.5" fill="#e8e8e8" shape-rendering="crispEdges"/>
<rect x="427" y="900.2" width="12.6" height="20.3" fill="#e8e8e8" shape-rendering="crispEdges"/>
<rect x="439.3" y="900.2" width="12.6" height="20.3" fill="#e8e8e8" shape-rendering="crispEdges"/>
<rect x="451.5" y="918" width="12.6" height="2.5" fill="#e8e8e8" shape-rendering="crispEdges"/>
<rect x="512.9" y="906.8" width="12.6" height="13.7" fill="#e8e8e8" shape-rendering="crispEdges"/>
<rect x="525.2" y="916" width="12.6" height="4.5" fill="#e8e8e8" shape-rendering="crispEdges"/>
<rect x="623.4" y="909.2" width="12.6" height="11.3" fill="#e8e8e8" shape-rendering="crispEdges"/>
<rect x="635.7" y="902.1" width="12.6" height="18.4" fill="#e8e8e8" shape-rendering="crispEdges"/>
<rect x="648" y="918" width="12.6" height="2.5" fill="#e8e8e8" shape-rendering="crispEdges"/>
<rect x="672.6" y="918" width="12.6" height="2.5" fill="#e8e8e8" shape-rendering="crispEdges"/>
<rect x="721.7" y="906.1" width="12.6" height="14.4" fill="#e8e8e8" shape-rendering="crispEdges"/>
<rect x="733.9" y="900.9" width="12.6" height="19.6" fill="#e8e8e8" shape-rendering="crispEdges"/>
<rect x="746.2" y="916.7" width="12.6" height="3.8" fill="#e8e8e8" shape-rendering="crispEdges"/>
<rect x="758.5" y="917.4" width="12.6" height="3.1" fill="#e8e8e8" shape-rendering="crispEdges"/>
<rect x="770.8" y="917.4" width="12.6" height="3.1" fill="#e8e8e8" shape-rendering="crispEdges"/>
<rect x="783.1" y="917.4" width="12.6" height="3.1" fill="#e8e8e8" shape-rendering="crispEdges"/>
<rect x="795.3" y="914.8" width="12.6" height="5.7" fill="#e8e8e8" shape-rendering="crispEdges"/>
<rect x="807.6" y="895" width="12.6" height="25.5" fill="#e8e8e8" shape-rendering="crispEdges"/>
<rect x="819.9" y="910.1" width="12.6" height="10.4" fill="#e8e8e8" shape-rendering="crispEdges"/>
<rect x="832.2" y="895.9" width="12.6" height="24.6" fill="#e8e8e8" shape-rendering="crispEdges"/>
<rect x="844.5" y="914.8" width="12.6" height="5.7" fill="#e8e8e8" shape-rendering="crispEdges"/>
<rect x="856.7" y="918" width="12.6" height="2.5" fill="#e8e8e8" shape-rendering="crispEdges"/>
<rect x="869" y="914.8" width="12.6" height="5.7" fill="#e8e8e8" shape-rendering="crispEdges"/>
<rect x="881.3" y="907.3" width="12.6" height="13.2" fill="#e8e8e8" shape-rendering="crispEdges"/>
<rect x="893.6" y="908.9" width="12.6" height="11.6" fill="#e8e8e8" shape-rendering="crispEdges"/>
<rect x="905.8" y="904.9" width="12.6" height="15.6" fill="#e8e8e8" shape-rendering="crispEdges"/>
<rect x="930.4" y="900.9" width="12.6" height="19.6" fill="#e8e8e8" shape-rendering="crispEdges"/>
<rect x="942.7" y="899" width="12.6" height="21.5" fill="#e8e8e8" shape-rendering="crispEdges"/>
<rect x="955" y="903.7" width="12.6" height="16.8" fill="#e8e8e8" shape-rendering="crispEdges"/>
<rect x="967.2" y="900.2" width="12.6" height="20.3" fill="#e8e8e8" shape-rendering="crispEdges"/>
<rect x="1004.1" y="895.9" width="12.6" height="24.6" fill="#e8e8e8" shape-rendering="crispEdges"/>
<rect x="1016.4" y="897.8" width="12.6" height="22.7" fill="#e8e8e8" shape-rendering="crispEdges"/>
<rect x="1065.5" y="918" width="12.6" height="2.5" fill="#e8e8e8" shape-rendering="crispEdges"/>
<rect x="218.2" y="942" width="12.6" height="6.5" fill="#e8e8e8" shape-rendering="crispEdges"/>
<line x1="132.3" y1="893.5" x2="1090.5" y2="893.5" stroke="#a0a0a0" stroke-width="1" stroke-dasharray="4 2" />
<line x1="132.3" y1="920.5" x2="1090.5" y2="920.5" stroke="#a0a0a0" stroke-width="1" stroke-dasharray="4 2" />
<line x1="132.3" y1="948.5" x2="1090.5" y2="948.5" stroke="#a0a0a0" stroke-width="1" stroke-dasharray="4 2" />
<line x1="175.5" y1="866" x2="175.5" y2="950" stroke="#a0a0a0" stroke-width="1" stroke-dasharray="4 2"/>
<line x1="273.7" y1="866" x2="273.7" y2="950" stroke="#a0a0a0" stroke-width="1" stroke-dasharray="4 2"/>
<line x1="371.9" y1="866" x2="371.9" y2="950" stroke="#a0a0a0" stroke-width="1" stroke-dasharray="4 2"/>
<line x1="470.1" y1="866" x2="470.1" y2="950" stroke="#a0a0a0" stroke-width="1" stroke-dasharray="4 2"/>
<line x1="568.3" y1="866" x2="568.3" y2="950" stroke="#a0a0a0" stroke-width="1" stroke-dasharray="4 2"/>
<line x1="666.5" y1="866" x2="666.5" y2="950" stroke="#a0a0a0" stroke-width="1" stroke-dasharray="4 2"/>
<line x1="764.7" y1="866" x2="764.7" y2="950" stroke="#a0a0a0" stroke-width="1" stroke-dasharray="4 2"/>
<line x1="862.9" y1="866" x2="862.9" y2="950" stroke="#a0a0a0" stroke-width="1" stroke-dasharray="4 2"/>
<line x1="961.1" y1="866" x2="961.1" y2="950" stroke="#a0a0a0" stroke-width="1" stroke-dasharray="4 2"/>
<line x1="1059.3" y1="866" x2="1059.3" y2="950" stroke="#a0a0a0" stroke-width="1" stroke-dasharray="4 2"/>
<line x1="132.5" y1="972.5" x2="1090.5" y2="972.5" stroke="#a0a0a0" stroke-width="1" stroke-dasharray="4 2" />
<line x1="132.5" y1="994.5" x2="1090.5" y2="994.5" stroke="#a0a0a0" stroke-width="1" stroke-dasharray="4 2" />
<line x1="132.5" y1="1016.5" x2="1090.5" y2="1016.5" stroke="#a0a0a0" stroke-width="1" stroke-dasharray="4 2" />
<line x1="132.5" y1="1038.5" x2="1090.5" y2="1038.5" stroke="#a0a0a0" stroke-width="1" stroke-dasharray="4 2" />
<line x1="175.5" y1="950.5" x2="175.5" y2="1060.5" stroke="#a0a0a0" stroke-width="1" stroke-dasharray="4 2"/>
<line x1="273.7" y1="950.5" x2="273.7" y2="1060.5" stroke="#a0a0a0" stroke-width="1" stroke-dasharray="4 2"/>
<line x1="371.9" y1="950.5" x2="371.9" y2="1060.5" stroke="#a0a0a0" stroke-width="1" stroke-dasharray="4 2"/>
<line x1="470.1" y1="950.5" x2="470.1" y2="1060.5" stroke="#a0a0a0" stroke-width="1" stroke-dasharray="4 2"/>
<line x1="568.3" y1="950.5" x2="568.3" y2="1060.5" stroke="#a0a0a0" stroke-width="1" stroke-dasharray="4 2"/>
<line x1="666.5" y1="950.5" x2="666.5" y2="1060.5" stroke="#a0a0a0" stroke-width="1" stroke-dasharray="4 2"/>
<line x1="764.7" y1="950.5" x2="764.7" y2="1060.5" stroke="#a0a0a0" stroke-width="1" stroke-dasharray="4 2"/>
<line x1="862.9" y1="950.5" x2="862.9" y2="1060.5" stroke="#a0a0a0" stroke-width="1" stroke-dasharray="4 2"/>
<line x1="961.1" y1="950.5" x2="961.1" y2="1060.5" stroke="#a0a0a0" stroke-width="1" stroke-dasharray="4 2"/>
<line x1="1059.3" y1="950.5" x2="1059.3" y2="1060.5" stroke="#a0a0a0" stroke-width="1" stroke-dasharray="4 2"/>
<g fill="none" stroke="#000" stroke-width="1" shape-rendering="crispEdges">
<rect x="120.5" y="70.5" width="970" height="370"/>
<line x1="120.5" y1="525.5" x2="1090.5" y2="525.5"/>
<line x1="120.5" y1="610.5" x2="1090.5" y2="610.5"/>
<line x1="120.5" y1="695.5" x2="1090.5" y2="695.5"/>
<line x1="120.5" y1="780.5" x2="1090.5" y2="780.5"/>
<line x1="120.5" y1="865.5" x2="1090.5" y2="865.5"/>
<line x1="120.5" y1="440.5" x2="120.5" y2="865.5"/>
<line x1="1090.5" y1="440.5" x2="1090.5" y2="950.5"/>
<rect x="132.5" y="950.5" width="958" height="110"/>
<line x1="132.5" y1="893.5" x2="132.5" y2="950.5"/>
</g>
<line x1="69.5" y1="440" x2="69.5" y2="526" stroke="#000"/>
<text x="62" y="454" font-size="12" text-anchor="end" fill="#000" textLength="20.5" lengthAdjust="spacingAndGlyphs" >582</text>
<line x1="65.5" y1="449.5" x2="69.5" y2="449.5" stroke="#000"/>
<text x="62" y="471" font-size="12" text-anchor="end" fill="#000" textLength="20.5" lengthAdjust="spacingAndGlyphs" >580</text>
<line x1="65.5" y1="466.5" x2="69.5" y2="466.5" stroke="#000"/>
<text x="62" y="489" font-size="12" text-anchor="end" fill="#000" textLength="20.5" lengthAdjust="spacingAndGlyphs" >578</text>
<line x1="65.5" y1="484.5" x2="69.5" y2="484.5" stroke="#000"/>
<text x="62" y="506" font-size="12" text-anchor="end" fill="#000" textLength="20.5" lengthAdjust="spacingAndGlyphs" >576</text>
<line x1="65.5" y1="501.5" x2="69.5" y2="501.5" stroke="#000"/>
<text x="62" y="524" font-size="12" text-anchor="end" fill="#000" textLength="20.5" lengthAdjust="spacingAndGlyphs" >574</text>
<line x1="65.5" y1="519.5" x2="69.5" y2="519.5" stroke="#000"/>
<text x="112" y="464" font-size="12" text-anchor="end" fill="#000" textLength="27" lengthAdjust="spacingAndGlyphs" >1014</text>
<line x1="116" y1="459.5" x2="120" y2="459.5" stroke="#000"/>
<text x="112" y="489" font-size="12" text-anchor="end" fill="#000" textLength="27" lengthAdjust="spacingAndGlyphs" >1011</text>
<line x1="116" y1="484.5" x2="120" y2="484.5" stroke="#000"/>
<text x="112" y="515" font-size="12" text-anchor="end" fill="#000" textLength="27" lengthAdjust="spacingAndGlyphs" >1008</text>
<line x1="116" y1="510.5" x2="120" y2="510.5" stroke="#000"/>
<text transform="translate(15.5,483) rotate(-90)" x="0" y="5" font-size="14" text-anchor="middle" fill="#1ec8c8" textLength="96" lengthAdjust="spacingAndGlyphs" >1000-500mb</text>
<text transform="translate(32,488) rotate(-90)" x="0" y="5" font-size="14" text-anchor="middle" fill="#1ec8c8" textLength="106" lengthAdjust="spacingAndGlyphs" >Thcknss (dm)</text>
<text transform="translate(79,483.5) rotate(-90)" x="0" y="5" font-size="14" text-anchor="middle" fill="#1e3cdc" textLength="67" lengthAdjust="spacingAndGlyphs" >SLP (mb)</text>
<line x1="50.5" y1="525" x2="50.5" y2="611" stroke="#000"/>
<text x="42" y="530" font-size="12" text-anchor="end" fill="#000" >−6</text>
<line x1="46" y1="525.5" x2="50.5" y2="525.5" stroke="#000"/>
<text x="42" y="552" font-size="12" text-anchor="end" fill="#000" >−3</text>
<line x1="46" y1="547.5" x2="50.5" y2="547.5" stroke="#000"/>
<text x="42" y="573" font-size="12" text-anchor="end" fill="#000" >0</text>
<line x1="46" y1="568.5" x2="50.5" y2="568.5" stroke="#000"/>
<text x="42" y="594" font-size="12" text-anchor="end" fill="#000" >3</text>
<line x1="46" y1="589.5" x2="50.5" y2="589.5" stroke="#000"/>
<text x="42" y="615" font-size="12" text-anchor="end" fill="#000" >6</text>
<line x1="46" y1="610.5" x2="50.5" y2="610.5" stroke="#000"/>
<text x="112" y="531" font-size="12" text-anchor="end" fill="#000" textLength="20.5" lengthAdjust="spacingAndGlyphs" >488</text>
<line x1="116" y1="526.5" x2="120" y2="526.5" stroke="#000"/>
<text x="112" y="552" font-size="12" text-anchor="end" fill="#000" textLength="20.5" lengthAdjust="spacingAndGlyphs" >366</text>
<line x1="116" y1="547.5" x2="120" y2="547.5" stroke="#000"/>
<text x="112" y="573" font-size="12" text-anchor="end" fill="#000" textLength="20.5" lengthAdjust="spacingAndGlyphs" >244</text>
<line x1="116" y1="568.5" x2="120" y2="568.5" stroke="#000"/>
<text x="112" y="594" font-size="12" text-anchor="end" fill="#000" textLength="20.5" lengthAdjust="spacingAndGlyphs" >122</text>
<line x1="116" y1="589.5" x2="120" y2="589.5" stroke="#000"/>
<text transform="translate(17.5,567.5) rotate(-90)" x="0" y="5" font-size="14" text-anchor="middle" fill="#f03c3c" textLength="82" lengthAdjust="spacingAndGlyphs" >Lifted Index</text>
<text transform="translate(79,568.5) rotate(-90)" x="0" y="5" font-size="14" text-anchor="middle" fill="#c07cf0" textLength="87" lengthAdjust="spacingAndGlyphs" >CAPE (J/kg)</text>
<text x="112" y="632" font-size="12" text-anchor="end" fill="#000" >6</text>
<line x1="116" y1="627.5" x2="120" y2="627.5" stroke="#000"/>
<text x="112" y="653" font-size="12" text-anchor="end" fill="#000" >4</text>
<line x1="116" y1="648.5" x2="120" y2="648.5" stroke="#000"/>
<text x="112" y="674" font-size="12" text-anchor="end" fill="#000" >2</text>
<line x1="116" y1="669.5" x2="120" y2="669.5" stroke="#000"/>
<text x="112" y="695" font-size="12" text-anchor="end" fill="#000" >0</text>
<line x1="116" y1="690.5" x2="120" y2="690.5" stroke="#000"/>
<text transform="translate(15.5,653) rotate(-90)" x="0" y="5" font-size="14" text-anchor="middle" fill="#ff8c1e" textLength="68.5" lengthAdjust="spacingAndGlyphs" >10m Wind</text>
<text transform="translate(35.5,653.7) rotate(-90)" x="0" y="5" font-size="14" text-anchor="middle" fill="#ff8c1e" textLength="40.6" lengthAdjust="spacingAndGlyphs" >Speed</text>
<text transform="translate(55.6,653) rotate(-90)" x="0" y="5" font-size="14" text-anchor="middle" fill="#8c6e50" textLength="58" lengthAdjust="spacingAndGlyphs" >&amp; Barbs</text>
<text transform="translate(76.2,653.4) rotate(-90)" x="0" y="5" font-size="14" text-anchor="middle" fill="#000" textLength="41" lengthAdjust="spacingAndGlyphs" >(m/s)</text>
<text x="112" y="710" font-size="12" text-anchor="end" fill="#000" textLength="13.5" lengthAdjust="spacingAndGlyphs" >32</text>
<line x1="116" y1="705.5" x2="120" y2="705.5" stroke="#000"/>
<text x="112" y="730" font-size="12" text-anchor="end" fill="#000" textLength="13.5" lengthAdjust="spacingAndGlyphs" >24</text>
<line x1="116" y1="725.5" x2="120" y2="725.5" stroke="#000"/>
<text x="112" y="750" font-size="12" text-anchor="end" fill="#000" textLength="13.5" lengthAdjust="spacingAndGlyphs" >16</text>
<line x1="116" y1="745.5" x2="120" y2="745.5" stroke="#000"/>
<text x="112" y="770" font-size="12" text-anchor="end" fill="#000" >8</text>
<line x1="116" y1="765.5" x2="120" y2="765.5" stroke="#000"/>
<text transform="translate(16.5,738.5) rotate(-90)" x="0" y="5" font-size="14" text-anchor="middle" fill="#7a3c2a" textLength="66" lengthAdjust="spacingAndGlyphs" >2m Temp</text>
<text transform="translate(35.5,737.5) rotate(-90)" x="0" y="5" font-size="14" text-anchor="middle" fill="#7a3c2a" textLength="72.5" lengthAdjust="spacingAndGlyphs" >2m DewPt</text>
<text transform="translate(55.6,739) rotate(-90)" x="0" y="5" font-size="14" text-anchor="middle" fill="#7a3c2a" textLength="100" lengthAdjust="spacingAndGlyphs" >(6hr Min/Max)</text>
<text transform="translate(76.2,738.2) rotate(-90)" x="0" y="5" font-size="14" text-anchor="middle" fill="#000" textLength="25.5" lengthAdjust="spacingAndGlyphs" >(°C)</text>
<text x="112" y="785" font-size="12" text-anchor="end" fill="#000" textLength="13.5" lengthAdjust="spacingAndGlyphs" >70</text>
<line x1="116" y1="780.5" x2="120" y2="780.5" stroke="#000"/>
<text x="112" y="819" font-size="12" text-anchor="end" fill="#000" textLength="13.5" lengthAdjust="spacingAndGlyphs" >50</text>
<line x1="116" y1="814.5" x2="120" y2="814.5" stroke="#000"/>
<text x="112" y="853" font-size="12" text-anchor="end" fill="#000" textLength="13.5" lengthAdjust="spacingAndGlyphs" >30</text>
<line x1="116" y1="848.5" x2="120" y2="848.5" stroke="#000"/>
<text transform="translate(35,823) rotate(-90)" x="0" y="5" font-size="14" text-anchor="middle" fill="#00c800" textLength="47.5" lengthAdjust="spacingAndGlyphs" >2m RH</text>
<text transform="translate(75.7,823.7) rotate(-90)" x="0" y="5" font-size="14" text-anchor="middle" fill="#000" textLength="21" lengthAdjust="spacingAndGlyphs" >(%)</text>
<text x="121" y="886" font-size="15.5" text-anchor="end" fill="#000" textLength="27.5" lengthAdjust="spacingAndGlyphs" >high</text>
<text x="121" y="914.7" font-size="15.5" text-anchor="end" fill="#000" textLength="43.3" lengthAdjust="spacingAndGlyphs" >middle</text>
<text x="121" y="942.7" font-size="15.5" text-anchor="end" fill="#000" textLength="20.5" lengthAdjust="spacingAndGlyphs" >low</text>
<line x1="128" y1="893.5" x2="132.5" y2="893.5" stroke="#000"/>
<line x1="128" y1="920.5" x2="132.5" y2="920.5" stroke="#000"/>
<line x1="128" y1="948.5" x2="132.5" y2="948.5" stroke="#000"/>
<text transform="translate(24.8,908) rotate(-90)" x="0" y="5.4" font-size="15" text-anchor="middle" fill="#4696d2" textLength="84.5" lengthAdjust="spacingAndGlyphs" >Cloud Cover</text>
<text transform="translate(45.8,908.4) rotate(-90)" x="0" y="5" font-size="14" text-anchor="middle" fill="#000" textLength="20.3" lengthAdjust="spacingAndGlyphs" >(%)</text>
<text x="124" y="977" font-size="12" text-anchor="end" fill="#000" >0.8</text>
<line x1="128" y1="972.5" x2="132.5" y2="972.5" stroke="#000"/>
<text x="124" y="999" font-size="12" text-anchor="end" fill="#000" >0.6</text>
<line x1="128" y1="994.5" x2="132.5" y2="994.5" stroke="#000"/>
<text x="124" y="1021" font-size="12" text-anchor="end" fill="#000" >0.4</text>
<line x1="128" y1="1016.5" x2="132.5" y2="1016.5" stroke="#000"/>
<text x="124" y="1043" font-size="12" text-anchor="end" fill="#000" >0.2</text>
<line x1="128" y1="1038.5" x2="132.5" y2="1038.5" stroke="#000"/>
<text x="124" y="1065" font-size="12" text-anchor="end" fill="#000" >0</text>
<line x1="128" y1="1060.5" x2="132.5" y2="1060.5" stroke="#000"/>
<text x="69.6" y="976.6" font-size="15.5" text-anchor="end" fill="#1ed21e" textLength="90" lengthAdjust="spacingAndGlyphs" >Total / Rain</text>
<text x="69.6" y="996.7" font-size="15.5" text-anchor="end" fill="#f03c3c" textLength="73" lengthAdjust="spacingAndGlyphs" >Convective</text>
<text transform="translate(82,989.5) rotate(-90)" x="0" y="5.4" font-size="15" text-anchor="middle" fill="#000" textLength="121" lengthAdjust="spacingAndGlyphs" >3hr Precip (mm)</text>
<text x="1085" y="966" font-size="14" text-anchor="end" fill="#000" textLength="104" lengthAdjust="spacingAndGlyphs" >Run Total = 0</text>
<text x="175.5" y="1081" font-size="16" text-anchor="middle" fill="#000" textLength="44" lengthAdjust="spacingAndGlyphs" >23SEP</text>
<line x1="175.5" y1="1060" x2="175.5" y2="1064" stroke="#000"/>
<text x="273.7" y="1081" font-size="16" text-anchor="middle" fill="#000" textLength="44" lengthAdjust="spacingAndGlyphs" >24SEP</text>
<line x1="273.7" y1="1060" x2="273.7" y2="1064" stroke="#000"/>
<text x="371.9" y="1081" font-size="16" text-anchor="middle" fill="#000" textLength="44" lengthAdjust="spacingAndGlyphs" >25SEP</text>
<line x1="371.9" y1="1060" x2="371.9" y2="1064" stroke="#000"/>
<text x="470.1" y="1081" font-size="16" text-anchor="middle" fill="#000" textLength="44" lengthAdjust="spacingAndGlyphs" >26SEP</text>
<line x1="470.1" y1="1060" x2="470.1" y2="1064" stroke="#000"/>
<text x="568.3" y="1081" font-size="16" text-anchor="middle" fill="#000" textLength="44" lengthAdjust="spacingAndGlyphs" >27SEP</text>
<line x1="568.3" y1="1060" x2="568.3" y2="1064" stroke="#000"/>
<text x="666.5" y="1081" font-size="16" text-anchor="middle" fill="#000" textLength="44" lengthAdjust="spacingAndGlyphs" >28SEP</text>
<line x1="666.5" y1="1060" x2="666.5" y2="1064" stroke="#000"/>
<text x="764.7" y="1081" font-size="16" text-anchor="middle" fill="#000" textLength="44" lengthAdjust="spacingAndGlyphs" >29SEP</text>
<line x1="764.7" y1="1060" x2="764.7" y2="1064" stroke="#000"/>
<text x="862.9" y="1081" font-size="16" text-anchor="middle" fill="#000" textLength="44" lengthAdjust="spacingAndGlyphs" >30SEP</text>
<line x1="862.9" y1="1060" x2="862.9" y2="1064" stroke="#000"/>
<text x="961.1" y="1081" font-size="16" text-anchor="middle" fill="#000" textLength="34.5" lengthAdjust="spacingAndGlyphs" >1OCT</text>
<line x1="961.1" y1="1060" x2="961.1" y2="1064" stroke="#000"/>
<text x="1059.3" y="1081" font-size="16" text-anchor="middle" fill="#000" textLength="34.5" lengthAdjust="spacingAndGlyphs" >2OCT</text>
<line x1="1059.3" y1="1060" x2="1059.3" y2="1064" stroke="#000"/>
<text x="6" y="1095.3" font-size="12.5" text-anchor="start" fill="#000" textLength="114" lengthAdjust="spacingAndGlyphs" >GrADS: COLA/IGES</text>
<rect x="40" y="282" width="4.7" height="54" fill="#00c800"/>
<rect x="44.7" y="282" width="5.4" height="54" fill="#00ff00"/>
<rect x="50.1" y="282" width="3.9" height="54" fill="#7cd87c"/>
<rect x="54" y="282" width="5.1" height="54" fill="#a0cca0"/>
<rect x="59.1" y="282" width="3.9" height="54" fill="#c8d6c8"/>
<text transform="translate(55.7,331.5) rotate(-90)" x="0" y="0" font-size="15" fill="#000" textLength="47" lengthAdjust="spacingAndGlyphs">RH (%)</text>
<text transform="translate(56,264.4) rotate(-90)" x="0" y="0" font-size="16" fill="#000" textLength="78.6" lengthAdjust="spacingAndGlyphs"><tspan fill="#f03c3c">T</tspan><tspan fill="#f06428">e</tspan><tspan fill="#f08c1e">m</tspan><tspan fill="#dcb414">p</tspan><tspan fill="#b4c81e">e</tspan><tspan fill="#8cc828">r</tspan><tspan fill="#28c850">a</tspan><tspan fill="#14c8a0">t</tspan><tspan fill="#14b4dc">u</tspan><tspan fill="#3c64f0">r</tspan><tspan fill="#8c28dc">e</tspan></text>
<text transform="translate(56.5,177) rotate(-90)" x="0" y="0" font-size="16" fill="#f03c3c" textLength="26.5" lengthAdjust="spacingAndGlyphs">(°C)</text>
<text transform="translate(56,148) rotate(-90)" x="0" y="0" font-size="16" fill="#000" textLength="29" lengthAdjust="spacingAndGlyphs">Wind</text>
<text transform="translate(56.5,109.2) rotate(-90)" x="0" y="0" font-size="16" fill="#000" textLength="41" lengthAdjust="spacingAndGlyphs">(m/s)</text>
<text transform="translate(84.7,323.4) rotate(-90)" x="0" y="0" font-size="16" fill="#000" textLength="135.4" lengthAdjust="spacing">(millibars)</text>
</svg></body></html>
